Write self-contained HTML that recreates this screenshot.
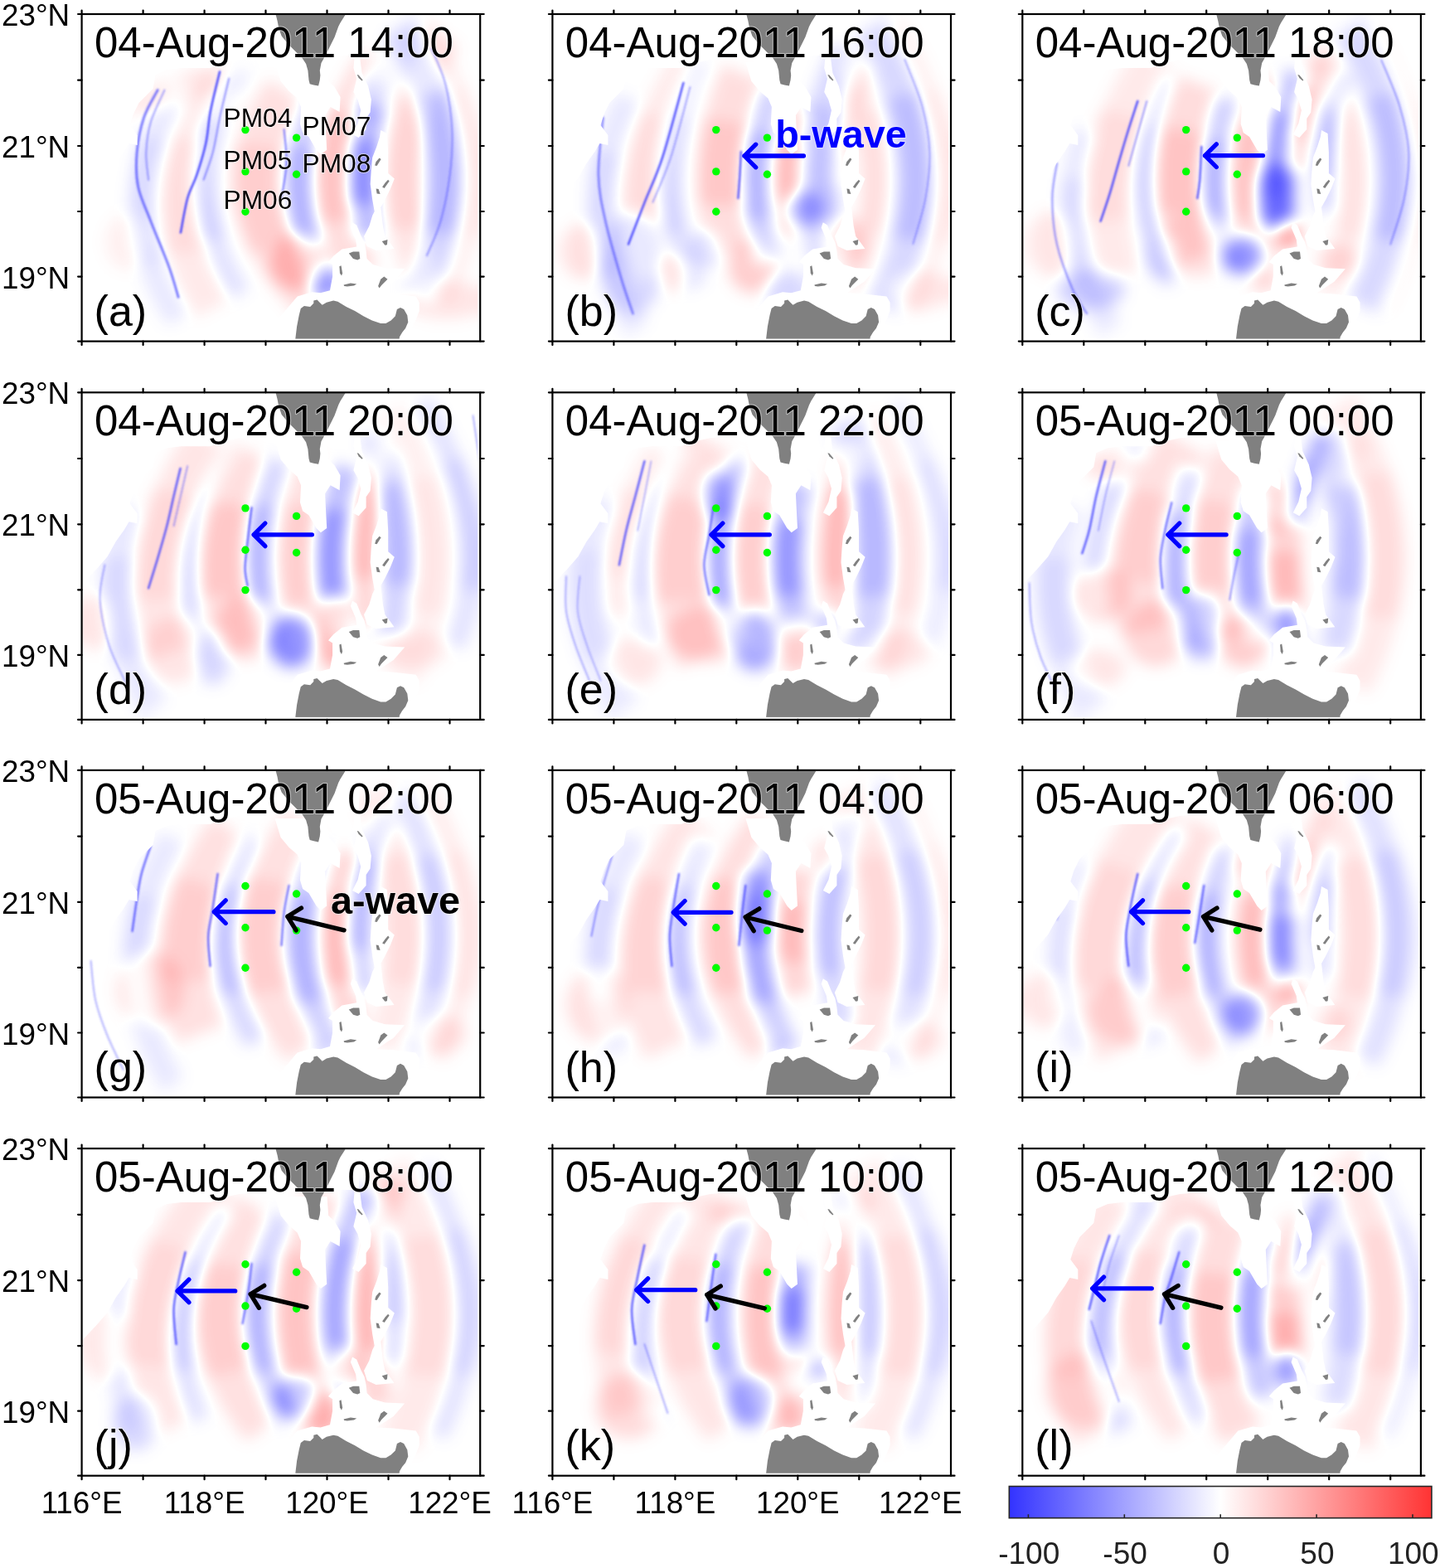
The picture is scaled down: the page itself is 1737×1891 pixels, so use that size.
<!DOCTYPE html><html><head><meta charset="utf-8"><style>html,body{margin:0;padding:0;background:#fff;}svg{display:block;}text{font-family:"Liberation Sans",Arial,sans-serif;}.t{font-size:51px;fill:#000;}.lb{font-size:52px;fill:#000;}.t,.lb,.pm,.wv{paint-order:stroke;stroke:#fff;stroke-opacity:0.5;stroke-width:2px;stroke-linejoin:round;}.ax{font-size:36.8px;fill:#000;}.cbl{font-size:37px;fill:#222;}.pm{font-size:31.7px;fill:#000;}.wv{font-size:46.8px;font-weight:bold;}</style></head><body>
<svg width="1737" height="1891" viewBox="0 0 1737 1891">
<defs>
<clipPath id="clipP"><rect x="0" y="0" width="480.6" height="394.6"/></clipPath>
<filter id="bl" x="-20%" y="-20%" width="140%" height="140%"><feGaussianBlur stdDeviation="9"/></filter>
<filter id="fld" filterUnits="userSpaceOnUse" x="0" y="0" width="480.6" height="394.6" color-interpolation-filters="sRGB"><feFlood flood-color="#000" result="bk"/><feMerge><feMergeNode in="bk"/><feMergeNode in="SourceGraphic"/></feMerge><feGaussianBlur stdDeviation="9"/><feColorMatrix type="matrix" values="1 0 -1 0 0  -1 0 1 0 0  0 0 0 0 0  0 0 0 0 1"/><feColorMatrix type="matrix" values="0 -0.8 0 0 1  -0.8 -0.8 0 0 1  -0.8 0 0 0 1  0 0 0 0 1"/></filter>
<filter id="bl2" x="-20%" y="-20%" width="140%" height="140%"><feGaussianBlur stdDeviation="3"/></filter>
<filter id="bl1" x="-20%" y="-20%" width="140%" height="140%"><feGaussianBlur stdDeviation="1"/></filter>
<linearGradient id="cb" x1="0" x2="1" y1="0" y2="0"><stop offset="0" stop-color="#3333ff"/><stop offset="0.5" stop-color="#ffffff"/><stop offset="1" stop-color="#ff3333"/></linearGradient>
<g id="statics"><polygon points="-5.0,-5.0 236.0,-5.0 233.0,43.0 215.0,53.0 190.0,55.0 172.0,59.0 155.0,65.0 120.0,65.0 103.0,67.0 89.0,73.0 86.0,90.0 74.0,102.0 69.0,107.0 62.0,121.0 58.0,134.0 67.0,146.0 67.0,158.0 57.0,156.0 51.0,166.0 41.0,180.0 31.0,198.0 17.0,214.0 0.0,232.0 -5.0,240.0" fill="#fff"/><polygon points="260.1,340.5 277.7,335.3 288.0,336.3 299.4,333.2 302.5,316.6 302.5,302.1 297.4,299.0 303.6,291.8 313.9,283.5 331.6,280.4 330.5,272.1 324.3,257.6 326.4,251.3 331.6,254.5 336.7,266.9 340.9,275.2 343.0,285.5 344.0,294.9 351.2,302.1 365.8,306.3 389.6,307.3 376.1,322.8 355.4,336.3 376.1,337.4 403.1,340.5 407.2,347.7 407.2,358.1 403.1,368.4 394.8,385.0 390.6,398.0 220.0,398.0 235.0,370.0" fill="#fff"/><polygon points="233.0,58.0 240.0,81.0 250.0,93.0 260.0,101.5 264.5,112.0 263.4,132.6 266.5,143.0 273.8,148.0 283.0,163.7 288.3,169.0 295.6,163.7 294.5,143.0 293.5,122.0 300.0,112.0 311.0,118.0 312.0,100.0 305.0,88.0 297.6,80.8 296.0,58.0" fill="#fff"/><polygon points="312.0,-2.0 336.0,-2.0 334.0,50.0 300.0,50.0 305.0,28.0 310.0,10.0" fill="#fff"/><polygon points="329.0,52.0 335.5,52.0 338.0,71.0 345.5,87.0 349.3,103.0 348.0,118.6 343.0,126.0 343.0,139.0 334.0,149.0 326.5,145.0 333.0,132.0 336.6,116.0 332.8,103.0 327.8,94.0 331.6,78.0 327.8,65.0" fill="#fff"/><polygon points="360.7,140.0 368.3,144.0 369.6,167.0 369.6,192.0 377.2,198.5 372.2,211.0 365.8,224.0 360.7,233.0 363.3,255.6 365.8,268.0 372.0,276.0 377.0,283.0 355.0,285.0 344.3,280.0 340.4,268.0 346.8,255.6 350.6,243.0 353.1,238.0 350.6,224.0 348.1,205.0 349.3,186.0 350.6,173.0 355.7,160.0 359.5,148.0" fill="#fff"/><polygon points="234.2,-2.0 234.2,1.3 236.0,8.2 237.1,14.0 239.4,22.0 241.1,26.6 249.8,37.0 261.3,48.5 265.9,53.1 270.5,60.0 272.8,68.1 273.9,79.6 275.1,84.2 279.7,85.4 285.5,86.5 287.2,79.6 287.8,73.8 287.2,68.1 288.9,58.9 293.5,50.8 300.4,37.0 305.0,27.8 309.6,15.1 311.9,10.5 317.7,1.3 317.7,-2.0" fill="#808080"/><polygon points="257.5,398.0 257.5,393.3 259.5,376.7 262.1,363.3 264.2,355.0 268.3,351.9 275.6,352.9 279.7,348.8 279.7,345.6 283.9,344.6 287.0,347.7 290.1,350.8 295.3,347.7 303.6,345.6 308.8,346.7 319.1,352.9 329.5,358.1 339.8,364.3 350.2,369.5 360.6,373.1 366.8,373.1 373.0,369.5 378.2,364.3 380.3,356.0 384.4,353.9 388.6,356.0 392.7,363.3 393.7,371.5 390.6,378.8 386.5,384.0 383.4,389.2 382.3,398.0" fill="#808080"/><rect x="477.6" y="0" width="3" height="394.6" fill="#fff"/><rect x="0" y="391.6" width="480.6" height="3" fill="#fff"/><polygon points="362.1,274.1 368.9,272.1 368.3,278.3 365.8,278.8" fill="#808080"/><polygon points="322.2,288.6 327.4,286.6 334.7,286.6 335.7,294.9 332.6,296.4 327.4,294.9" fill="#808080"/><polygon points="310.8,304.2 312.9,303.2 314.5,312.5 313.4,315.6 311.4,312.5" fill="#808080"/><polygon points="316.0,326.5 324.3,324.4 331.6,325.4 328.4,327.5 320.2,328.5 316.5,328.0" fill="#808080"/><polygon points="360.6,319.7 364.7,316.6 368.9,319.7 361.6,327.0 359.0,330.6 357.5,328.0 359.5,322.8" fill="#808080"/><polygon points="359.0,173.5 361.0,175.0 356.0,183.0 353.5,182.5 355.0,178.0" fill="#808080"/><polygon points="369.5,199.7 371.0,201.5 365.0,209.9 362.5,208.5 366.0,203.5" fill="#808080"/><polygon points="355.0,210.5 358.0,211.0 360.0,217.0 356.0,216.5" fill="#808080"/><polygon points="332.0,73.0 334.0,73.5 339.0,79.5 338.0,80.5 334.0,77.0" fill="#808080"/></g>
<g id="frame"><rect x="0" y="0" width="480.6" height="394.6" fill="none" stroke="#000" stroke-width="2.2"/><path d="M0.0,0 v-4.5 M0.0,394.6 v4.5 M74.0,0 v-4.5 M74.0,394.6 v4.5 M148.0,0 v-4.5 M148.0,394.6 v4.5 M221.9,0 v-4.5 M221.9,394.6 v4.5 M295.9,0 v-4.5 M295.9,394.6 v4.5 M369.9,0 v-4.5 M369.9,394.6 v4.5 M443.9,0 v-4.5 M443.9,394.6 v4.5 M0,0.0 h-4.5 M480.6,0.0 h4.5 M0,79.7 h-4.5 M480.6,79.7 h4.5 M0,159.0 h-4.5 M480.6,159.0 h4.5 M0,238.0 h-4.5 M480.6,238.0 h4.5 M0,316.6 h-4.5 M480.6,316.6 h4.5 M480.6,394.6 h4.5 M0,394.6 h-4.5 " stroke="#000" stroke-width="2.2" stroke-linecap="round" fill="none"/></g>
</defs>
<rect width="1737" height="1891" fill="#fff"/>
<g transform="translate(98.6,17.0)">
<rect x="0" y="0" width="480.6" height="394.6" fill="#fff"/>
<g clip-path="url(#clipP)">
<g filter="url(#fld)"><path d="M122.1,81.6 C120.8,83.5 117.1,89.1 114.7,92.9 C112.4,96.7 110.1,100.4 108.0,104.2 C105.8,108.0 103.8,111.7 101.8,115.5 C99.8,119.3 98.0,123.0 96.2,126.8 C94.4,130.6 92.8,134.3 91.2,138.1 C89.6,141.9 87.5,147.5 86.8,149.4" stroke="#0000ff" stroke-opacity="0.11" stroke-width="28" fill="none" stroke-linecap="butt"/><path d="M86.8,149.4 C85.5,153.6 81.1,166.2 79.0,174.6 C76.9,183.0 75.2,191.4 74.1,199.8 C72.9,208.2 72.2,216.6 72.1,225.0 C71.9,233.4 72.2,241.8 72.9,250.2 C73.7,258.6 75.0,267.0 76.7,275.4 C78.4,283.8 82.2,296.4 83.3,300.6" stroke="#0000ff" stroke-opacity="0.19" stroke-width="28" fill="none" stroke-linecap="butt"/><path d="M83.3,300.6 C84.0,302.5 85.8,308.1 87.2,311.9 C88.6,315.7 90.1,319.4 91.7,323.2 C93.3,327.0 95.0,330.7 96.8,334.5 C98.6,338.3 100.5,342.0 102.5,345.8 C104.5,349.6 106.5,353.3 108.7,357.1 C110.9,360.9 114.4,366.5 115.5,368.4" stroke="#0000ff" stroke-opacity="0.11" stroke-width="28" fill="none" stroke-linecap="butt"/><path d="M171.6,85.6 C170.4,87.5 166.6,93.1 164.2,96.8 C161.9,100.5 159.6,104.3 157.4,108.0 C155.3,111.7 153.2,115.5 151.2,119.2 C149.3,122.9 147.4,126.7 145.6,130.4 C143.8,134.1 142.2,137.9 140.6,141.6 C139.0,145.3 136.9,150.9 136.2,152.8" stroke="#ff0000" stroke-opacity="0.10" stroke-width="48" fill="none" stroke-linecap="butt"/><path d="M136.2,152.8 C135.0,156.5 131.1,167.7 129.2,175.2 C127.2,182.7 125.7,190.1 124.5,197.6 C123.3,205.1 122.6,212.5 122.2,220.0 C121.9,227.5 121.9,234.9 122.4,242.4 C122.8,249.9 123.6,257.3 124.9,264.8 C126.1,272.3 129.0,283.5 129.8,287.2" stroke="#ff0000" stroke-opacity="0.17" stroke-width="48" fill="none" stroke-linecap="butt"/><path d="M129.8,287.2 C130.3,289.1 131.9,294.7 133.1,298.4 C134.4,302.1 135.7,305.9 137.1,309.6 C138.5,313.3 140.0,317.1 141.6,320.8 C143.2,324.5 145.0,328.3 146.8,332.0 C148.6,335.7 150.5,339.5 152.5,343.2 C154.5,346.9 157.8,352.5 158.8,354.4" stroke="#ff0000" stroke-opacity="0.10" stroke-width="48" fill="none" stroke-linecap="butt"/><path d="M190.2,62.2 C189.1,64.0 185.7,69.4 183.6,73.0 C181.6,76.6 179.6,80.3 177.7,83.9 C175.7,87.5 173.9,91.1 172.2,94.7 C170.5,98.3 168.8,101.9 167.3,105.5 C165.7,109.1 164.3,112.8 162.9,116.4 C161.5,120.0 159.7,125.4 159.0,127.2" stroke="#0000ff" stroke-opacity="0.15" stroke-width="26" fill="none" stroke-linecap="butt"/><path d="M159.0,127.2 C157.9,131.2 154.1,143.4 152.4,151.5 C150.6,159.6 149.2,167.6 148.3,175.7 C147.4,183.8 147.0,191.9 147.0,200.0 C147.0,208.1 147.4,216.2 148.3,224.3 C149.2,232.4 150.6,240.4 152.4,248.5 C154.1,256.6 157.9,268.8 159.0,272.8" stroke="#0000ff" stroke-opacity="0.25" stroke-width="26" fill="none" stroke-linecap="butt"/><path d="M159.0,272.8 C159.7,274.6 161.5,280.0 162.9,283.6 C164.3,287.2 165.7,290.9 167.3,294.5 C168.8,298.1 170.5,301.7 172.2,305.3 C173.9,308.9 175.7,312.5 177.7,316.1 C179.6,319.7 181.6,323.4 183.6,327.0 C185.7,330.6 189.1,336.0 190.2,337.8" stroke="#0000ff" stroke-opacity="0.15" stroke-width="26" fill="none" stroke-linecap="butt"/><path d="M247.8,93.5 C246.6,95.3 242.8,100.7 240.5,104.3 C238.2,107.9 236.0,111.5 234.0,115.1 C232.0,118.7 230.1,122.3 228.3,126.0 C226.5,129.6 224.8,133.2 223.3,136.8 C221.8,140.4 220.4,144.0 219.2,147.6 C217.9,151.2 216.3,156.6 215.8,158.4" stroke="#ff0000" stroke-opacity="0.15" stroke-width="55" fill="none" stroke-linecap="butt"/><path d="M215.8,158.4 C215.1,161.8 212.4,172.1 211.5,178.9 C210.5,185.8 210.0,192.6 210.0,199.5 C210.0,206.3 210.4,213.2 211.3,220.0 C212.2,226.8 213.6,233.7 215.5,240.5 C217.3,247.4 219.6,254.2 222.4,261.1 C225.2,267.9 230.6,278.2 232.2,281.6" stroke="#ff0000" stroke-opacity="0.24" stroke-width="55" fill="none" stroke-linecap="butt"/><path d="M232.2,281.6 C233.2,283.4 236.2,288.8 238.5,292.4 C240.7,296.0 243.0,299.6 245.5,303.2 C248.0,306.8 250.6,310.4 253.4,314.1 C256.1,317.7 259.0,321.3 262.0,324.9 C265.0,328.5 268.1,332.1 271.4,335.7 C274.6,339.3 279.8,344.7 281.5,346.5" stroke="#ff0000" stroke-opacity="0.15" stroke-width="55" fill="none" stroke-linecap="butt"/><path d="M280.8,101.0 C280.3,102.6 278.5,107.4 277.4,110.6 C276.3,113.8 275.2,116.9 274.3,120.1 C273.3,123.3 272.4,126.5 271.5,129.7 C270.6,132.9 269.8,136.1 269.1,139.3 C268.3,142.5 267.7,145.6 267.0,148.8 C266.4,152.0 265.6,156.8 265.3,158.4" stroke="#0000ff" stroke-opacity="0.23" stroke-width="30" fill="none" stroke-linecap="butt"/><path d="M265.3,158.4 C264.9,161.8 263.4,172.1 262.9,178.9 C262.3,185.8 262.0,192.6 262.0,199.5 C262.0,206.3 262.2,213.2 262.8,220.0 C263.3,226.8 264.1,233.7 265.2,240.5 C266.2,247.4 267.6,254.2 269.2,261.1 C270.8,267.9 273.9,278.2 274.8,281.6" stroke="#0000ff" stroke-opacity="0.38" stroke-width="30" fill="none" stroke-linecap="butt"/><path d="M274.8,281.6 C275.3,283.2 276.9,288.0 278.0,291.2 C279.1,294.4 280.3,297.5 281.5,300.7 C282.7,303.9 284.0,307.1 285.4,310.3 C286.7,313.5 288.2,316.7 289.6,319.9 C291.1,323.1 292.6,326.2 294.2,329.4 C295.8,332.6 298.3,337.4 299.2,339.0" stroke="#0000ff" stroke-opacity="0.23" stroke-width="30" fill="none" stroke-linecap="butt"/><ellipse cx="291" cy="322" rx="18.9" ry="19.0" fill="#0000ff" fill-opacity="0.51"/><path d="M356.5,56.5 C355.3,58.3 351.5,63.6 349.1,67.2 C346.7,70.7 344.5,74.3 342.3,77.9 C340.1,81.4 338.0,85.0 336.1,88.5 C334.1,92.1 332.2,95.7 330.4,99.2 C328.6,102.8 326.9,106.4 325.3,109.9 C323.7,113.5 321.5,118.8 320.8,120.6" stroke="#ff0000" stroke-opacity="0.17" stroke-width="45" fill="none" stroke-linecap="butt"/><path d="M320.8,120.6 C319.5,124.2 315.5,134.9 313.4,142.1 C311.3,149.2 309.6,156.4 308.3,163.5 C307.0,170.7 306.1,177.8 305.6,185.0 C305.0,192.2 304.9,199.3 305.1,206.5 C305.3,213.6 306.0,220.8 307.0,227.9 C308.0,235.1 310.4,245.8 311.1,249.4" stroke="#ff0000" stroke-opacity="0.29" stroke-width="45" fill="none" stroke-linecap="butt"/><path d="M311.1,249.4 C311.6,251.2 313.0,256.5 314.0,260.1 C315.1,263.6 316.3,267.2 317.5,270.8 C318.8,274.3 320.1,277.9 321.6,281.4 C323.0,285.0 324.6,288.6 326.2,292.1 C327.9,295.7 329.6,299.3 331.4,302.8 C333.3,306.4 336.2,311.7 337.2,313.5" stroke="#ff0000" stroke-opacity="0.17" stroke-width="45" fill="none" stroke-linecap="butt"/><path d="M351.4,110.4 C351.1,111.5 350.1,114.9 349.4,117.1 C348.8,119.4 348.2,121.6 347.7,123.9 C347.1,126.1 346.5,128.4 346.0,130.6 C345.5,132.8 345.0,135.1 344.5,137.3 C344.1,139.6 343.6,141.8 343.2,144.1 C342.8,146.3 342.2,149.7 342.0,150.8" stroke="#0000ff" stroke-opacity="0.34" stroke-width="32" fill="none" stroke-linecap="butt"/><path d="M342.0,150.8 C341.7,153.0 340.7,159.5 340.2,163.9 C339.7,168.2 339.2,172.6 338.9,176.9 C338.6,181.3 338.3,185.6 338.2,190.0 C338.0,194.4 338.0,198.7 338.0,203.1 C338.1,207.4 338.2,211.8 338.4,216.1 C338.7,220.5 339.3,227.0 339.4,229.2" stroke="#0000ff" stroke-opacity="0.57" stroke-width="32" fill="none" stroke-linecap="butt"/><path d="M339.4,229.2 C339.5,230.3 339.9,233.7 340.2,235.9 C340.4,238.2 340.7,240.4 341.0,242.7 C341.4,244.9 341.7,247.2 342.1,249.4 C342.4,251.6 342.8,253.9 343.3,256.1 C343.7,258.4 344.1,260.6 344.6,262.9 C345.1,265.1 345.8,268.5 346.1,269.6" stroke="#0000ff" stroke-opacity="0.34" stroke-width="32" fill="none" stroke-linecap="butt"/><path d="M362.2,61.0 C361.9,61.6 361.1,63.3 360.6,64.5 C360.1,65.7 359.5,66.9 359.0,68.0 C358.5,69.2 358.0,70.4 357.5,71.5 C357.0,72.7 356.5,73.9 356.0,75.1 C355.5,76.2 355.0,77.4 354.6,78.6 C354.1,79.8 353.4,81.5 353.2,82.1" stroke="#0000ff" stroke-opacity="0.17" stroke-width="30" fill="none" stroke-linecap="butt"/><path d="M353.2,82.1 C352.8,83.0 351.8,85.5 351.2,87.2 C350.6,88.9 349.9,90.7 349.3,92.4 C348.7,94.1 348.1,95.8 347.5,97.5 C346.9,99.2 346.4,100.9 345.8,102.6 C345.2,104.3 344.7,106.1 344.2,107.8 C343.7,109.5 342.9,112.0 342.6,112.9" stroke="#0000ff" stroke-opacity="0.28" stroke-width="30" fill="none" stroke-linecap="butt"/><path d="M342.6,112.9 C342.5,113.5 342.0,115.2 341.6,116.4 C341.3,117.6 341.0,118.8 340.7,119.9 C340.4,121.1 340.1,122.3 339.8,123.5 C339.5,124.6 339.2,125.8 338.9,127.0 C338.6,128.1 338.3,129.3 338.1,130.5 C337.8,131.7 337.4,133.4 337.3,134.0" stroke="#0000ff" stroke-opacity="0.17" stroke-width="30" fill="none" stroke-linecap="butt"/><path d="M437.3,28.0 C436.2,30.0 432.7,36.2 430.5,40.3 C428.3,44.4 426.3,48.4 424.2,52.5 C422.2,56.6 420.3,60.7 418.5,64.8 C416.6,68.9 414.9,73.0 413.2,77.1 C411.5,81.2 409.9,85.2 408.4,89.3 C406.9,93.4 404.8,99.6 404.1,101.6" stroke="#ff0000" stroke-opacity="0.13" stroke-width="40" fill="none" stroke-linecap="butt"/><path d="M404.1,101.6 C402.9,106.0 398.8,119.0 396.7,127.7 C394.6,136.4 392.9,145.2 391.5,153.9 C390.2,162.6 389.2,171.3 388.7,180.0 C388.1,188.7 387.9,197.4 388.1,206.1 C388.2,214.8 388.8,223.6 389.7,232.3 C390.7,241.0 393.0,254.0 393.7,258.4" stroke="#ff0000" stroke-opacity="0.21" stroke-width="40" fill="none" stroke-linecap="butt"/><path d="M393.7,258.4 C394.1,260.4 395.4,266.6 396.3,270.7 C397.3,274.8 398.3,278.8 399.5,282.9 C400.6,287.0 401.8,291.1 403.1,295.2 C404.4,299.3 405.8,303.4 407.2,307.5 C408.7,311.6 410.3,315.6 411.9,319.7 C413.5,323.8 416.2,330.0 417.0,332.0" stroke="#ff0000" stroke-opacity="0.13" stroke-width="40" fill="none" stroke-linecap="butt"/><path d="M382.8,18.0 C384.1,20.2 388.0,26.7 390.4,31.0 C392.8,35.3 395.2,39.7 397.4,44.0 C399.7,48.3 401.9,52.7 403.9,57.0 C406.0,61.3 408.0,65.7 409.8,70.0 C411.7,74.3 413.5,78.7 415.2,83.0 C416.9,87.3 419.2,93.8 420.0,96.0" stroke="#0000ff" stroke-opacity="0.21" stroke-width="40" fill="none" stroke-linecap="butt"/><path d="M420.0,96.0 C421.4,100.7 426.0,114.7 428.4,124.0 C430.7,133.3 432.7,142.7 434.2,152.0 C435.7,161.3 436.7,170.7 437.3,180.0 C438.0,189.3 438.1,198.7 437.9,208.0 C437.6,217.3 437.0,226.7 435.8,236.0 C434.7,245.3 432.0,259.3 431.2,264.0" stroke="#0000ff" stroke-opacity="0.35" stroke-width="40" fill="none" stroke-linecap="butt"/><path d="M431.2,264.0 C430.7,266.2 429.2,272.7 428.1,277.0 C427.0,281.3 425.8,285.7 424.5,290.0 C423.2,294.3 421.8,298.7 420.3,303.0 C418.8,307.3 417.2,311.7 415.6,316.0 C413.9,320.3 412.1,324.7 410.3,329.0 C408.4,333.3 405.4,339.8 404.4,342.0" stroke="#0000ff" stroke-opacity="0.21" stroke-width="40" fill="none" stroke-linecap="butt"/><path d="M414.0,13.4 C415.3,15.5 419.2,22.0 421.7,26.2 C424.2,30.5 426.5,34.8 428.8,39.1 C431.1,43.3 433.3,47.6 435.4,51.9 C437.6,56.2 439.6,60.5 441.5,64.7 C443.4,69.0 445.3,73.3 447.0,77.6 C448.8,81.8 451.2,88.3 452.0,90.4" stroke="#ff0000" stroke-opacity="0.07" stroke-width="22" fill="none" stroke-linecap="butt"/><path d="M452.0,90.4 C453.6,95.4 458.8,110.3 461.4,120.3 C464.1,130.2 466.2,140.2 467.9,150.1 C469.5,160.1 470.7,170.0 471.3,180.0 C472.0,190.0 472.2,199.9 471.8,209.9 C471.5,219.8 470.7,229.8 469.4,239.7 C468.1,249.7 464.8,264.6 463.9,269.6" stroke="#ff0000" stroke-opacity="0.12" stroke-width="22" fill="none" stroke-linecap="butt"/><path d="M463.9,269.6 C463.4,271.7 461.9,278.2 460.7,282.4 C459.5,286.7 458.2,291.0 456.9,295.3 C455.5,299.5 454.1,303.8 452.5,308.1 C451.0,312.4 449.3,316.7 447.6,320.9 C445.9,325.2 444.1,329.5 442.2,333.8 C440.3,338.0 437.2,344.5 436.2,346.6" stroke="#ff0000" stroke-opacity="0.07" stroke-width="22" fill="none" stroke-linecap="butt"/><ellipse cx="125" cy="89" rx="74.2" ry="16.8" fill="#ff0000" fill-opacity="0.12" transform="rotate(-20 125 89)"/><ellipse cx="55" cy="275" rx="27.0" ry="33.6" fill="#ff0000" fill-opacity="0.07"/><ellipse cx="262" cy="300" rx="35.1" ry="33.6" fill="#ff0000" fill-opacity="0.29"/><ellipse cx="440" cy="345" rx="54.0" ry="22.4" fill="#ff0000" fill-opacity="0.12"/></g><g filter="url(#bl1)"><path d="M166.5,69.4 C164.7,77.2 158.2,102.2 155.4,116.5 C152.6,130.8 152.6,142.5 149.8,155.4 C147.0,168.3 142.4,183.1 138.7,194.2 C135.0,205.3 130.8,210.4 127.6,222.0 C124.4,233.6 120.7,256.7 119.3,263.6" stroke="#3a3aff" stroke-opacity="0.91" stroke-width="2.5" fill="none" stroke-linecap="round"/><path d="M177.6,77.7 C175.8,85.6 169.7,110.1 166.5,124.9 C163.3,139.7 161.4,154.0 158.2,166.5 C154.9,179.0 148.9,194.2 147.0,199.8" stroke="#3a3aff" stroke-opacity="0.52" stroke-width="2" fill="none" stroke-linecap="round"/><path d="M91.6,91.6 C88.8,97.1 79.1,112.4 74.9,124.9 C70.7,137.4 67.8,152.7 66.6,166.5 C65.4,180.3 65.2,194.1 68.0,208.0 C70.8,221.9 77.0,233.5 83.2,249.7 C89.4,265.9 99.9,289.9 105.4,305.2 C111.0,320.5 114.7,335.3 116.5,341.3" stroke="#3a3aff" stroke-opacity="0.65" stroke-width="3" fill="none" stroke-linecap="round"/><path d="M99.9,91.6 C97.1,98.1 86.9,117.9 83.2,130.4 C79.5,142.9 78.2,154.9 77.7,166.5 C77.2,178.1 80.0,194.2 80.5,199.8" stroke="#3a3aff" stroke-opacity="0.45" stroke-width="2" fill="none" stroke-linecap="round"/><path d="M421.8,41.6 C424.6,48.5 434.2,67.0 438.4,83.2 C442.5,99.4 445.8,120.2 446.7,138.7 C447.6,157.2 446.3,175.7 444.0,194.2 C441.7,212.7 437.5,233.5 432.9,249.7 C428.3,265.9 419.0,284.4 416.2,291.3" stroke="#3a3aff" stroke-opacity="0.45" stroke-width="2" fill="none" stroke-linecap="round"/><path d="M244.0,139.0 C244.5,145.8 247.5,166.2 247.0,180.0 C246.5,193.8 242.0,215.0 241.0,222.0" stroke="#3a3aff" stroke-opacity="0.65" stroke-width="2" fill="none" stroke-linecap="round"/></g>
<use href="#statics"/>
</g>
<use href="#frame"/>
<text class="t" transform="translate(15.4,51.9) scale(1,1.03)">04-Aug-2011 14:00</text>
<text class="lb" x="15.0" y="376.2">(a)</text>
<circle cx="197.4" cy="139.6" r="4.7" fill="#00ff00"/><circle cx="197.4" cy="189.9" r="4.7" fill="#00ff00"/><circle cx="197.4" cy="238.3" r="4.7" fill="#00ff00"/><circle cx="259" cy="149.1" r="4.7" fill="#00ff00"/><circle cx="259" cy="193.2" r="4.7" fill="#00ff00"/><text class="pm" x="170.9" y="135.8">PM04</text><text class="pm" x="170.9" y="186.8">PM05</text><text class="pm" x="170.9" y="234.8">PM06</text><text class="pm" x="265.9" y="145.6">PM07</text><text class="pm" x="265.9" y="190.7">PM08</text>
</g>
<g transform="translate(666.4,17.0)">
<rect x="0" y="0" width="480.6" height="394.6" fill="#fff"/>
<g clip-path="url(#clipP)">
<g filter="url(#fld)"><path d="M91.3,101.0 C90.4,102.8 87.6,108.4 85.8,112.0 C84.1,115.7 82.4,119.4 80.9,123.1 C79.3,126.7 77.8,130.4 76.4,134.1 C75.0,137.8 73.7,141.5 72.4,145.1 C71.2,148.8 70.0,152.5 68.9,156.2 C67.8,159.8 66.4,165.4 65.9,167.2" stroke="#0000ff" stroke-opacity="0.11" stroke-width="30" fill="none" stroke-linecap="butt"/><path d="M65.9,167.2 C65.1,171.2 62.2,183.4 61.0,191.5 C59.7,199.6 58.9,207.6 58.4,215.7 C57.9,223.8 57.9,231.9 58.2,240.0 C58.5,248.1 59.2,256.2 60.3,264.3 C61.5,272.4 63.0,280.4 64.9,288.5 C66.7,296.6 70.6,308.8 71.7,312.8" stroke="#0000ff" stroke-opacity="0.19" stroke-width="30" fill="none" stroke-linecap="butt"/><path d="M71.7,312.8 C72.4,314.6 74.2,320.2 75.6,323.8 C77.0,327.5 78.5,331.2 80.0,334.9 C81.5,338.5 83.2,342.2 84.9,345.9 C86.6,349.6 88.4,353.3 90.2,356.9 C92.1,360.6 94.0,364.3 96.1,368.0 C98.1,371.6 101.3,377.2 102.4,379.0" stroke="#0000ff" stroke-opacity="0.11" stroke-width="30" fill="none" stroke-linecap="butt"/><path d="M168.8,60.0 C167.6,61.8 164.0,67.2 161.7,70.8 C159.4,74.3 157.2,77.9 155.1,81.5 C153.0,85.1 150.9,88.7 149.0,92.2 C147.0,95.8 145.1,99.4 143.3,103.0 C141.4,106.6 139.7,110.2 138.0,113.8 C136.4,117.3 134.1,122.7 133.3,124.5" stroke="#ff0000" stroke-opacity="0.10" stroke-width="50" fill="none" stroke-linecap="butt"/><path d="M133.3,124.5 C131.9,128.0 127.6,138.5 125.3,145.5 C122.9,152.5 120.8,159.5 119.1,166.5 C117.3,173.5 115.8,180.5 114.6,187.5 C113.4,194.5 112.5,201.5 111.9,208.5 C111.3,215.5 111.0,222.5 111.0,229.5 C111.0,236.5 111.7,247.0 111.8,250.5" stroke="#ff0000" stroke-opacity="0.17" stroke-width="50" fill="none" stroke-linecap="butt"/><path d="M111.8,250.5 C112.0,252.3 112.5,257.7 113.0,261.2 C113.4,264.8 113.9,268.4 114.5,272.0 C115.1,275.6 115.8,279.2 116.6,282.8 C117.3,286.3 118.2,289.9 119.1,293.5 C120.0,297.1 121.0,300.7 122.0,304.2 C123.1,307.8 124.9,313.2 125.5,315.0" stroke="#ff0000" stroke-opacity="0.10" stroke-width="50" fill="none" stroke-linecap="butt"/><path d="M178.3,61.6 C177.4,63.4 174.5,68.6 172.7,72.2 C170.9,75.7 169.2,79.2 167.5,82.7 C165.9,86.3 164.3,89.8 162.8,93.3 C161.3,96.8 159.8,100.3 158.5,103.9 C157.1,107.4 155.8,110.9 154.6,114.4 C153.4,118.0 151.8,123.2 151.2,125.0" stroke="#0000ff" stroke-opacity="0.14" stroke-width="28" fill="none" stroke-linecap="butt"/><path d="M151.2,125.0 C150.3,128.9 146.9,140.6 145.3,148.3 C143.7,156.1 142.5,163.9 141.6,171.7 C140.7,179.4 140.2,187.2 140.1,195.0 C139.9,202.8 140.1,210.6 140.7,218.3 C141.2,226.1 142.2,233.9 143.5,241.7 C144.8,249.4 147.6,261.1 148.4,265.0" stroke="#0000ff" stroke-opacity="0.23" stroke-width="28" fill="none" stroke-linecap="butt"/><path d="M148.4,265.0 C148.9,266.8 150.4,272.0 151.4,275.6 C152.5,279.1 153.6,282.6 154.8,286.1 C156.1,289.7 157.3,293.2 158.7,296.7 C160.1,300.2 161.5,303.7 163.0,307.3 C164.5,310.8 166.1,314.3 167.8,317.8 C169.4,321.4 172.1,326.6 173.0,328.4" stroke="#0000ff" stroke-opacity="0.14" stroke-width="28" fill="none" stroke-linecap="butt"/><path d="M232.1,72.6 C231.4,74.2 229.4,78.9 228.2,82.1 C226.9,85.3 225.7,88.4 224.6,91.6 C223.4,94.8 222.3,97.9 221.3,101.1 C220.3,104.3 219.3,107.4 218.3,110.6 C217.4,113.8 216.5,116.9 215.6,120.1 C214.8,123.3 213.7,128.0 213.3,129.6" stroke="#ff0000" stroke-opacity="0.16" stroke-width="58" fill="none" stroke-linecap="butt"/><path d="M213.3,129.6 C212.7,132.4 210.8,140.8 209.8,146.4 C208.8,152.0 207.9,157.6 207.3,163.2 C206.6,168.8 206.0,174.4 205.7,180.0 C205.3,185.6 205.1,191.2 205.0,196.8 C205.0,202.4 205.1,208.0 205.3,213.6 C205.6,219.2 206.3,227.6 206.5,230.4" stroke="#ff0000" stroke-opacity="0.27" stroke-width="58" fill="none" stroke-linecap="butt"/><path d="M206.5,230.4 C206.7,232.0 207.2,236.7 207.7,239.9 C208.1,243.1 208.5,246.2 209.1,249.4 C209.6,252.6 210.2,255.7 210.8,258.9 C211.4,262.1 212.1,265.2 212.8,268.4 C213.5,271.6 214.3,274.7 215.1,277.9 C215.9,281.1 217.3,285.8 217.7,287.4" stroke="#ff0000" stroke-opacity="0.16" stroke-width="58" fill="none" stroke-linecap="butt"/><ellipse cx="241" cy="305" rx="28.4" ry="31.4" fill="#ff0000" fill-opacity="0.24"/><path d="M263.8,91.0 C263.3,92.4 261.8,96.6 260.8,99.5 C259.9,102.3 259.0,105.1 258.1,107.9 C257.3,110.8 256.4,113.6 255.6,116.4 C254.9,119.2 254.1,122.0 253.4,124.9 C252.7,127.7 252.0,130.5 251.4,133.3 C250.8,136.2 249.9,140.4 249.6,141.8" stroke="#0000ff" stroke-opacity="0.23" stroke-width="30" fill="none" stroke-linecap="butt"/><path d="M249.6,141.8 C249.2,144.8 247.5,153.6 246.7,159.5 C245.9,165.4 245.3,171.4 244.9,177.3 C244.4,183.2 244.1,189.1 244.0,195.0 C243.9,200.9 244.0,206.8 244.3,212.7 C244.5,218.6 244.9,224.6 245.5,230.5 C246.1,236.4 247.5,245.2 247.9,248.2" stroke="#0000ff" stroke-opacity="0.38" stroke-width="30" fill="none" stroke-linecap="butt"/><path d="M247.9,248.2 C248.1,249.6 248.8,253.8 249.4,256.7 C249.9,259.5 250.5,262.3 251.1,265.1 C251.7,268.0 252.3,270.8 253.0,273.6 C253.7,276.4 254.5,279.2 255.2,282.1 C256.0,284.9 256.8,287.7 257.7,290.5 C258.5,293.4 259.9,297.6 260.3,299.0" stroke="#0000ff" stroke-opacity="0.23" stroke-width="30" fill="none" stroke-linecap="butt"/><path d="M302.4,118.0 C302.1,119.1 301.1,122.3 300.4,124.4 C299.8,126.5 299.2,128.7 298.6,130.8 C298.0,132.9 297.4,135.1 296.9,137.2 C296.4,139.3 295.8,141.5 295.4,143.6 C294.9,145.7 294.4,147.9 294.0,150.0 C293.6,152.1 293.0,155.3 292.8,156.4" stroke="#ff0000" stroke-opacity="0.20" stroke-width="40" fill="none" stroke-linecap="butt"/><path d="M292.8,156.4 C292.5,158.3 291.6,163.9 291.1,167.6 C290.6,171.3 290.2,175.1 289.9,178.8 C289.6,182.5 289.3,186.3 289.2,190.0 C289.1,193.7 289.0,197.5 289.0,201.2 C289.0,204.9 289.1,208.7 289.3,212.4 C289.5,216.1 290.0,221.7 290.1,223.6" stroke="#ff0000" stroke-opacity="0.34" stroke-width="40" fill="none" stroke-linecap="butt"/><path d="M290.1,223.6 C290.2,224.7 290.5,227.9 290.8,230.0 C291.1,232.1 291.3,234.3 291.6,236.4 C292.0,238.5 292.3,240.7 292.7,242.8 C293.0,244.9 293.4,247.1 293.8,249.2 C294.3,251.3 294.7,253.5 295.2,255.6 C295.7,257.7 296.4,260.9 296.7,262.0" stroke="#ff0000" stroke-opacity="0.20" stroke-width="40" fill="none" stroke-linecap="butt"/><path d="M358.3,46.5 C357.4,48.3 354.6,53.9 352.8,57.5 C351.1,61.2 349.4,64.9 347.8,68.6 C346.2,72.3 344.6,76.0 343.1,79.7 C341.7,83.3 340.3,87.0 338.9,90.7 C337.6,94.4 336.3,98.1 335.1,101.8 C333.9,105.4 332.2,111.0 331.7,112.8" stroke="#0000ff" stroke-opacity="0.19" stroke-width="45" fill="none" stroke-linecap="butt"/><path d="M331.7,112.8 C330.7,116.5 327.6,127.7 326.0,135.2 C324.4,142.7 323.1,150.1 322.0,157.6 C320.9,165.1 320.2,172.5 319.7,180.0 C319.2,187.5 318.9,194.9 319.0,202.4 C319.1,209.9 319.4,217.3 320.0,224.8 C320.6,232.3 322.3,243.5 322.7,247.2" stroke="#0000ff" stroke-opacity="0.32" stroke-width="45" fill="none" stroke-linecap="butt"/><path d="M322.7,247.2 C323.0,249.0 323.9,254.6 324.7,258.2 C325.4,261.9 326.2,265.6 327.0,269.3 C327.9,273.0 328.8,276.7 329.8,280.4 C330.7,284.0 331.8,287.7 332.9,291.4 C334.0,295.1 335.2,298.8 336.5,302.4 C337.8,306.1 339.8,311.7 340.5,313.5" stroke="#0000ff" stroke-opacity="0.19" stroke-width="45" fill="none" stroke-linecap="butt"/><ellipse cx="305" cy="236" rx="20.2" ry="22.4" fill="#0000ff" fill-opacity="0.44"/><path d="M381.3,52.5 C380.7,53.6 379.2,56.8 378.2,58.9 C377.2,61.0 376.2,63.1 375.3,65.3 C374.3,67.4 373.4,69.5 372.5,71.7 C371.5,73.8 370.7,75.9 369.8,78.0 C368.9,80.2 368.1,82.3 367.3,84.4 C366.4,86.5 365.3,89.7 364.9,90.8" stroke="#ff0000" stroke-opacity="0.09" stroke-width="25" fill="none" stroke-linecap="butt"/><path d="M364.9,90.8 C364.1,93.0 361.8,99.5 360.4,103.9 C359.0,108.2 357.7,112.6 356.5,116.9 C355.3,121.3 354.2,125.6 353.2,130.0 C352.2,134.4 351.2,138.7 350.4,143.1 C349.6,147.4 348.8,151.8 348.2,156.1 C347.6,160.5 346.9,167.0 346.6,169.2" stroke="#ff0000" stroke-opacity="0.15" stroke-width="25" fill="none" stroke-linecap="butt"/><path d="M346.6,169.2 C346.5,170.3 346.2,173.5 346.0,175.6 C345.8,177.7 345.7,179.8 345.5,182.0 C345.4,184.1 345.3,186.2 345.2,188.3 C345.1,190.5 345.1,192.6 345.0,194.7 C345.0,196.9 345.0,199.0 345.0,201.1 C345.0,203.2 345.1,206.4 345.1,207.5" stroke="#ff0000" stroke-opacity="0.09" stroke-width="25" fill="none" stroke-linecap="butt"/><ellipse cx="352" cy="277" rx="27.0" ry="31.4" fill="#ff0000" fill-opacity="0.21"/><path d="M351.3,51.6 C352.2,53.4 354.8,58.9 356.5,62.5 C358.2,66.2 359.8,69.8 361.3,73.5 C362.9,77.1 364.3,80.8 365.7,84.4 C367.1,88.0 368.5,91.7 369.7,95.3 C371.0,99.0 372.2,102.6 373.4,106.3 C374.5,109.9 376.0,115.4 376.6,117.2" stroke="#ff0000" stroke-opacity="0.10" stroke-width="28" fill="none" stroke-linecap="butt"/><path d="M376.6,117.2 C377.5,121.2 380.7,133.4 382.3,141.5 C383.9,149.6 385.1,157.6 386.0,165.7 C387.0,173.8 387.6,181.9 387.8,190.0 C388.1,198.1 388.0,206.2 387.7,214.3 C387.3,222.4 386.6,230.4 385.5,238.5 C384.5,246.6 382.1,258.8 381.4,262.8" stroke="#ff0000" stroke-opacity="0.17" stroke-width="28" fill="none" stroke-linecap="butt"/><path d="M381.4,262.8 C381.0,264.6 379.8,270.1 378.9,273.7 C378.0,277.4 377.1,281.0 376.1,284.7 C375.0,288.3 373.9,292.0 372.8,295.6 C371.6,299.2 370.4,302.9 369.1,306.5 C367.8,310.2 366.4,313.8 365.0,317.5 C363.6,321.1 361.3,326.6 360.5,328.4" stroke="#ff0000" stroke-opacity="0.10" stroke-width="28" fill="none" stroke-linecap="butt"/><path d="M382.8,18.0 C384.1,20.2 388.1,26.9 390.6,31.4 C393.1,35.8 395.5,40.3 397.8,44.7 C400.1,49.2 402.3,53.6 404.4,58.1 C406.5,62.6 408.6,67.0 410.5,71.5 C412.4,75.9 414.2,80.4 415.9,84.8 C417.6,89.3 419.9,96.0 420.7,98.2" stroke="#0000ff" stroke-opacity="0.19" stroke-width="40" fill="none" stroke-linecap="butt"/><path d="M420.7,98.2 C422.1,103.0 426.8,117.5 429.2,127.1 C431.5,136.8 433.4,146.4 434.8,156.1 C436.2,165.7 437.1,175.4 437.6,185.0 C438.1,194.6 438.1,204.3 437.7,213.9 C437.2,223.6 436.3,233.2 434.9,242.9 C433.6,252.5 430.3,267.0 429.4,271.8" stroke="#0000ff" stroke-opacity="0.32" stroke-width="40" fill="none" stroke-linecap="butt"/><path d="M429.4,271.8 C428.8,274.0 427.2,280.7 425.9,285.2 C424.6,289.6 423.3,294.1 421.8,298.5 C420.4,303.0 418.8,307.4 417.1,311.9 C415.5,316.4 413.7,320.8 411.8,325.3 C410.0,329.7 408.0,334.2 406.0,338.6 C403.9,343.1 400.6,349.8 399.5,352.0" stroke="#0000ff" stroke-opacity="0.19" stroke-width="40" fill="none" stroke-linecap="butt"/><path d="M414.0,13.4 C415.3,15.6 419.3,22.2 421.9,26.6 C424.4,31.0 426.9,35.4 429.2,39.8 C431.6,44.2 433.8,48.6 436.0,53.0 C438.1,57.4 440.2,61.8 442.2,66.2 C444.1,70.6 446.0,75.0 447.8,79.4 C449.5,83.8 451.9,90.4 452.8,92.6" stroke="#ff0000" stroke-opacity="0.07" stroke-width="22" fill="none" stroke-linecap="butt"/><path d="M452.8,92.6 C454.3,97.7 459.6,113.1 462.2,123.4 C464.8,133.7 466.9,143.9 468.5,154.2 C470.1,164.5 471.1,174.7 471.6,185.0 C472.1,195.3 472.1,205.5 471.6,215.8 C471.0,226.1 470.0,236.3 468.4,246.6 C466.8,256.9 463.1,272.3 462.0,277.4" stroke="#ff0000" stroke-opacity="0.12" stroke-width="22" fill="none" stroke-linecap="butt"/><path d="M462.0,277.4 C461.4,279.6 459.6,286.2 458.3,290.6 C457.0,295.0 455.6,299.4 454.0,303.8 C452.5,308.2 450.9,312.6 449.2,317.0 C447.5,321.4 445.7,325.8 443.7,330.2 C441.8,334.6 439.8,339.0 437.7,343.4 C435.6,347.8 432.2,354.4 431.1,356.6" stroke="#ff0000" stroke-opacity="0.07" stroke-width="22" fill="none" stroke-linecap="butt"/><ellipse cx="36" cy="286" rx="24.3" ry="33.6" fill="#ff0000" fill-opacity="0.15"/><ellipse cx="444" cy="333" rx="40.5" ry="22.4" fill="#ff0000" fill-opacity="0.12"/><ellipse cx="144" cy="311" rx="20.2" ry="22.4" fill="#ff0000" fill-opacity="0.15"/><ellipse cx="183" cy="283" rx="20.2" ry="22.4" fill="#0000ff" fill-opacity="0.19"/><ellipse cx="283" cy="333" rx="27.0" ry="22.4" fill="#0000ff" fill-opacity="0.19"/><ellipse cx="97" cy="300" rx="37.8" ry="61.6" fill="#0000ff" fill-opacity="0.19"/></g><g filter="url(#bl1)"><path d="M158.0,83.0 C153.8,97.8 140.8,147.9 133.0,172.0 C125.2,196.1 117.9,209.9 111.0,227.5 C104.1,245.1 94.8,269.2 91.6,277.5" stroke="#3a3aff" stroke-opacity="0.85" stroke-width="2.5" fill="none" stroke-linecap="round"/><path d="M166.0,88.0 C162.2,102.0 150.5,148.8 143.0,172.0 C135.5,195.2 124.7,217.8 121.0,227.0" stroke="#3a3aff" stroke-opacity="0.45" stroke-width="1.8" fill="none" stroke-linecap="round"/><path d="M61.0,125.0 C60.1,136.5 55.0,173.2 55.5,194.0 C56.0,214.8 59.4,229.2 64.0,250.0 C68.6,270.8 77.5,300.5 83.0,319.0 C88.5,337.5 94.7,354.0 97.0,361.0" stroke="#3a3aff" stroke-opacity="0.52" stroke-width="3" fill="none" stroke-linecap="round"/><path d="M227.5,166.0 C227.2,170.8 226.6,185.7 226.0,195.0 C225.4,204.3 224.3,217.5 224.0,222.0" stroke="#3a3aff" stroke-opacity="0.78" stroke-width="2.5" fill="none" stroke-linecap="round"/><path d="M425.0,55.0 C428.5,64.3 441.0,92.5 446.0,111.0 C451.0,129.5 454.3,147.5 455.0,166.0 C455.7,184.5 453.3,203.5 450.0,222.0 C446.7,240.5 437.5,267.8 435.0,277.0" stroke="#3a3aff" stroke-opacity="0.39" stroke-width="2" fill="none" stroke-linecap="round"/></g>
<use href="#statics"/>
</g>
<use href="#frame"/>
<text class="t" transform="translate(15.4,51.9) scale(1,1.03)">04-Aug-2011 16:00</text>
<text class="lb" x="15.0" y="376.2">(b)</text>
<circle cx="197.4" cy="139.6" r="4.7" fill="#00ff00"/><circle cx="197.4" cy="189.9" r="4.7" fill="#00ff00"/><circle cx="197.4" cy="238.3" r="4.7" fill="#00ff00"/><circle cx="259" cy="149.1" r="4.7" fill="#00ff00"/><circle cx="259" cy="193.2" r="4.7" fill="#00ff00"/><path d="M303.0,171.0 L231.5,171.0 M245.3,184.8 L231.5,171.0 L245.3,157.2" stroke="#0000ff" stroke-width="5.3" fill="none" stroke-linecap="round" stroke-linejoin="round"/><text class="wv" x="268.8" y="160.7" fill="#0000ff">b-wave</text>
</g>
<g transform="translate(1233.3,17.0)">
<rect x="0" y="0" width="480.6" height="394.6" fill="#fff"/>
<g clip-path="url(#clipP)">
<g filter="url(#fld)"><path d="M77.8,141.0 C77.3,142.6 75.6,147.4 74.6,150.6 C73.6,153.8 72.7,156.9 71.8,160.1 C70.9,163.3 70.0,166.5 69.3,169.7 C68.5,172.9 67.8,176.1 67.1,179.3 C66.5,182.5 65.9,185.6 65.4,188.8 C64.9,192.0 64.2,196.8 64.0,198.4" stroke="#0000ff" stroke-opacity="0.11" stroke-width="30" fill="none" stroke-linecap="butt"/><path d="M64.0,198.4 C63.7,201.8 62.5,212.1 62.2,218.9 C61.9,225.8 61.9,232.6 62.2,239.5 C62.4,246.3 63.0,253.2 63.8,260.0 C64.6,266.8 65.7,273.7 67.1,280.5 C68.5,287.4 70.2,294.2 72.1,301.1 C74.0,307.9 77.7,318.2 78.8,321.6" stroke="#0000ff" stroke-opacity="0.19" stroke-width="30" fill="none" stroke-linecap="butt"/><path d="M78.8,321.6 C79.4,323.2 81.2,328.0 82.5,331.2 C83.8,334.4 85.1,337.5 86.5,340.7 C87.9,343.9 89.4,347.1 90.9,350.3 C92.5,353.5 94.1,356.7 95.7,359.9 C97.4,363.1 99.1,366.2 100.9,369.4 C102.7,372.6 105.5,377.4 106.4,379.0" stroke="#0000ff" stroke-opacity="0.11" stroke-width="30" fill="none" stroke-linecap="butt"/><path d="M162.3,53.5 C161.0,55.4 157.1,61.0 154.7,64.7 C152.2,68.4 149.8,72.1 147.5,75.9 C145.2,79.6 143.0,83.3 140.9,87.0 C138.7,90.8 136.7,94.5 134.7,98.2 C132.8,102.0 130.9,105.7 129.1,109.4 C127.3,113.1 124.8,118.7 123.9,120.6" stroke="#ff0000" stroke-opacity="0.10" stroke-width="55" fill="none" stroke-linecap="butt"/><path d="M123.9,120.6 C122.5,124.2 118.0,134.9 115.5,142.1 C112.9,149.2 110.7,156.4 108.8,163.5 C106.9,170.7 105.3,177.8 104.0,185.0 C102.8,192.2 101.8,199.3 101.1,206.5 C100.4,213.6 100.1,220.8 100.0,227.9 C99.9,235.1 100.6,245.8 100.8,249.4" stroke="#ff0000" stroke-opacity="0.17" stroke-width="55" fill="none" stroke-linecap="butt"/><path d="M100.8,249.4 C100.9,251.3 101.4,256.9 101.9,260.6 C102.3,264.3 102.9,268.0 103.5,271.8 C104.1,275.5 104.8,279.2 105.6,282.9 C106.4,286.7 107.3,290.4 108.2,294.1 C109.2,297.9 110.2,301.6 111.3,305.3 C112.5,309.0 114.4,314.6 115.0,316.5" stroke="#ff0000" stroke-opacity="0.10" stroke-width="55" fill="none" stroke-linecap="butt"/><path d="M178.8,74.0 C178.0,75.6 175.5,80.5 174.0,83.8 C172.5,87.1 171.0,90.3 169.6,93.6 C168.3,96.9 166.9,100.1 165.7,103.4 C164.4,106.7 163.2,109.9 162.1,113.2 C160.9,116.5 159.9,119.7 158.9,123.0 C157.9,126.3 156.5,131.2 156.0,132.8" stroke="#0000ff" stroke-opacity="0.15" stroke-width="20" fill="none" stroke-linecap="butt"/><path d="M156.0,132.8 C155.2,136.5 152.4,147.7 151.0,155.2 C149.7,162.7 148.7,170.1 148.0,177.6 C147.3,185.1 147.0,192.5 147.0,200.0 C147.0,207.5 147.3,214.9 148.0,222.4 C148.7,229.9 149.7,237.3 151.0,244.8 C152.4,252.3 155.2,263.5 156.0,267.2" stroke="#0000ff" stroke-opacity="0.25" stroke-width="20" fill="none" stroke-linecap="butt"/><path d="M156.0,267.2 C156.5,268.8 157.9,273.7 158.9,277.0 C159.9,280.3 160.9,283.5 162.1,286.8 C163.2,290.1 164.4,293.3 165.7,296.6 C166.9,299.9 168.3,303.1 169.6,306.4 C171.0,309.7 172.5,312.9 174.0,316.2 C175.5,319.5 178.0,324.4 178.8,326.0" stroke="#0000ff" stroke-opacity="0.15" stroke-width="20" fill="none" stroke-linecap="butt"/><path d="M211.6,83.5 C211.0,85.1 209.2,89.7 208.1,92.8 C207.0,96.0 206.0,99.1 204.9,102.2 C203.9,105.3 203.0,108.4 202.0,111.5 C201.1,114.7 200.2,117.8 199.4,120.9 C198.6,124.0 197.8,127.1 197.1,130.2 C196.4,133.4 195.4,138.0 195.1,139.6" stroke="#ff0000" stroke-opacity="0.17" stroke-width="55" fill="none" stroke-linecap="butt"/><path d="M195.1,139.6 C194.6,142.4 193.0,150.8 192.2,156.4 C191.4,162.0 190.7,167.6 190.2,173.2 C189.7,178.8 189.4,184.4 189.2,190.0 C189.0,195.6 189.0,201.2 189.1,206.8 C189.2,212.4 189.5,218.0 189.9,223.6 C190.4,229.2 191.4,237.6 191.7,240.4" stroke="#ff0000" stroke-opacity="0.29" stroke-width="55" fill="none" stroke-linecap="butt"/><path d="M191.7,240.4 C192.0,242.0 192.6,246.6 193.1,249.8 C193.6,252.9 194.2,256.0 194.8,259.1 C195.4,262.2 196.1,265.3 196.8,268.4 C197.5,271.6 198.3,274.7 199.1,277.8 C199.9,280.9 200.8,284.0 201.7,287.1 C202.6,290.3 204.0,294.9 204.5,296.5" stroke="#ff0000" stroke-opacity="0.17" stroke-width="55" fill="none" stroke-linecap="butt"/><path d="M246.1,101.6 C245.7,103.0 244.3,107.2 243.5,110.0 C242.7,112.8 241.9,115.5 241.1,118.3 C240.4,121.1 239.6,123.9 239.0,126.7 C238.3,129.5 237.6,132.3 237.0,135.1 C236.4,137.9 235.9,140.6 235.3,143.4 C234.8,146.2 234.1,150.4 233.9,151.8" stroke="#0000ff" stroke-opacity="0.23" stroke-width="28" fill="none" stroke-linecap="butt"/><path d="M233.9,151.8 C233.5,154.8 232.1,163.6 231.5,169.5 C230.9,175.4 230.5,181.4 230.3,187.3 C230.0,193.2 229.9,199.1 230.0,205.0 C230.1,210.9 230.4,216.8 230.9,222.7 C231.3,228.6 231.9,234.6 232.7,240.5 C233.5,246.4 235.2,255.2 235.6,258.2" stroke="#0000ff" stroke-opacity="0.38" stroke-width="28" fill="none" stroke-linecap="butt"/><path d="M235.6,258.2 C235.9,259.6 236.8,263.8 237.4,266.6 C238.0,269.4 238.7,272.1 239.4,274.9 C240.1,277.7 240.8,280.5 241.6,283.3 C242.3,286.1 243.2,288.9 244.0,291.7 C244.9,294.5 245.7,297.2 246.7,300.0 C247.6,302.8 249.1,307.0 249.6,308.4" stroke="#0000ff" stroke-opacity="0.23" stroke-width="28" fill="none" stroke-linecap="butt"/><path d="M296.8,78.0 C296.2,79.6 294.3,84.2 293.2,87.3 C292.0,90.4 290.9,93.6 289.8,96.7 C288.7,99.8 287.7,102.9 286.7,106.0 C285.8,109.1 284.8,112.2 283.9,115.3 C283.1,118.4 282.2,121.6 281.5,124.7 C280.7,127.8 279.6,132.4 279.3,134.0" stroke="#ff0000" stroke-opacity="0.17" stroke-width="40" fill="none" stroke-linecap="butt"/><path d="M279.3,134.0 C278.7,137.1 276.7,146.4 275.7,152.7 C274.8,158.9 274.0,165.1 273.4,171.3 C272.8,177.6 272.4,183.8 272.2,190.0 C272.0,196.2 271.9,202.4 272.1,208.7 C272.3,214.9 272.7,221.1 273.2,227.3 C273.8,233.6 275.1,242.9 275.5,246.0" stroke="#ff0000" stroke-opacity="0.29" stroke-width="40" fill="none" stroke-linecap="butt"/><path d="M275.5,246.0 C275.8,247.6 276.5,252.2 277.1,255.3 C277.7,258.4 278.3,261.6 279.0,264.7 C279.6,267.8 280.4,270.9 281.1,274.0 C281.9,277.1 282.7,280.2 283.6,283.3 C284.4,286.4 285.4,289.6 286.3,292.7 C287.3,295.8 288.8,300.4 289.3,302.0" stroke="#ff0000" stroke-opacity="0.17" stroke-width="40" fill="none" stroke-linecap="butt"/><ellipse cx="211" cy="277" rx="47.2" ry="39.2" fill="#ff0000" fill-opacity="0.15"/><path d="M332.7,71.0 C332.2,72.3 330.4,76.4 329.4,79.1 C328.3,81.8 327.2,84.5 326.2,87.2 C325.2,89.9 324.2,92.6 323.3,95.3 C322.3,98.0 321.4,100.7 320.6,103.4 C319.7,106.1 318.9,108.8 318.1,111.5 C317.3,114.2 316.2,118.2 315.8,119.6" stroke="#0000ff" stroke-opacity="0.30" stroke-width="30" fill="none" stroke-linecap="butt"/><path d="M315.8,119.6 C315.1,122.4 312.9,130.8 311.7,136.4 C310.6,142.0 309.5,147.6 308.7,153.2 C307.8,158.8 307.1,164.4 306.5,170.0 C305.9,175.6 305.5,181.2 305.3,186.8 C305.0,192.4 305.0,198.0 305.0,203.6 C305.1,209.2 305.6,217.6 305.7,220.4" stroke="#0000ff" stroke-opacity="0.51" stroke-width="30" fill="none" stroke-linecap="butt"/><path d="M305.7,220.4 C305.8,221.8 306.1,225.8 306.4,228.5 C306.6,231.2 306.9,233.9 307.2,236.6 C307.6,239.3 307.9,242.0 308.3,244.7 C308.7,247.4 309.2,250.1 309.6,252.8 C310.1,255.5 310.6,258.2 311.2,260.9 C311.7,263.6 312.6,267.6 312.9,269.0" stroke="#0000ff" stroke-opacity="0.30" stroke-width="30" fill="none" stroke-linecap="butt"/><path d="M306.3,202.4 Q305.1,220.0 306.3,237.6" stroke="#0000ff" stroke-opacity="0.63" stroke-width="43.2" fill="none" stroke-linecap="round"/><ellipse cx="266" cy="291" rx="24.3" ry="22.4" fill="#0000ff" fill-opacity="0.57"/><path d="M363.3,52.5 C362.8,53.4 361.4,56.3 360.5,58.1 C359.6,60.0 358.8,61.9 357.9,63.8 C357.1,65.7 356.2,67.6 355.4,69.5 C354.6,71.3 353.8,73.2 353.0,75.1 C352.2,77.0 351.4,78.9 350.7,80.8 C350.0,82.6 348.9,85.5 348.5,86.4" stroke="#ff0000" stroke-opacity="0.17" stroke-width="25" fill="none" stroke-linecap="butt"/><path d="M348.5,86.4 C347.8,88.3 345.8,93.9 344.5,97.6 C343.2,101.3 342.0,105.1 340.9,108.8 C339.7,112.5 338.7,116.3 337.7,120.0 C336.7,123.7 335.7,127.5 334.9,131.2 C334.0,134.9 333.2,138.7 332.5,142.4 C331.8,146.1 330.9,151.7 330.6,153.6" stroke="#ff0000" stroke-opacity="0.29" stroke-width="25" fill="none" stroke-linecap="butt"/><path d="M330.6,153.6 C330.5,154.5 330.0,157.4 329.8,159.2 C329.5,161.1 329.3,163.0 329.1,164.9 C328.8,166.8 328.6,168.7 328.4,170.6 C328.3,172.4 328.1,174.3 327.9,176.2 C327.8,178.1 327.7,180.0 327.5,181.8 C327.4,183.7 327.3,186.6 327.3,187.5" stroke="#ff0000" stroke-opacity="0.17" stroke-width="25" fill="none" stroke-linecap="butt"/><ellipse cx="319" cy="266" rx="16.2" ry="16.8" fill="#ff0000" fill-opacity="0.48"/><path d="M389.7,73.4 C389.3,74.5 387.9,77.8 387.0,80.0 C386.1,82.2 385.3,84.4 384.4,86.6 C383.6,88.8 382.8,91.0 382.0,93.2 C381.2,95.4 380.5,97.6 379.7,99.8 C379.0,102.0 378.3,104.2 377.6,106.4 C376.9,108.6 375.9,111.9 375.6,113.0" stroke="#0000ff" stroke-opacity="0.21" stroke-width="22" fill="none" stroke-linecap="butt"/><path d="M375.6,113.0 C375.0,115.3 373.0,122.3 371.9,127.0 C370.7,131.7 369.7,136.3 368.8,141.0 C367.9,145.7 367.1,150.3 366.4,155.0 C365.7,159.7 365.1,164.3 364.6,169.0 C364.1,173.7 363.7,178.3 363.5,183.0 C363.2,187.7 363.1,194.7 363.0,197.0" stroke="#0000ff" stroke-opacity="0.35" stroke-width="22" fill="none" stroke-linecap="butt"/><path d="M363.0,197.0 C363.0,198.1 363.0,201.4 363.0,203.6 C363.0,205.8 363.1,208.0 363.2,210.2 C363.2,212.4 363.3,214.6 363.5,216.8 C363.6,219.0 363.7,221.2 363.9,223.4 C364.1,225.6 364.3,227.8 364.5,230.0 C364.7,232.2 365.1,235.5 365.2,236.6" stroke="#0000ff" stroke-opacity="0.21" stroke-width="22" fill="none" stroke-linecap="butt"/><path d="M358.2,41.6 C359.2,43.5 362.2,49.4 364.1,53.3 C366.0,57.2 367.8,61.0 369.6,64.9 C371.3,68.8 373.0,72.7 374.6,76.6 C376.2,80.5 377.7,84.4 379.2,88.3 C380.6,92.2 382.0,96.0 383.3,99.9 C384.6,103.8 386.4,109.7 387.0,111.6" stroke="#ff0000" stroke-opacity="0.09" stroke-width="28" fill="none" stroke-linecap="butt"/><path d="M387.0,111.6 C388.1,116.0 391.7,129.0 393.5,137.7 C395.3,146.4 396.8,155.2 397.8,163.9 C398.9,172.6 399.5,181.3 399.8,190.0 C400.1,198.7 400.0,207.4 399.6,216.1 C399.1,224.8 398.2,233.6 397.0,242.3 C395.8,251.0 393.0,264.0 392.2,268.4" stroke="#ff0000" stroke-opacity="0.15" stroke-width="28" fill="none" stroke-linecap="butt"/><path d="M392.2,268.4 C391.7,270.3 390.4,276.2 389.3,280.1 C388.3,284.0 387.2,287.8 386.0,291.7 C384.8,295.6 383.5,299.5 382.2,303.4 C380.8,307.3 379.4,311.2 377.9,315.1 C376.4,319.0 374.9,322.8 373.2,326.7 C371.6,330.6 368.9,336.5 368.1,338.4" stroke="#ff0000" stroke-opacity="0.09" stroke-width="28" fill="none" stroke-linecap="butt"/><path d="M394.8,18.0 C396.1,20.2 400.1,26.9 402.6,31.4 C405.1,35.8 407.5,40.3 409.8,44.7 C412.1,49.2 414.3,53.6 416.4,58.1 C418.5,62.6 420.6,67.0 422.5,71.5 C424.4,75.9 426.2,80.4 427.9,84.8 C429.6,89.3 431.9,96.0 432.7,98.2" stroke="#0000ff" stroke-opacity="0.19" stroke-width="40" fill="none" stroke-linecap="butt"/><path d="M432.7,98.2 C434.1,103.0 438.8,117.5 441.2,127.1 C443.5,136.8 445.4,146.4 446.8,156.1 C448.2,165.7 449.1,175.4 449.6,185.0 C450.1,194.6 450.1,204.3 449.7,213.9 C449.2,223.6 448.3,233.2 446.9,242.9 C445.6,252.5 442.3,267.0 441.4,271.8" stroke="#0000ff" stroke-opacity="0.32" stroke-width="40" fill="none" stroke-linecap="butt"/><path d="M441.4,271.8 C440.8,274.0 439.2,280.7 437.9,285.2 C436.6,289.6 435.3,294.1 433.8,298.5 C432.4,303.0 430.8,307.4 429.1,311.9 C427.5,316.4 425.7,320.8 423.8,325.3 C422.0,329.7 420.0,334.2 418.0,338.6 C415.9,343.1 412.6,349.8 411.5,352.0" stroke="#0000ff" stroke-opacity="0.19" stroke-width="40" fill="none" stroke-linecap="butt"/><path d="M416.7,14.6 C418.0,16.8 422.0,23.3 424.5,27.6 C427.0,31.9 429.4,36.3 431.7,40.6 C434.0,44.9 436.2,49.3 438.3,53.6 C440.4,57.9 442.4,62.3 444.3,66.6 C446.3,70.9 448.1,75.3 449.8,79.6 C451.6,83.9 454.0,90.4 454.8,92.6" stroke="#ff0000" stroke-opacity="0.06" stroke-width="18" fill="none" stroke-linecap="butt"/><path d="M454.8,92.6 C456.3,97.7 461.6,113.1 464.2,123.4 C466.8,133.7 468.9,143.9 470.5,154.2 C472.1,164.5 473.1,174.7 473.6,185.0 C474.1,195.3 474.1,205.5 473.6,215.8 C473.0,226.1 472.0,236.3 470.4,246.6 C468.8,256.9 465.1,272.3 464.0,277.4" stroke="#ff0000" stroke-opacity="0.10" stroke-width="18" fill="none" stroke-linecap="butt"/><path d="M464.0,277.4 C463.4,279.6 461.7,286.1 460.4,290.4 C459.1,294.7 457.7,299.1 456.2,303.4 C454.7,307.7 453.1,312.1 451.4,316.4 C449.7,320.7 448.0,325.1 446.1,329.4 C444.2,333.7 442.3,338.1 440.2,342.4 C438.1,346.7 434.8,353.2 433.8,355.4" stroke="#ff0000" stroke-opacity="0.06" stroke-width="18" fill="none" stroke-linecap="butt"/><ellipse cx="380" cy="297" rx="24.3" ry="20.2" fill="#ff0000" fill-opacity="0.15"/><ellipse cx="35" cy="277" rx="27.0" ry="39.2" fill="#ff0000" fill-opacity="0.12"/><ellipse cx="291" cy="319" rx="16.2" ry="16.8" fill="#ff0000" fill-opacity="0.19"/><ellipse cx="83" cy="333" rx="40.5" ry="22.4" fill="#0000ff" fill-opacity="0.23"/><ellipse cx="167" cy="291" rx="20.2" ry="28.0" fill="#0000ff" fill-opacity="0.19"/></g><g filter="url(#bl1)"><path d="M139.0,105.0 C137.2,110.7 131.8,126.9 128.0,139.0 C124.2,151.1 120.3,164.7 116.5,177.6 C112.7,190.5 109.1,204.4 105.4,216.4 C101.7,228.4 96.2,244.1 94.3,249.7" stroke="#3a3aff" stroke-opacity="0.85" stroke-width="2.5" fill="none" stroke-linecap="round"/><path d="M150.0,105.0 C148.2,111.5 142.7,131.0 139.0,144.0 C135.3,157.0 129.8,176.5 128.0,183.0" stroke="#3a3aff" stroke-opacity="0.52" stroke-width="1.8" fill="none" stroke-linecap="round"/><path d="M216.0,160.0 C215.7,166.7 214.8,189.7 214.0,200.0 C213.2,210.3 211.5,218.3 211.0,222.0" stroke="#3a3aff" stroke-opacity="0.78" stroke-width="2.5" fill="none" stroke-linecap="round"/><path d="M41.6,180.0 C40.7,187.0 36.0,205.8 36.0,222.0 C36.0,238.2 37.4,259.0 41.6,277.5 C45.8,296.0 55.0,319.1 61.0,333.0 C67.0,346.9 74.9,356.3 77.7,361.0" stroke="#3a3aff" stroke-opacity="0.45" stroke-width="2.5" fill="none" stroke-linecap="round"/><path d="M433.0,55.5 C436.7,64.8 449.5,92.5 455.0,111.0 C460.5,129.5 465.1,148.0 466.0,166.5 C466.9,185.0 464.3,203.5 460.6,222.0 C456.9,240.5 446.8,268.2 444.0,277.5" stroke="#3a3aff" stroke-opacity="0.45" stroke-width="2" fill="none" stroke-linecap="round"/></g>
<use href="#statics"/>
</g>
<use href="#frame"/>
<text class="t" transform="translate(15.4,51.9) scale(1,1.03)">04-Aug-2011 18:00</text>
<text class="lb" x="15.0" y="376.2">(c)</text>
<circle cx="197.4" cy="139.6" r="4.7" fill="#00ff00"/><circle cx="197.4" cy="189.9" r="4.7" fill="#00ff00"/><circle cx="197.4" cy="238.3" r="4.7" fill="#00ff00"/><circle cx="259" cy="149.1" r="4.7" fill="#00ff00"/><circle cx="259" cy="193.2" r="4.7" fill="#00ff00"/><path d="M290.2,170.7 L220.2,170.7 M234.0,184.5 L220.2,170.7 L234.0,156.9" stroke="#0000ff" stroke-width="5.3" fill="none" stroke-linecap="round" stroke-linejoin="round"/>
</g>
<g transform="translate(98.6,473.3)">
<rect x="0" y="0" width="480.6" height="394.6" fill="#fff"/>
<g clip-path="url(#clipP)">
<g filter="url(#fld)"><path d="M58.4,139.5 C57.8,141.1 56.1,146.0 55.0,149.3 C54.0,152.6 53.0,155.9 52.0,159.1 C51.1,162.4 50.3,165.7 49.5,168.9 C48.7,172.2 47.9,175.5 47.2,178.8 C46.6,182.0 46.0,185.3 45.4,188.6 C44.9,191.9 44.2,196.8 44.0,198.4" stroke="#0000ff" stroke-opacity="0.11" stroke-width="35" fill="none" stroke-linecap="butt"/><path d="M44.0,198.4 C43.7,201.8 42.5,212.1 42.2,218.9 C41.9,225.8 41.9,232.6 42.2,239.5 C42.4,246.3 43.0,253.2 43.8,260.0 C44.6,266.8 45.7,273.7 47.1,280.5 C48.5,287.4 50.2,294.2 52.1,301.1 C54.0,307.9 57.7,318.2 58.8,321.6" stroke="#0000ff" stroke-opacity="0.19" stroke-width="35" fill="none" stroke-linecap="butt"/><path d="M58.8,321.6 C59.4,323.2 61.2,328.1 62.6,331.4 C63.9,334.7 65.3,338.0 66.7,341.2 C68.2,344.5 69.7,347.8 71.3,351.1 C72.9,354.3 74.5,357.6 76.3,360.9 C78.0,364.1 79.7,367.4 81.6,370.7 C83.4,374.0 86.3,378.9 87.3,380.5" stroke="#0000ff" stroke-opacity="0.11" stroke-width="35" fill="none" stroke-linecap="butt"/><path d="M151.2,55.0 C150.0,56.8 146.2,62.3 143.8,65.9 C141.4,69.6 139.1,73.2 136.9,76.9 C134.7,80.5 132.5,84.2 130.4,87.8 C128.4,91.4 126.4,95.1 124.5,98.7 C122.5,102.4 120.7,106.0 119.0,109.7 C117.2,113.3 114.8,118.8 113.9,120.6" stroke="#ff0000" stroke-opacity="0.12" stroke-width="50" fill="none" stroke-linecap="butt"/><path d="M113.9,120.6 C112.5,124.2 108.0,134.9 105.5,142.1 C102.9,149.2 100.7,156.4 98.8,163.5 C96.9,170.7 95.3,177.8 94.0,185.0 C92.8,192.2 91.8,199.3 91.1,206.5 C90.4,213.6 90.1,220.8 90.0,227.9 C89.9,235.1 90.6,245.8 90.8,249.4" stroke="#ff0000" stroke-opacity="0.19" stroke-width="50" fill="none" stroke-linecap="butt"/><path d="M90.8,249.4 C90.9,251.2 91.4,256.7 91.8,260.3 C92.3,264.0 92.8,267.6 93.4,271.3 C94.0,274.9 94.7,278.6 95.4,282.2 C96.2,285.8 97.1,289.5 98.0,293.1 C98.9,296.8 99.9,300.4 101.0,304.1 C102.1,307.7 103.9,313.2 104.5,315.0" stroke="#ff0000" stroke-opacity="0.12" stroke-width="50" fill="none" stroke-linecap="butt"/><path d="M185.5,63.4 C184.4,65.1 181.0,70.2 178.9,73.7 C176.7,77.1 174.7,80.5 172.7,83.9 C170.7,87.4 168.7,90.8 166.9,94.2 C165.0,97.6 163.2,101.0 161.5,104.5 C159.8,107.9 158.2,111.3 156.6,114.7 C155.0,118.2 152.8,123.3 152.1,125.0" stroke="#0000ff" stroke-opacity="0.11" stroke-width="22" fill="none" stroke-linecap="butt"/><path d="M152.1,125.0 C150.6,128.9 145.9,140.6 143.3,148.3 C140.8,156.1 138.6,163.9 136.8,171.7 C135.0,179.4 133.5,187.2 132.4,195.0 C131.4,202.8 130.6,210.6 130.3,218.3 C129.9,226.1 129.9,233.9 130.3,241.7 C130.6,249.4 132.1,261.1 132.4,265.0" stroke="#0000ff" stroke-opacity="0.19" stroke-width="22" fill="none" stroke-linecap="butt"/><path d="M132.4,265.0 C132.7,266.7 133.5,271.8 134.1,275.3 C134.7,278.7 135.4,282.1 136.2,285.5 C136.9,289.0 137.8,292.4 138.7,295.8 C139.6,299.2 140.5,302.6 141.6,306.1 C142.6,309.5 143.7,312.9 144.9,316.3 C146.1,319.8 148.0,324.9 148.7,326.6" stroke="#0000ff" stroke-opacity="0.11" stroke-width="22" fill="none" stroke-linecap="butt"/><path d="M204.8,72.0 C203.9,73.7 201.3,78.9 199.7,82.3 C198.1,85.8 196.5,89.2 195.0,92.7 C193.6,96.1 192.2,99.6 190.8,103.0 C189.5,106.4 188.2,109.9 187.0,113.3 C185.8,116.8 184.7,120.2 183.7,123.7 C182.6,127.1 181.2,132.3 180.7,134.0" stroke="#ff0000" stroke-opacity="0.16" stroke-width="60" fill="none" stroke-linecap="butt"/><path d="M180.7,134.0 C180.0,137.1 177.7,146.4 176.5,152.7 C175.3,158.9 174.4,165.1 173.6,171.3 C172.9,177.6 172.4,183.8 172.2,190.0 C172.0,196.2 171.9,202.4 172.2,208.7 C172.4,214.9 172.8,221.1 173.5,227.3 C174.2,233.6 175.8,242.9 176.2,246.0" stroke="#ff0000" stroke-opacity="0.27" stroke-width="60" fill="none" stroke-linecap="butt"/><path d="M176.2,246.0 C176.6,247.7 177.6,252.9 178.3,256.3 C179.1,259.8 180.0,263.2 180.9,266.7 C181.8,270.1 182.8,273.6 183.9,277.0 C184.9,280.4 186.1,283.9 187.3,287.3 C188.5,290.8 189.7,294.2 191.1,297.7 C192.4,301.1 194.6,306.3 195.3,308.0" stroke="#ff0000" stroke-opacity="0.16" stroke-width="60" fill="none" stroke-linecap="butt"/><path d="M234.4,81.6 C233.8,83.1 232.0,87.7 230.9,90.7 C229.8,93.7 228.7,96.8 227.7,99.8 C226.7,102.8 225.8,105.9 224.8,108.9 C223.9,111.9 223.0,115.0 222.2,118.0 C221.4,121.0 220.6,124.1 219.9,127.1 C219.1,130.1 218.1,134.7 217.8,136.2" stroke="#0000ff" stroke-opacity="0.23" stroke-width="28" fill="none" stroke-linecap="butt"/><path d="M217.8,136.2 C217.2,139.5 215.2,149.3 214.3,155.8 C213.3,162.3 212.5,168.9 212.0,175.4 C211.5,181.9 211.2,188.5 211.0,195.0 C210.9,201.5 211.0,208.1 211.4,214.6 C211.7,221.1 212.2,227.7 212.9,234.2 C213.7,240.7 215.3,250.5 215.8,253.8" stroke="#0000ff" stroke-opacity="0.38" stroke-width="28" fill="none" stroke-linecap="butt"/><path d="M215.8,253.8 C216.1,255.3 217.0,259.9 217.6,262.9 C218.2,265.9 218.9,269.0 219.6,272.0 C220.4,275.0 221.1,278.1 222.0,281.1 C222.8,284.1 223.6,287.2 224.6,290.2 C225.5,293.2 226.4,296.3 227.4,299.3 C228.4,302.3 230.1,306.9 230.6,308.4" stroke="#0000ff" stroke-opacity="0.23" stroke-width="28" fill="none" stroke-linecap="butt"/><path d="M282.6,78.6 C281.9,80.2 280.0,85.0 278.8,88.2 C277.6,91.4 276.5,94.6 275.4,97.8 C274.3,101.0 273.3,104.2 272.3,107.4 C271.3,110.6 270.4,113.8 269.5,117.0 C268.6,120.2 267.8,123.4 267.0,126.6 C266.2,129.8 265.1,134.6 264.8,136.2" stroke="#ff0000" stroke-opacity="0.15" stroke-width="38" fill="none" stroke-linecap="butt"/><path d="M264.8,136.2 C264.2,139.5 262.2,149.3 261.3,155.8 C260.3,162.3 259.5,168.9 259.0,175.4 C258.5,181.9 258.2,188.5 258.0,195.0 C257.9,201.5 258.0,208.1 258.4,214.6 C258.7,221.1 259.2,227.7 259.9,234.2 C260.7,240.7 262.3,250.5 262.8,253.8" stroke="#ff0000" stroke-opacity="0.24" stroke-width="38" fill="none" stroke-linecap="butt"/><path d="M262.8,253.8 C263.1,255.4 264.0,260.2 264.7,263.4 C265.4,266.6 266.1,269.8 266.9,273.0 C267.7,276.2 268.5,279.4 269.4,282.6 C270.3,285.8 271.2,289.0 272.2,292.2 C273.2,295.4 274.2,298.6 275.3,301.8 C276.4,305.0 278.1,309.8 278.7,311.4" stroke="#ff0000" stroke-opacity="0.15" stroke-width="38" fill="none" stroke-linecap="butt"/><path d="M320.0,90.4 C319.5,91.8 318.0,96.1 317.0,99.0 C316.1,101.8 315.1,104.7 314.3,107.5 C313.4,110.4 312.5,113.2 311.7,116.1 C310.9,119.0 310.2,121.8 309.5,124.7 C308.7,127.5 308.1,130.4 307.4,133.2 C306.8,136.1 305.9,140.4 305.6,141.8" stroke="#0000ff" stroke-opacity="0.30" stroke-width="32" fill="none" stroke-linecap="butt"/><path d="M305.6,141.8 C305.2,144.8 303.5,153.6 302.7,159.5 C301.9,165.4 301.3,171.4 300.9,177.3 C300.4,183.2 300.1,189.1 300.0,195.0 C299.9,200.9 300.0,206.8 300.3,212.7 C300.5,218.6 300.9,224.6 301.5,230.5 C302.1,236.4 303.5,245.2 303.9,248.2" stroke="#0000ff" stroke-opacity="0.51" stroke-width="32" fill="none" stroke-linecap="butt"/><path d="M303.9,248.2 C304.1,249.6 304.8,253.9 305.4,256.8 C305.9,259.6 306.5,262.5 307.1,265.3 C307.7,268.2 308.4,271.0 309.1,273.9 C309.8,276.8 310.5,279.6 311.3,282.5 C312.1,285.3 312.9,288.2 313.8,291.0 C314.7,293.9 316.1,298.2 316.5,299.6" stroke="#0000ff" stroke-opacity="0.30" stroke-width="32" fill="none" stroke-linecap="butt"/><ellipse cx="253" cy="300" rx="27.0" ry="31.4" fill="#0000ff" fill-opacity="0.57"/><path d="M368.5,51.6 C368.0,53.1 366.3,57.7 365.3,60.7 C364.2,63.7 363.2,66.8 362.2,69.8 C361.2,72.8 360.2,75.9 359.3,78.9 C358.4,81.9 357.5,85.0 356.7,88.0 C355.8,91.0 355.0,94.1 354.2,97.1 C353.5,100.1 352.4,104.7 352.0,106.2" stroke="#ff0000" stroke-opacity="0.20" stroke-width="28" fill="none" stroke-linecap="butt"/><path d="M352.0,106.2 C351.3,109.5 349.1,119.3 347.9,125.8 C346.7,132.3 345.6,138.9 344.7,145.4 C343.8,151.9 343.1,158.5 342.5,165.0 C342.0,171.5 341.5,178.1 341.3,184.6 C341.0,191.1 341.0,197.7 341.0,204.2 C341.1,210.7 341.6,220.5 341.7,223.8" stroke="#ff0000" stroke-opacity="0.34" stroke-width="28" fill="none" stroke-linecap="butt"/><path d="M341.7,223.8 C341.8,225.3 342.1,229.9 342.4,232.9 C342.6,235.9 342.9,239.0 343.2,242.0 C343.5,245.0 343.9,248.1 344.3,251.1 C344.7,254.1 345.1,257.2 345.5,260.2 C346.0,263.2 346.5,266.3 347.0,269.3 C347.5,272.3 348.4,276.9 348.7,278.4" stroke="#ff0000" stroke-opacity="0.20" stroke-width="28" fill="none" stroke-linecap="butt"/><path d="M305.6,264.1 Q303.1,290.0 305.6,315.9" stroke="#ff0000" stroke-opacity="0.34" stroke-width="37.8" fill="none" stroke-linecap="round"/><path d="M354.3,48.6 C355.0,50.3 356.8,55.2 358.0,58.6 C359.2,61.9 360.3,65.2 361.4,68.5 C362.5,71.9 363.5,75.2 364.5,78.5 C365.6,81.8 366.5,85.1 367.5,88.5 C368.4,91.8 369.3,95.1 370.1,98.4 C370.9,101.8 372.1,106.7 372.5,108.4" stroke="#0000ff" stroke-opacity="0.21" stroke-width="38" fill="none" stroke-linecap="butt"/><path d="M372.5,108.4 C373.2,111.8 375.5,122.1 376.7,128.9 C377.9,135.8 378.9,142.6 379.8,149.5 C380.7,156.3 381.4,163.2 381.9,170.0 C382.4,176.8 382.7,183.7 382.9,190.5 C383.0,197.4 383.0,204.2 382.8,211.1 C382.7,217.9 381.9,228.2 381.8,231.6" stroke="#0000ff" stroke-opacity="0.35" stroke-width="38" fill="none" stroke-linecap="butt"/><path d="M381.8,231.6 C381.6,233.3 381.2,238.2 380.8,241.6 C380.5,244.9 380.1,248.2 379.7,251.5 C379.3,254.9 378.8,258.2 378.3,261.5 C377.8,264.8 377.2,268.1 376.6,271.5 C376.0,274.8 375.4,278.1 374.7,281.4 C374.0,284.8 372.9,289.7 372.6,291.4" stroke="#0000ff" stroke-opacity="0.21" stroke-width="38" fill="none" stroke-linecap="butt"/><path d="M369.8,26.5 C371.0,28.6 374.7,35.1 377.0,39.4 C379.3,43.7 381.5,48.0 383.6,52.3 C385.7,56.6 387.8,60.9 389.7,65.2 C391.6,69.4 393.5,73.7 395.2,78.0 C397.0,82.3 398.6,86.6 400.2,90.9 C401.7,95.2 403.8,101.7 404.6,103.8" stroke="#ff0000" stroke-opacity="0.07" stroke-width="45" fill="none" stroke-linecap="butt"/><path d="M404.6,103.8 C405.8,108.3 410.0,121.8 412.0,130.9 C414.1,139.9 415.8,148.9 417.1,157.9 C418.3,167.0 419.2,176.0 419.6,185.0 C420.1,194.0 420.1,203.0 419.8,212.1 C419.4,221.1 418.6,230.1 417.4,239.1 C416.3,248.2 413.5,261.7 412.7,266.2" stroke="#ff0000" stroke-opacity="0.12" stroke-width="45" fill="none" stroke-linecap="butt"/><path d="M412.7,266.2 C412.2,268.3 410.7,274.8 409.6,279.1 C408.4,283.4 407.2,287.7 405.9,292.0 C404.6,296.3 403.2,300.6 401.7,304.9 C400.2,309.1 398.6,313.4 396.9,317.7 C395.2,322.0 393.4,326.3 391.6,330.6 C389.7,334.9 386.7,341.4 385.7,343.5" stroke="#ff0000" stroke-opacity="0.07" stroke-width="45" fill="none" stroke-linecap="butt"/><path d="M412.0,13.4 C413.1,15.3 416.6,21.0 418.8,24.8 C421.0,28.6 423.2,32.3 425.2,36.1 C427.3,39.9 429.3,43.7 431.2,47.5 C433.2,51.3 435.0,55.1 436.8,58.9 C438.6,62.7 440.3,66.4 441.9,70.2 C443.6,74.0 445.9,79.7 446.6,81.6" stroke="#0000ff" stroke-opacity="0.15" stroke-width="22" fill="none" stroke-linecap="butt"/><path d="M446.6,81.6 C448.2,86.0 453.1,99.0 455.8,107.7 C458.5,116.4 460.8,125.2 462.7,133.9 C464.6,142.6 466.2,151.3 467.3,160.0 C468.5,168.7 469.3,177.4 469.7,186.1 C470.1,194.8 470.1,203.6 469.7,212.3 C469.4,221.0 467.9,234.0 467.5,238.4" stroke="#0000ff" stroke-opacity="0.25" stroke-width="22" fill="none" stroke-linecap="butt"/><path d="M467.5,238.4 C467.3,240.3 466.5,246.0 465.9,249.8 C465.2,253.6 464.5,257.3 463.8,261.1 C463.0,264.9 462.2,268.7 461.2,272.5 C460.3,276.3 459.3,280.1 458.3,283.9 C457.2,287.7 456.1,291.4 454.9,295.2 C453.7,299.0 451.7,304.7 451.1,306.6" stroke="#0000ff" stroke-opacity="0.15" stroke-width="22" fill="none" stroke-linecap="butt"/><ellipse cx="197" cy="283" rx="33.8" ry="39.2" fill="#ff0000" fill-opacity="0.19"/><ellipse cx="111" cy="311" rx="37.8" ry="39.2" fill="#ff0000" fill-opacity="0.12"/><ellipse cx="17" cy="277" rx="20.2" ry="33.6" fill="#ff0000" fill-opacity="0.12"/><ellipse cx="400" cy="310" rx="40.5" ry="22.4" fill="#ff0000" fill-opacity="0.10"/><ellipse cx="158" cy="319" rx="20.2" ry="33.6" fill="#0000ff" fill-opacity="0.19"/></g><g filter="url(#bl1)"><path d="M119.0,91.6 C117.7,97.2 113.7,113.4 111.0,125.0 C108.3,136.6 105.9,148.5 102.7,161.0 C99.5,173.5 95.3,187.5 91.6,200.0 C87.9,212.5 82.3,230.0 80.5,236.0" stroke="#3a3aff" stroke-opacity="0.78" stroke-width="2.5" fill="none" stroke-linecap="round"/><path d="M127.6,88.8 C126.2,94.8 122.1,112.9 119.3,124.9 C116.5,136.9 112.4,155.0 111.0,161.0" stroke="#3a3aff" stroke-opacity="0.45" stroke-width="1.8" fill="none" stroke-linecap="round"/><path d="M205.0,139.0 C204.3,144.5 202.3,160.0 201.0,172.0 C199.7,184.0 197.2,200.8 197.0,211.0 C196.8,221.2 199.5,229.3 200.0,233.0" stroke="#3a3aff" stroke-opacity="0.72" stroke-width="2.5" fill="none" stroke-linecap="round"/><path d="M27.7,208.0 C26.8,215.0 21.1,233.8 22.0,250.0 C22.9,266.2 27.4,287.5 33.0,305.0 C38.6,322.5 51.8,346.7 55.5,355.0" stroke="#3a3aff" stroke-opacity="0.39" stroke-width="2" fill="none" stroke-linecap="round"/><path d="M472.0,28.0 L480.0,83.0" stroke="#3a3aff" stroke-opacity="0.39" stroke-width="2" fill="none" stroke-linecap="round"/></g>
<use href="#statics"/>
</g>
<use href="#frame"/>
<text class="t" transform="translate(15.4,51.9) scale(1,1.03)">04-Aug-2011 20:00</text>
<text class="lb" x="15.0" y="376.2">(d)</text>
<circle cx="197.4" cy="139.6" r="4.7" fill="#00ff00"/><circle cx="197.4" cy="189.9" r="4.7" fill="#00ff00"/><circle cx="197.4" cy="238.3" r="4.7" fill="#00ff00"/><circle cx="259" cy="149.1" r="4.7" fill="#00ff00"/><circle cx="259" cy="193.2" r="4.7" fill="#00ff00"/><path d="M277.8,171.5 L207.5,171.5 M221.3,185.3 L207.5,171.5 L221.3,157.7" stroke="#0000ff" stroke-width="5.3" fill="none" stroke-linecap="round" stroke-linejoin="round"/>
</g>
<g transform="translate(666.4,473.3)">
<rect x="0" y="0" width="480.6" height="394.6" fill="#fff"/>
<g clip-path="url(#clipP)">
<g filter="url(#fld)"><path d="M60.8,128.0 C60.1,129.7 58.0,135.0 56.8,138.4 C55.5,141.9 54.3,145.4 53.2,148.9 C52.0,152.3 51.0,155.8 50.0,159.3 C49.0,162.8 48.1,166.3 47.3,169.7 C46.4,173.2 45.7,176.7 45.0,180.2 C44.3,183.6 43.4,188.9 43.1,190.6" stroke="#0000ff" stroke-opacity="0.10" stroke-width="40" fill="none" stroke-linecap="butt"/><path d="M43.1,190.6 C42.7,194.2 41.2,204.9 40.6,212.1 C40.1,219.2 39.9,226.4 40.0,233.5 C40.1,240.7 40.5,247.8 41.2,255.0 C42.0,262.2 43.0,269.3 44.3,276.5 C45.6,283.6 47.3,290.8 49.2,297.9 C51.2,305.1 54.9,315.8 56.0,319.4" stroke="#0000ff" stroke-opacity="0.16" stroke-width="40" fill="none" stroke-linecap="butt"/><path d="M56.0,319.4 C56.6,321.1 58.5,326.4 59.9,329.8 C61.3,333.3 62.8,336.8 64.3,340.3 C65.9,343.7 67.5,347.2 69.1,350.7 C70.8,354.2 72.6,357.7 74.4,361.1 C76.2,364.6 78.1,368.1 80.1,371.6 C82.1,375.0 85.2,380.3 86.2,382.0" stroke="#0000ff" stroke-opacity="0.10" stroke-width="40" fill="none" stroke-linecap="butt"/><path d="M127.2,71.6 C126.4,72.9 123.8,76.9 122.2,79.6 C120.6,82.3 119.1,84.9 117.6,87.6 C116.0,90.3 114.6,92.9 113.1,95.6 C111.7,98.3 110.3,100.9 109.0,103.6 C107.6,106.3 106.3,108.9 105.0,111.6 C103.8,114.3 102.0,118.3 101.4,119.6" stroke="#ff0000" stroke-opacity="0.09" stroke-width="28" fill="none" stroke-linecap="butt"/><path d="M101.4,119.6 C100.2,122.4 96.6,130.8 94.5,136.4 C92.4,142.0 90.5,147.6 88.8,153.2 C87.1,158.8 85.5,164.4 84.2,170.0 C82.9,175.6 81.7,181.2 80.7,186.8 C79.8,192.4 79.0,198.0 78.4,203.6 C77.8,209.2 77.4,217.6 77.2,220.4" stroke="#ff0000" stroke-opacity="0.15" stroke-width="28" fill="none" stroke-linecap="butt"/><path d="M77.2,220.4 C77.2,221.7 77.0,225.7 77.0,228.4 C77.0,231.1 77.0,233.7 77.1,236.4 C77.2,239.1 77.3,241.7 77.4,244.4 C77.6,247.1 77.8,249.7 78.0,252.4 C78.2,255.1 78.5,257.7 78.8,260.4 C79.2,263.1 79.8,267.1 79.9,268.4" stroke="#ff0000" stroke-opacity="0.09" stroke-width="28" fill="none" stroke-linecap="butt"/><path d="M163.5,63.4 C162.5,65.0 159.3,69.8 157.3,72.9 C155.3,76.1 153.4,79.3 151.5,82.5 C149.7,85.6 147.8,88.8 146.1,92.0 C144.3,95.2 142.6,98.4 141.0,101.5 C139.4,104.7 137.8,107.9 136.3,111.1 C134.8,114.2 132.7,119.0 131.9,120.6" stroke="#0000ff" stroke-opacity="0.11" stroke-width="22" fill="none" stroke-linecap="butt"/><path d="M131.9,120.6 C130.5,124.2 126.0,134.9 123.5,142.1 C120.9,149.2 118.7,156.4 116.8,163.5 C114.9,170.7 113.3,177.8 112.0,185.0 C110.8,192.2 109.8,199.3 109.1,206.5 C108.4,213.6 108.1,220.8 108.0,227.9 C107.9,235.1 108.6,245.8 108.8,249.4" stroke="#0000ff" stroke-opacity="0.19" stroke-width="22" fill="none" stroke-linecap="butt"/><path d="M108.8,249.4 C108.9,251.0 109.3,255.8 109.7,258.9 C110.0,262.1 110.5,265.3 111.0,268.5 C111.4,271.6 112.0,274.8 112.6,278.0 C113.2,281.2 113.9,284.4 114.6,287.5 C115.4,290.7 116.1,293.9 117.0,297.1 C117.8,300.2 119.3,305.0 119.7,306.6" stroke="#0000ff" stroke-opacity="0.11" stroke-width="22" fill="none" stroke-linecap="butt"/><path d="M191.9,60.5 C190.9,62.4 187.8,68.0 185.9,71.8 C183.9,75.6 182.1,79.4 180.3,83.1 C178.6,86.9 176.9,90.7 175.3,94.5 C173.7,98.2 172.2,102.0 170.8,105.8 C169.3,109.5 168.0,113.3 166.8,117.1 C165.5,120.9 163.8,126.5 163.3,128.4" stroke="#ff0000" stroke-opacity="0.15" stroke-width="65" fill="none" stroke-linecap="butt"/><path d="M163.3,128.4 C162.4,131.8 159.6,142.1 158.2,148.9 C156.8,155.8 155.7,162.6 154.9,169.5 C154.0,176.3 153.5,183.2 153.2,190.0 C152.9,196.8 152.9,203.7 153.2,210.5 C153.5,217.4 154.1,224.2 154.9,231.1 C155.8,237.9 157.8,248.2 158.3,251.6" stroke="#ff0000" stroke-opacity="0.24" stroke-width="65" fill="none" stroke-linecap="butt"/><path d="M158.3,251.6 C158.8,253.5 160.0,259.1 160.9,262.9 C161.9,266.7 162.9,270.5 164.0,274.2 C165.1,278.0 166.3,281.8 167.6,285.6 C168.9,289.3 170.3,293.1 171.8,296.9 C173.2,300.6 174.8,304.4 176.4,308.2 C178.0,312.0 180.7,317.6 181.6,319.5" stroke="#ff0000" stroke-opacity="0.15" stroke-width="65" fill="none" stroke-linecap="butt"/><path d="M223.0,82.5 C222.4,84.0 220.7,88.5 219.6,91.5 C218.6,94.4 217.5,97.4 216.5,100.4 C215.5,103.4 214.6,106.4 213.7,109.3 C212.8,112.3 211.9,115.3 211.1,118.3 C210.3,121.3 209.5,124.3 208.8,127.2 C208.1,130.2 207.1,134.7 206.8,136.2" stroke="#0000ff" stroke-opacity="0.27" stroke-width="25" fill="none" stroke-linecap="butt"/><path d="M206.8,136.2 C206.2,139.5 204.2,149.3 203.3,155.8 C202.3,162.3 201.5,168.9 201.0,175.4 C200.5,181.9 200.2,188.5 200.0,195.0 C199.9,201.5 200.0,208.1 200.4,214.6 C200.7,221.1 201.2,227.7 201.9,234.2 C202.7,240.7 204.3,250.5 204.8,253.8" stroke="#0000ff" stroke-opacity="0.44" stroke-width="25" fill="none" stroke-linecap="butt"/><path d="M204.8,253.8 C205.1,255.3 205.9,259.8 206.6,262.8 C207.2,265.7 207.9,268.7 208.6,271.7 C209.3,274.7 210.0,277.7 210.8,280.6 C211.6,283.6 212.5,286.6 213.4,289.6 C214.3,292.6 215.2,295.6 216.2,298.6 C217.2,301.5 218.7,306.0 219.3,307.5" stroke="#0000ff" stroke-opacity="0.27" stroke-width="25" fill="none" stroke-linecap="butt"/><path d="M200.1,113.2 Q199.6,125.0 200.1,136.8" stroke="#0000ff" stroke-opacity="0.44" stroke-width="32.4" fill="none" stroke-linecap="round"/><path d="M263.8,78.0 C263.2,79.6 261.2,84.5 260.0,87.7 C258.8,90.9 257.7,94.2 256.5,97.4 C255.4,100.6 254.4,103.9 253.4,107.1 C252.4,110.3 251.4,113.6 250.5,116.8 C249.6,120.0 248.8,123.3 248.0,126.5 C247.2,129.7 246.2,134.6 245.8,136.2" stroke="#ff0000" stroke-opacity="0.15" stroke-width="40" fill="none" stroke-linecap="butt"/><path d="M245.8,136.2 C245.2,139.5 243.2,149.3 242.3,155.8 C241.3,162.3 240.5,168.9 240.0,175.4 C239.5,181.9 239.2,188.5 239.0,195.0 C238.9,201.5 239.0,208.1 239.4,214.6 C239.7,221.1 240.2,227.7 240.9,234.2 C241.7,240.7 243.3,250.5 243.8,253.8" stroke="#ff0000" stroke-opacity="0.24" stroke-width="40" fill="none" stroke-linecap="butt"/><path d="M243.8,253.8 C244.1,255.4 245.0,260.3 245.7,263.5 C246.4,266.7 247.1,270.0 247.9,273.2 C248.7,276.4 249.6,279.7 250.5,282.9 C251.3,286.1 252.3,289.4 253.3,292.6 C254.3,295.8 255.3,299.1 256.4,302.3 C257.5,305.5 259.3,310.4 259.9,312.0" stroke="#ff0000" stroke-opacity="0.15" stroke-width="40" fill="none" stroke-linecap="butt"/><path d="M296.6,109.8 C296.2,111.1 295.1,114.8 294.4,117.4 C293.7,119.9 293.0,122.4 292.4,124.9 C291.8,127.5 291.2,130.0 290.6,132.5 C290.0,135.0 289.5,137.5 289.0,140.1 C288.5,142.6 288.0,145.1 287.6,147.6 C287.1,150.2 286.5,153.9 286.3,155.2" stroke="#0000ff" stroke-opacity="0.30" stroke-width="34" fill="none" stroke-linecap="butt"/><path d="M286.3,155.2 C286.0,157.7 285.0,165.2 284.5,170.1 C284.0,175.1 283.6,180.1 283.4,185.1 C283.1,190.0 283.0,195.0 283.0,200.0 C283.0,205.0 283.1,210.0 283.4,214.9 C283.6,219.9 284.0,224.9 284.5,229.9 C285.0,234.8 286.0,242.3 286.3,244.8" stroke="#0000ff" stroke-opacity="0.51" stroke-width="34" fill="none" stroke-linecap="butt"/><path d="M286.3,244.8 C286.5,246.1 287.1,249.8 287.6,252.4 C288.0,254.9 288.5,257.4 289.0,259.9 C289.5,262.5 290.0,265.0 290.6,267.5 C291.2,270.0 291.8,272.5 292.4,275.1 C293.0,277.6 293.7,280.1 294.4,282.6 C295.1,285.2 296.2,288.9 296.6,290.2" stroke="#0000ff" stroke-opacity="0.30" stroke-width="34" fill="none" stroke-linecap="butt"/><ellipse cx="244" cy="300" rx="27.0" ry="35.8" fill="#0000ff" fill-opacity="0.44"/><path d="M365.6,59.8 C365.0,61.4 363.4,66.1 362.4,69.2 C361.4,72.3 360.4,75.5 359.4,78.6 C358.5,81.7 357.6,84.9 356.7,88.0 C355.8,91.1 355.0,94.3 354.2,97.4 C353.4,100.5 352.6,103.7 351.9,106.8 C351.1,109.9 350.1,114.6 349.8,116.2" stroke="#ff0000" stroke-opacity="0.20" stroke-width="34" fill="none" stroke-linecap="butt"/><path d="M349.8,116.2 C349.2,119.5 347.2,129.3 346.2,135.8 C345.1,142.3 344.2,148.9 343.5,155.4 C342.8,161.9 342.2,168.5 341.8,175.0 C341.4,181.5 341.1,188.1 341.0,194.6 C340.9,201.1 341.0,207.7 341.3,214.2 C341.5,220.7 342.2,230.5 342.4,233.8" stroke="#ff0000" stroke-opacity="0.34" stroke-width="34" fill="none" stroke-linecap="butt"/><path d="M342.4,233.8 C342.6,235.4 343.0,240.1 343.3,243.2 C343.7,246.3 344.0,249.5 344.5,252.6 C344.9,255.7 345.3,258.9 345.8,262.0 C346.3,265.1 346.8,268.3 347.4,271.4 C347.9,274.5 348.5,277.7 349.2,280.8 C349.8,283.9 350.8,288.6 351.2,290.2" stroke="#ff0000" stroke-opacity="0.20" stroke-width="34" fill="none" stroke-linecap="butt"/><path d="M294.2,290.3 Q293.4,305.0 294.2,319.7" stroke="#ff0000" stroke-opacity="0.24" stroke-width="37.8" fill="none" stroke-linecap="round"/><path d="M355.0,37.4 C355.7,39.3 358.0,44.9 359.4,48.7 C360.8,52.4 362.2,56.2 363.5,59.9 C364.8,63.7 366.1,67.4 367.3,71.2 C368.5,75.0 369.6,78.7 370.7,82.5 C371.8,86.2 372.9,90.0 373.9,93.7 C374.9,97.5 376.2,103.1 376.7,105.0" stroke="#0000ff" stroke-opacity="0.21" stroke-width="42" fill="none" stroke-linecap="butt"/><path d="M376.7,105.0 C377.5,108.9 380.2,120.6 381.6,128.3 C383.0,136.1 384.1,143.9 385.1,151.7 C386.0,159.4 386.7,167.2 387.2,175.0 C387.7,182.8 388.0,190.6 388.0,198.3 C388.0,206.1 387.8,213.9 387.4,221.7 C387.0,229.4 385.8,241.1 385.5,245.0" stroke="#0000ff" stroke-opacity="0.35" stroke-width="42" fill="none" stroke-linecap="butt"/><path d="M385.5,245.0 C385.2,246.9 384.6,252.5 384.0,256.3 C383.5,260.0 382.9,263.8 382.3,267.5 C381.7,271.3 381.0,275.0 380.2,278.8 C379.5,282.6 378.7,286.3 377.9,290.1 C377.0,293.8 376.1,297.6 375.2,301.3 C374.2,305.1 372.7,310.7 372.2,312.6" stroke="#0000ff" stroke-opacity="0.21" stroke-width="42" fill="none" stroke-linecap="butt"/><path d="M382.4,31.0 C383.5,33.0 386.9,39.1 389.0,43.1 C391.1,47.2 393.1,51.2 395.1,55.3 C397.0,59.3 398.9,63.4 400.7,67.4 C402.5,71.4 404.2,75.5 405.8,79.5 C407.4,83.6 409.0,87.6 410.4,91.7 C411.9,95.7 413.9,101.8 414.6,103.8" stroke="#ff0000" stroke-opacity="0.09" stroke-width="30" fill="none" stroke-linecap="butt"/><path d="M414.6,103.8 C415.8,108.3 420.0,121.8 422.0,130.9 C424.1,139.9 425.8,148.9 427.1,157.9 C428.3,167.0 429.2,176.0 429.6,185.0 C430.1,194.0 430.1,203.0 429.8,212.1 C429.4,221.1 428.6,230.1 427.4,239.1 C426.3,248.2 423.5,261.7 422.7,266.2" stroke="#ff0000" stroke-opacity="0.15" stroke-width="30" fill="none" stroke-linecap="butt"/><path d="M422.7,266.2 C422.2,268.2 420.8,274.3 419.8,278.3 C418.7,282.4 417.6,286.4 416.4,290.5 C415.1,294.5 413.8,298.6 412.5,302.6 C411.1,306.6 409.6,310.7 408.1,314.7 C406.5,318.8 404.9,322.8 403.2,326.9 C401.5,330.9 398.7,337.0 397.8,339.0" stroke="#ff0000" stroke-opacity="0.09" stroke-width="30" fill="none" stroke-linecap="butt"/><path d="M414.7,14.6 C415.8,16.5 419.2,22.0 421.4,25.8 C423.6,29.5 425.7,33.2 427.7,36.9 C429.7,40.7 431.7,44.4 433.5,48.1 C435.4,51.8 437.2,55.5 439.0,59.3 C440.7,63.0 442.4,66.7 444.0,70.4 C445.6,74.2 447.9,79.7 448.6,81.6" stroke="#0000ff" stroke-opacity="0.11" stroke-width="18" fill="none" stroke-linecap="butt"/><path d="M448.6,81.6 C450.2,86.0 455.1,99.0 457.8,107.7 C460.5,116.4 462.8,125.2 464.7,133.9 C466.6,142.6 468.2,151.3 469.3,160.0 C470.5,168.7 471.3,177.4 471.7,186.1 C472.1,194.8 472.1,203.6 471.7,212.3 C471.4,221.0 469.9,234.0 469.5,238.4" stroke="#0000ff" stroke-opacity="0.19" stroke-width="18" fill="none" stroke-linecap="butt"/><path d="M469.5,238.4 C469.3,240.3 468.5,245.8 467.9,249.6 C467.3,253.3 466.6,257.0 465.9,260.7 C465.1,264.5 464.3,268.2 463.4,271.9 C462.5,275.6 461.5,279.3 460.5,283.1 C459.5,286.8 458.4,290.5 457.2,294.2 C456.0,298.0 454.1,303.5 453.5,305.4" stroke="#0000ff" stroke-opacity="0.11" stroke-width="18" fill="none" stroke-linecap="butt"/><ellipse cx="186" cy="291" rx="47.2" ry="33.6" fill="#ff0000" fill-opacity="0.19"/><ellipse cx="97" cy="325" rx="33.8" ry="28.0" fill="#ff0000" fill-opacity="0.12"/><ellipse cx="415" cy="310" rx="40.5" ry="22.4" fill="#ff0000" fill-opacity="0.12"/><ellipse cx="333" cy="277" rx="16.2" ry="13.4" fill="#0000ff" fill-opacity="0.32"/></g><g filter="url(#bl1)"><path d="M111.0,83.0 C109.2,90.0 103.7,111.1 100.0,125.0 C96.3,138.9 92.2,152.7 89.0,166.5 C85.8,180.3 81.9,201.1 80.5,208.0" stroke="#3a3aff" stroke-opacity="0.78" stroke-width="2.5" fill="none" stroke-linecap="round"/><path d="M119.0,83.0 C117.7,90.0 113.7,111.1 111.0,125.0 C108.3,138.9 104.1,159.6 102.7,166.5" stroke="#3a3aff" stroke-opacity="0.45" stroke-width="1.5" fill="none" stroke-linecap="round"/><path d="M194.0,139.0 C193.2,144.5 190.8,160.5 189.0,172.0 C187.2,183.5 183.0,196.0 183.0,208.0 C183.0,220.0 188.0,238.0 189.0,244.0" stroke="#3a3aff" stroke-opacity="0.65" stroke-width="2.5" fill="none" stroke-linecap="round"/><path d="M16.6,222.0 C16.6,229.0 14.8,250.2 16.6,264.0 C18.5,277.8 23.1,291.2 27.7,305.0 C32.3,318.8 41.6,340.0 44.4,347.0" stroke="#3a3aff" stroke-opacity="0.39" stroke-width="2" fill="none" stroke-linecap="round"/><path d="M33.0,222.0 C32.6,229.0 29.1,250.2 30.5,264.0 C31.9,277.8 37.0,291.2 41.6,305.0 C46.2,318.8 55.3,340.0 58.0,347.0" stroke="#3a3aff" stroke-opacity="0.33" stroke-width="2" fill="none" stroke-linecap="round"/></g>
<use href="#statics"/>
</g>
<use href="#frame"/>
<text class="t" transform="translate(15.4,51.9) scale(1,1.03)">04-Aug-2011 22:00</text>
<text class="lb" x="15.0" y="376.2">(e)</text>
<circle cx="197.4" cy="139.6" r="4.7" fill="#00ff00"/><circle cx="197.4" cy="189.9" r="4.7" fill="#00ff00"/><circle cx="197.4" cy="238.3" r="4.7" fill="#00ff00"/><circle cx="259" cy="149.1" r="4.7" fill="#00ff00"/><circle cx="259" cy="193.2" r="4.7" fill="#00ff00"/><path d="M261.9,171.5 L191.6,171.5 M205.4,185.3 L191.6,171.5 L205.4,157.7" stroke="#0000ff" stroke-width="5.3" fill="none" stroke-linecap="round" stroke-linejoin="round"/>
</g>
<g transform="translate(1233.3,473.3)">
<rect x="0" y="0" width="480.6" height="394.6" fill="#fff"/>
<g clip-path="url(#clipP)">
<g filter="url(#fld)"><path d="M53.9,138.0 C53.3,139.7 51.5,144.7 50.4,148.1 C49.3,151.4 48.3,154.8 47.3,158.1 C46.4,161.5 45.5,164.8 44.6,168.2 C43.8,171.6 43.0,174.9 42.4,178.3 C41.7,181.6 41.0,185.0 40.5,188.3 C39.9,191.7 39.2,196.7 39.0,198.4" stroke="#0000ff" stroke-opacity="0.11" stroke-width="40" fill="none" stroke-linecap="butt"/><path d="M39.0,198.4 C38.7,201.8 37.5,212.1 37.2,218.9 C36.9,225.8 36.9,232.6 37.2,239.5 C37.4,246.3 38.0,253.2 38.8,260.0 C39.6,266.8 40.7,273.7 42.1,280.5 C43.5,287.4 45.2,294.2 47.1,301.1 C49.0,307.9 52.7,318.2 53.8,321.6" stroke="#0000ff" stroke-opacity="0.19" stroke-width="40" fill="none" stroke-linecap="butt"/><path d="M53.8,321.6 C54.4,323.3 56.3,328.3 57.7,331.7 C59.0,335.0 60.5,338.4 62.0,341.7 C63.5,345.1 65.0,348.4 66.7,351.8 C68.3,355.2 70.0,358.5 71.8,361.9 C73.5,365.2 75.4,368.6 77.3,371.9 C79.2,375.3 82.2,380.3 83.2,382.0" stroke="#0000ff" stroke-opacity="0.11" stroke-width="40" fill="none" stroke-linecap="butt"/><path d="M140.5,63.4 C139.6,64.7 137.0,68.8 135.3,71.5 C133.6,74.2 131.9,76.8 130.3,79.5 C128.7,82.2 127.1,84.9 125.6,87.6 C124.0,90.3 122.5,93.0 121.1,95.7 C119.6,98.4 118.2,101.0 116.9,103.7 C115.5,106.4 113.6,110.5 112.9,111.8" stroke="#0000ff" stroke-opacity="0.11" stroke-width="22" fill="none" stroke-linecap="butt"/><path d="M112.9,111.8 C111.6,114.8 107.6,123.6 105.2,129.5 C102.8,135.4 100.6,141.4 98.7,147.3 C96.7,153.2 95.0,159.1 93.5,165.0 C91.9,170.9 90.6,176.8 89.5,182.7 C88.4,188.6 87.4,194.6 86.7,200.5 C86.0,206.4 85.5,215.2 85.3,218.2" stroke="#0000ff" stroke-opacity="0.19" stroke-width="22" fill="none" stroke-linecap="butt"/><path d="M85.3,218.2 C85.2,219.5 85.1,223.6 85.0,226.3 C85.0,229.0 85.0,231.6 85.0,234.3 C85.1,237.0 85.2,239.7 85.3,242.4 C85.4,245.1 85.6,247.8 85.8,250.5 C86.1,253.2 86.3,255.8 86.6,258.5 C86.9,261.2 87.5,265.3 87.7,266.6" stroke="#0000ff" stroke-opacity="0.11" stroke-width="22" fill="none" stroke-linecap="butt"/><path d="M195.4,62.0 C194.4,63.7 191.0,68.6 188.9,72.0 C186.8,75.3 184.8,78.6 182.8,81.9 C180.9,85.3 179.0,88.6 177.1,91.9 C175.3,95.2 173.5,98.5 171.8,101.9 C170.1,105.2 168.5,108.5 166.9,111.8 C165.4,115.2 163.2,120.1 162.4,121.8" stroke="#ff0000" stroke-opacity="0.15" stroke-width="60" fill="none" stroke-linecap="butt"/><path d="M162.4,121.8 C161.2,124.8 157.5,133.6 155.4,139.5 C153.2,145.4 151.3,151.4 149.6,157.3 C147.9,163.2 146.4,169.1 145.1,175.0 C143.7,180.9 142.7,186.8 141.8,192.7 C140.9,198.6 140.2,204.6 139.8,210.5 C139.3,216.4 139.1,225.2 139.0,228.2" stroke="#ff0000" stroke-opacity="0.24" stroke-width="60" fill="none" stroke-linecap="butt"/><path d="M139.0,228.2 C139.0,229.9 139.0,234.8 139.1,238.2 C139.2,241.5 139.4,244.8 139.7,248.1 C139.9,251.5 140.2,254.8 140.6,258.1 C141.0,261.4 141.4,264.7 141.9,268.1 C142.4,271.4 143.0,274.7 143.6,278.0 C144.3,281.4 145.4,286.3 145.7,288.0" stroke="#ff0000" stroke-opacity="0.15" stroke-width="60" fill="none" stroke-linecap="butt"/><ellipse cx="97" cy="244" rx="33.8" ry="31.4" fill="#ff0000" fill-opacity="0.19"/><path d="M202.6,91.6 C202.1,93.1 200.5,97.4 199.6,100.3 C198.6,103.2 197.7,106.2 196.8,109.1 C195.9,112.0 195.1,114.9 194.3,117.8 C193.5,120.7 192.7,123.6 192.0,126.5 C191.3,129.4 190.6,132.4 190.0,135.3 C189.4,138.2 188.5,142.5 188.2,144.0" stroke="#0000ff" stroke-opacity="0.23" stroke-width="28" fill="none" stroke-linecap="butt"/><path d="M188.2,144.0 C187.7,147.1 186.1,156.4 185.3,162.7 C184.5,168.9 184.0,175.1 183.6,181.3 C183.2,187.6 183.0,193.8 183.0,200.0 C183.0,206.2 183.2,212.4 183.6,218.7 C184.0,224.9 184.5,231.1 185.3,237.3 C186.1,243.6 187.7,252.9 188.2,256.0" stroke="#0000ff" stroke-opacity="0.38" stroke-width="28" fill="none" stroke-linecap="butt"/><path d="M188.2,256.0 C188.5,257.5 189.4,261.8 190.0,264.7 C190.6,267.6 191.3,270.6 192.0,273.5 C192.7,276.4 193.5,279.3 194.3,282.2 C195.1,285.1 195.9,288.0 196.8,290.9 C197.7,293.8 198.6,296.8 199.6,299.7 C200.5,302.6 202.1,306.9 202.6,308.4" stroke="#0000ff" stroke-opacity="0.23" stroke-width="28" fill="none" stroke-linecap="butt"/><path d="M254.0,75.0 C253.4,76.6 251.5,81.3 250.2,84.5 C249.0,87.6 247.9,90.8 246.8,93.9 C245.6,97.1 244.6,100.2 243.6,103.4 C242.5,106.6 241.6,109.7 240.7,112.9 C239.7,116.0 238.9,119.2 238.1,122.3 C237.2,125.5 236.1,130.2 235.8,131.8" stroke="#ff0000" stroke-opacity="0.15" stroke-width="50" fill="none" stroke-linecap="butt"/><path d="M235.8,131.8 C235.2,134.8 233.2,143.6 232.2,149.5 C231.3,155.4 230.4,161.4 229.8,167.3 C229.1,173.2 228.7,179.1 228.4,185.0 C228.1,190.9 228.0,196.8 228.0,202.7 C228.1,208.6 228.3,214.6 228.7,220.5 C229.1,226.4 230.1,235.2 230.4,238.2" stroke="#ff0000" stroke-opacity="0.24" stroke-width="50" fill="none" stroke-linecap="butt"/><path d="M230.4,238.2 C230.7,239.8 231.3,244.5 231.8,247.7 C232.3,250.8 232.8,254.0 233.4,257.1 C234.0,260.3 234.7,263.4 235.4,266.6 C236.1,269.8 236.8,272.9 237.6,276.1 C238.4,279.2 239.3,282.4 240.2,285.5 C241.1,288.7 242.6,293.4 243.0,295.0" stroke="#ff0000" stroke-opacity="0.15" stroke-width="50" fill="none" stroke-linecap="butt"/><ellipse cx="161" cy="291" rx="37.8" ry="39.2" fill="#ff0000" fill-opacity="0.19"/><path d="M216.3,264.1 Q215.0,283.0 216.3,301.9" stroke="#0000ff" stroke-opacity="0.32" stroke-width="40.5" fill="none" stroke-linecap="round"/><path d="M282.6,120.4 C282.2,121.6 281.3,125.4 280.7,127.9 C280.1,130.4 279.5,132.8 279.0,135.3 C278.4,137.8 277.9,140.3 277.5,142.8 C277.0,145.3 276.5,147.8 276.1,150.3 C275.7,152.8 275.3,155.2 275.0,157.7 C274.6,160.2 274.2,164.0 274.0,165.2" stroke="#0000ff" stroke-opacity="0.27" stroke-width="32" fill="none" stroke-linecap="butt"/><path d="M274.0,165.2 C273.8,167.7 273.0,175.2 272.7,180.1 C272.3,185.1 272.1,190.1 272.0,195.1 C272.0,200.0 272.0,205.0 272.2,210.0 C272.3,215.0 272.6,220.0 273.0,224.9 C273.4,229.9 274.0,234.9 274.6,239.9 C275.3,244.8 276.6,252.3 277.0,254.8" stroke="#0000ff" stroke-opacity="0.44" stroke-width="32" fill="none" stroke-linecap="butt"/><path d="M277.0,254.8 C277.2,256.0 277.9,259.8 278.5,262.3 C279.0,264.8 279.5,267.2 280.1,269.7 C280.7,272.2 281.3,274.7 281.9,277.2 C282.6,279.7 283.2,282.2 283.9,284.7 C284.6,287.2 285.4,289.6 286.1,292.1 C286.9,294.6 288.1,298.4 288.5,299.6" stroke="#0000ff" stroke-opacity="0.27" stroke-width="32" fill="none" stroke-linecap="butt"/><path d="M318.9,158.6 C318.7,159.5 318.4,162.3 318.1,164.2 C317.9,166.0 317.7,167.9 317.5,169.7 C317.3,171.6 317.2,173.4 317.0,175.3 C316.9,177.2 316.7,179.0 316.6,180.9 C316.5,182.7 316.4,184.6 316.3,186.4 C316.2,188.3 316.1,191.1 316.1,192.0" stroke="#ff0000" stroke-opacity="0.20" stroke-width="38" fill="none" stroke-linecap="butt"/><path d="M316.1,192.0 C316.1,193.6 316.0,198.2 316.0,201.3 C316.0,204.4 316.1,207.6 316.2,210.7 C316.3,213.8 316.5,216.9 316.7,220.0 C316.9,223.1 317.1,226.2 317.4,229.3 C317.7,232.4 318.1,235.6 318.5,238.7 C318.9,241.8 319.6,246.4 319.8,248.0" stroke="#ff0000" stroke-opacity="0.34" stroke-width="38" fill="none" stroke-linecap="butt"/><path d="M319.8,248.0 C320.0,248.9 320.5,251.7 320.8,253.6 C321.1,255.4 321.5,257.3 321.8,259.1 C322.2,261.0 322.6,262.8 323.0,264.7 C323.4,266.6 323.8,268.4 324.2,270.3 C324.7,272.1 325.1,274.0 325.6,275.8 C326.1,277.7 326.8,280.5 327.0,281.4" stroke="#ff0000" stroke-opacity="0.20" stroke-width="38" fill="none" stroke-linecap="butt"/><path d="M305.2,123.8 Q304.3,139.0 305.2,154.2" stroke="#ff0000" stroke-opacity="0.19" stroke-width="32.4" fill="none" stroke-linecap="round"/><ellipse cx="266" cy="300" rx="29.7" ry="31.4" fill="#ff0000" fill-opacity="0.24"/><ellipse cx="319" cy="277" rx="16.2" ry="17.9" fill="#0000ff" fill-opacity="0.57"/><path d="M362.8,53.4 C362.5,54.1 361.4,56.3 360.7,57.8 C360.0,59.3 359.3,60.7 358.6,62.2 C358.0,63.7 357.3,65.1 356.7,66.6 C356.0,68.1 355.4,69.5 354.7,71.0 C354.1,72.5 353.5,73.9 352.9,75.4 C352.3,76.9 351.4,79.1 351.1,79.8" stroke="#0000ff" stroke-opacity="0.27" stroke-width="22" fill="none" stroke-linecap="butt"/><path d="M351.1,79.8 C350.5,81.2 348.9,85.4 347.8,88.2 C346.8,91.0 345.8,93.8 344.8,96.6 C343.9,99.4 342.9,102.2 342.0,105.0 C341.2,107.8 340.3,110.6 339.5,113.4 C338.7,116.2 337.9,119.0 337.2,121.8 C336.5,124.6 335.5,128.8 335.1,130.2" stroke="#0000ff" stroke-opacity="0.44" stroke-width="22" fill="none" stroke-linecap="butt"/><path d="M335.1,130.2 C335.0,130.9 334.4,133.1 334.1,134.6 C333.8,136.1 333.5,137.5 333.2,139.0 C332.9,140.5 332.6,141.9 332.3,143.4 C332.1,144.9 331.8,146.3 331.5,147.8 C331.3,149.3 331.0,150.7 330.8,152.2 C330.6,153.7 330.3,155.9 330.1,156.6" stroke="#0000ff" stroke-opacity="0.27" stroke-width="22" fill="none" stroke-linecap="butt"/><path d="M410.8,53.4 C410.3,54.4 408.8,57.6 407.8,59.6 C406.9,61.7 405.9,63.8 405.0,65.9 C404.1,67.9 403.1,70.0 402.3,72.1 C401.4,74.2 400.5,76.3 399.7,78.3 C398.8,80.4 398.0,82.5 397.2,84.6 C396.4,86.6 395.3,89.8 394.9,90.8" stroke="#ff0000" stroke-opacity="0.07" stroke-width="22" fill="none" stroke-linecap="butt"/><path d="M394.9,90.8 C394.1,93.0 391.8,99.5 390.4,103.9 C389.0,108.2 387.7,112.6 386.5,116.9 C385.3,121.3 384.2,125.6 383.2,130.0 C382.2,134.4 381.2,138.7 380.4,143.1 C379.6,147.4 378.8,151.8 378.2,156.1 C377.6,160.5 376.9,167.0 376.6,169.2" stroke="#ff0000" stroke-opacity="0.12" stroke-width="22" fill="none" stroke-linecap="butt"/><path d="M376.6,169.2 C376.5,170.2 376.2,173.4 376.0,175.4 C375.8,177.5 375.7,179.6 375.6,181.7 C375.4,183.7 375.3,185.8 375.2,187.9 C375.2,190.0 375.1,192.1 375.1,194.1 C375.0,196.2 375.0,198.3 375.0,200.4 C375.0,202.4 375.1,205.6 375.1,206.6" stroke="#ff0000" stroke-opacity="0.07" stroke-width="22" fill="none" stroke-linecap="butt"/><path d="M365.1,48.0 C365.8,49.8 367.8,55.2 369.1,58.8 C370.3,62.4 371.6,66.0 372.7,69.6 C373.9,73.2 375.0,76.8 376.1,80.4 C377.2,84.0 378.2,87.6 379.2,91.2 C380.2,94.8 381.1,98.4 382.0,102.0 C382.9,105.6 384.1,111.0 384.5,112.8" stroke="#0000ff" stroke-opacity="0.19" stroke-width="40" fill="none" stroke-linecap="butt"/><path d="M384.5,112.8 C385.2,116.5 387.5,127.7 388.8,135.2 C390.0,142.7 391.0,150.1 391.8,157.6 C392.5,165.1 393.1,172.5 393.5,180.0 C393.9,187.5 394.0,194.9 394.0,202.4 C393.9,209.9 393.7,217.3 393.2,224.8 C392.8,232.3 391.6,243.5 391.2,247.2" stroke="#0000ff" stroke-opacity="0.32" stroke-width="40" fill="none" stroke-linecap="butt"/><path d="M391.2,247.2 C391.0,249.0 390.3,254.4 389.8,258.0 C389.3,261.6 388.7,265.2 388.1,268.8 C387.5,272.4 386.8,276.0 386.1,279.6 C385.4,283.2 384.6,286.8 383.8,290.4 C383.0,294.0 382.1,297.6 381.2,301.2 C380.3,304.8 378.8,310.2 378.3,312.0" stroke="#0000ff" stroke-opacity="0.19" stroke-width="40" fill="none" stroke-linecap="butt"/><path d="M381.9,16.5 C383.2,18.8 387.3,25.6 389.9,30.1 C392.5,34.7 394.9,39.2 397.3,43.7 C399.7,48.3 401.9,52.8 404.1,57.4 C406.2,61.9 408.3,66.4 410.3,71.0 C412.2,75.5 414.1,80.0 415.8,84.6 C417.5,89.1 419.9,95.9 420.7,98.2" stroke="#ff0000" stroke-opacity="0.10" stroke-width="45" fill="none" stroke-linecap="butt"/><path d="M420.7,98.2 C422.1,103.0 426.8,117.5 429.2,127.1 C431.5,136.8 433.4,146.4 434.8,156.1 C436.2,165.7 437.1,175.4 437.6,185.0 C438.1,194.6 438.1,204.3 437.7,213.9 C437.2,223.6 436.3,233.2 434.9,242.9 C433.6,252.5 430.3,267.0 429.4,271.8" stroke="#ff0000" stroke-opacity="0.17" stroke-width="45" fill="none" stroke-linecap="butt"/><path d="M429.4,271.8 C428.8,274.1 427.1,280.9 425.8,285.4 C424.5,290.0 423.2,294.5 421.7,299.0 C420.2,303.6 418.6,308.1 416.8,312.6 C415.1,317.2 413.3,321.7 411.4,326.3 C409.5,330.8 407.5,335.3 405.4,339.9 C403.3,344.4 399.8,351.2 398.7,353.5" stroke="#ff0000" stroke-opacity="0.10" stroke-width="45" fill="none" stroke-linecap="butt"/><ellipse cx="90" cy="333" rx="33.8" ry="22.4" fill="#ff0000" fill-opacity="0.12"/><ellipse cx="111" cy="90" rx="33.8" ry="16.8" fill="#ff0000" fill-opacity="0.15"/><ellipse cx="325" cy="312" rx="20.2" ry="16.8" fill="#0000ff" fill-opacity="0.25"/></g><g filter="url(#bl1)"><path d="M100.0,83.0 C98.2,90.0 92.2,111.1 89.0,125.0 C85.8,138.9 83.3,155.0 80.5,166.5 C77.7,178.0 73.4,189.4 72.0,194.0" stroke="#3a3aff" stroke-opacity="0.78" stroke-width="2.5" fill="none" stroke-linecap="round"/><path d="M111.0,83.0 C109.2,90.0 103.2,111.1 100.0,125.0 C96.8,138.9 93.0,159.6 91.6,166.5" stroke="#3a3aff" stroke-opacity="0.45" stroke-width="1.5" fill="none" stroke-linecap="round"/><path d="M180.0,133.0 C178.7,138.6 174.2,155.3 172.0,166.5 C169.8,177.7 167.0,188.4 166.5,200.0 C166.0,211.6 168.6,230.0 169.0,236.0" stroke="#3a3aff" stroke-opacity="0.65" stroke-width="2.5" fill="none" stroke-linecap="round"/><path d="M8.3,230.0 C8.8,237.9 8.7,262.7 11.0,277.5 C13.3,292.3 16.9,305.1 22.0,319.0 C27.1,332.9 38.3,354.0 41.6,361.0" stroke="#3a3aff" stroke-opacity="0.39" stroke-width="2" fill="none" stroke-linecap="round"/><path d="M261.0,194.0 C260.0,198.7 256.8,212.7 255.0,222.0 C253.2,231.3 250.8,245.3 250.0,250.0" stroke="#3a3aff" stroke-opacity="0.52" stroke-width="2" fill="none" stroke-linecap="round"/></g>
<use href="#statics"/>
</g>
<use href="#frame"/>
<text class="t" transform="translate(15.4,51.9) scale(1,1.03)">05-Aug-2011 00:00</text>
<text class="lb" x="15.0" y="376.2">(f)</text>
<circle cx="197.4" cy="139.6" r="4.7" fill="#00ff00"/><circle cx="197.4" cy="189.9" r="4.7" fill="#00ff00"/><circle cx="197.4" cy="238.3" r="4.7" fill="#00ff00"/><circle cx="259" cy="149.1" r="4.7" fill="#00ff00"/><circle cx="259" cy="193.2" r="4.7" fill="#00ff00"/><path d="M245.8,171.5 L175.6,171.5 M189.4,185.3 L175.6,171.5 L189.4,157.7" stroke="#0000ff" stroke-width="5.3" fill="none" stroke-linecap="round" stroke-linejoin="round"/>
</g>
<g transform="translate(98.6,928.9)">
<rect x="0" y="0" width="480.6" height="394.6" fill="#fff"/>
<g clip-path="url(#clipP)">
<g filter="url(#fld)"><path d="M109.4,81.0 C108.3,83.0 104.8,88.8 102.7,92.8 C100.5,96.7 98.5,100.6 96.5,104.5 C94.5,108.5 92.6,112.4 90.9,116.3 C89.1,120.2 87.4,124.1 85.8,128.1 C84.2,132.0 82.7,135.9 81.3,139.8 C79.8,143.8 78.0,149.6 77.3,151.6" stroke="#0000ff" stroke-opacity="0.11" stroke-width="30" fill="none" stroke-linecap="butt"/><path d="M77.3,151.6 C76.2,156.0 72.3,169.0 70.5,177.7 C68.6,186.4 67.3,195.2 66.4,203.9 C65.5,212.6 65.0,221.3 65.0,230.0 C65.0,238.7 65.5,247.4 66.4,256.1 C67.3,264.8 68.6,273.6 70.5,282.3 C72.3,291.0 76.2,304.0 77.3,308.4" stroke="#0000ff" stroke-opacity="0.19" stroke-width="30" fill="none" stroke-linecap="butt"/><path d="M77.3,308.4 C78.0,310.4 79.8,316.2 81.3,320.2 C82.7,324.1 84.2,328.0 85.8,331.9 C87.4,335.9 89.1,339.8 90.9,343.7 C92.6,347.6 94.5,351.5 96.5,355.5 C98.5,359.4 100.5,363.3 102.7,367.2 C104.8,371.2 108.3,377.0 109.4,379.0" stroke="#0000ff" stroke-opacity="0.11" stroke-width="30" fill="none" stroke-linecap="butt"/><path d="M181.7,72.0 C180.5,73.8 176.7,79.1 174.3,82.7 C171.9,86.3 169.6,89.8 167.4,93.4 C165.2,97.0 163.1,100.5 161.0,104.1 C159.0,107.7 157.0,111.2 155.2,114.8 C153.3,118.4 151.5,121.9 149.8,125.5 C148.1,129.1 145.8,134.4 145.0,136.2" stroke="#ff0000" stroke-opacity="0.15" stroke-width="60" fill="none" stroke-linecap="butt"/><path d="M145.0,136.2 C143.7,139.5 139.7,149.3 137.5,155.8 C135.3,162.3 133.4,168.9 131.8,175.4 C130.2,181.9 128.8,188.5 127.8,195.0 C126.7,201.5 126.0,208.1 125.5,214.6 C125.1,221.1 124.9,227.7 125.0,234.2 C125.2,240.7 126.1,250.5 126.3,253.8" stroke="#ff0000" stroke-opacity="0.24" stroke-width="60" fill="none" stroke-linecap="butt"/><path d="M126.3,253.8 C126.5,255.6 127.1,260.9 127.7,264.5 C128.3,268.1 128.9,271.6 129.6,275.2 C130.4,278.8 131.2,282.3 132.1,285.9 C133.0,289.5 134.0,293.0 135.1,296.6 C136.2,300.2 137.3,303.7 138.6,307.3 C139.8,310.9 141.9,316.2 142.6,318.0" stroke="#ff0000" stroke-opacity="0.15" stroke-width="60" fill="none" stroke-linecap="butt"/><path d="M203.5,82.2 C202.7,83.8 200.1,88.7 198.5,91.9 C196.9,95.2 195.4,98.4 194.0,101.7 C192.5,104.9 191.1,108.2 189.8,111.4 C188.5,114.6 187.3,117.9 186.1,121.1 C185.0,124.4 183.9,127.6 182.9,130.9 C181.8,134.1 180.5,139.0 180.0,140.6" stroke="#0000ff" stroke-opacity="0.19" stroke-width="26" fill="none" stroke-linecap="butt"/><path d="M180.0,140.6 C179.2,144.2 176.5,154.9 175.3,162.1 C174.0,169.2 173.2,176.4 172.6,183.5 C172.1,190.7 171.9,197.8 172.1,205.0 C172.2,212.2 172.7,219.3 173.6,226.5 C174.5,233.6 175.7,240.8 177.2,247.9 C178.8,255.1 182.0,265.8 182.9,269.4" stroke="#0000ff" stroke-opacity="0.32" stroke-width="26" fill="none" stroke-linecap="butt"/><path d="M182.9,269.4 C183.5,271.0 185.1,275.9 186.2,279.1 C187.4,282.4 188.6,285.6 189.9,288.9 C191.3,292.1 192.6,295.4 194.1,298.6 C195.5,301.8 197.1,305.1 198.7,308.3 C200.3,311.6 201.9,314.8 203.7,318.1 C205.4,321.3 208.2,326.2 209.1,327.8" stroke="#0000ff" stroke-opacity="0.19" stroke-width="26" fill="none" stroke-linecap="butt"/><path d="M268.1,64.4 C266.6,66.3 262.1,72.0 259.4,75.8 C256.6,79.6 253.9,83.4 251.4,87.2 C248.9,91.0 246.5,94.8 244.2,98.6 C242.0,102.4 239.8,106.2 237.8,110.0 C235.8,113.8 233.9,117.6 232.2,121.4 C230.4,125.2 228.1,130.9 227.3,132.8" stroke="#ff0000" stroke-opacity="0.15" stroke-width="52" fill="none" stroke-linecap="butt"/><path d="M227.3,132.8 C226.1,136.5 221.9,147.7 219.9,155.2 C217.9,162.7 216.5,170.1 215.5,177.6 C214.5,185.1 214.0,192.5 214.0,200.0 C214.0,207.5 214.5,214.9 215.5,222.4 C216.5,229.9 217.9,237.3 219.9,244.8 C221.9,252.3 226.1,263.5 227.3,267.2" stroke="#ff0000" stroke-opacity="0.24" stroke-width="52" fill="none" stroke-linecap="butt"/><path d="M227.3,267.2 C228.1,269.1 230.4,274.8 232.2,278.6 C233.9,282.4 235.8,286.2 237.8,290.0 C239.8,293.8 242.0,297.6 244.2,301.4 C246.5,305.2 248.9,309.0 251.4,312.8 C253.9,316.6 256.6,320.4 259.4,324.2 C262.1,328.0 266.6,333.7 268.1,335.6" stroke="#ff0000" stroke-opacity="0.15" stroke-width="52" fill="none" stroke-linecap="butt"/><path d="M288.0,90.4 C287.3,92.1 285.2,97.1 283.8,100.4 C282.5,103.8 281.2,107.1 280.0,110.5 C278.8,113.8 277.7,117.2 276.6,120.5 C275.6,123.8 274.6,127.2 273.7,130.5 C272.7,133.9 271.9,137.2 271.1,140.6 C270.3,143.9 269.2,148.9 268.9,150.6" stroke="#0000ff" stroke-opacity="0.23" stroke-width="32" fill="none" stroke-linecap="butt"/><path d="M268.9,150.6 C268.3,154.2 266.4,164.9 265.6,172.1 C264.8,179.2 264.3,186.4 264.1,193.5 C263.9,200.7 264.0,207.8 264.4,215.0 C264.9,222.2 265.6,229.3 266.7,236.5 C267.7,243.6 269.1,250.8 270.7,257.9 C272.4,265.1 275.6,275.8 276.6,279.4" stroke="#0000ff" stroke-opacity="0.38" stroke-width="32" fill="none" stroke-linecap="butt"/><path d="M276.6,279.4 C277.2,281.1 278.8,286.1 280.0,289.4 C281.2,292.8 282.5,296.1 283.8,299.5 C285.1,302.8 286.5,306.2 288.0,309.5 C289.4,312.8 291.0,316.2 292.6,319.5 C294.2,322.9 295.8,326.2 297.6,329.6 C299.3,332.9 302.1,337.9 303.0,339.6" stroke="#0000ff" stroke-opacity="0.23" stroke-width="32" fill="none" stroke-linecap="butt"/><path d="M324.7,99.8 C324.3,101.2 322.8,105.6 322.0,108.5 C321.1,111.4 320.2,114.2 319.4,117.1 C318.6,120.0 317.9,122.9 317.2,125.8 C316.5,128.7 315.8,131.6 315.2,134.5 C314.5,137.4 313.9,140.2 313.4,143.1 C312.8,146.0 312.1,150.4 311.9,151.8" stroke="#ff0000" stroke-opacity="0.20" stroke-width="34" fill="none" stroke-linecap="butt"/><path d="M311.9,151.8 C311.5,154.8 310.1,163.6 309.5,169.5 C308.9,175.4 308.5,181.4 308.3,187.3 C308.0,193.2 307.9,199.1 308.0,205.0 C308.1,210.9 308.4,216.8 308.9,222.7 C309.3,228.6 309.9,234.6 310.7,240.5 C311.5,246.4 313.2,255.2 313.6,258.2" stroke="#ff0000" stroke-opacity="0.34" stroke-width="34" fill="none" stroke-linecap="butt"/><path d="M313.6,258.2 C313.9,259.6 314.8,264.0 315.5,266.9 C316.1,269.8 316.8,272.6 317.5,275.5 C318.2,278.4 319.0,281.3 319.8,284.2 C320.6,287.1 321.5,290.0 322.4,292.9 C323.3,295.8 324.2,298.6 325.2,301.5 C326.2,304.4 327.7,308.8 328.2,310.2" stroke="#ff0000" stroke-opacity="0.20" stroke-width="34" fill="none" stroke-linecap="butt"/><path d="M369.4,52.2 C368.7,53.6 366.6,58.0 365.3,60.8 C363.9,63.7 362.7,66.6 361.4,69.5 C360.1,72.3 358.9,75.2 357.8,78.1 C356.6,81.0 355.5,83.9 354.4,86.7 C353.3,89.6 352.3,92.5 351.2,95.4 C350.2,98.2 348.8,102.6 348.4,104.0" stroke="#0000ff" stroke-opacity="0.23" stroke-width="26" fill="none" stroke-linecap="butt"/><path d="M348.4,104.0 C347.5,107.1 344.6,116.4 343.0,122.7 C341.4,128.9 340.0,135.1 338.7,141.3 C337.5,147.6 336.5,153.8 335.7,160.0 C334.8,166.2 334.2,172.4 333.8,178.7 C333.3,184.9 333.1,191.1 333.0,197.3 C333.0,203.6 333.4,212.9 333.4,216.0" stroke="#0000ff" stroke-opacity="0.38" stroke-width="26" fill="none" stroke-linecap="butt"/><path d="M333.4,216.0 C333.5,217.4 333.8,221.8 334.0,224.6 C334.2,227.5 334.5,230.4 334.8,233.3 C335.2,236.1 335.5,239.0 335.9,241.9 C336.3,244.8 336.8,247.7 337.3,250.5 C337.7,253.4 338.3,256.3 338.8,259.2 C339.4,262.0 340.4,266.4 340.7,267.8" stroke="#0000ff" stroke-opacity="0.23" stroke-width="26" fill="none" stroke-linecap="butt"/><path d="M351.4,26.5 C352.2,28.6 354.9,34.8 356.6,39.0 C358.3,43.2 359.9,47.4 361.4,51.5 C363.0,55.7 364.5,59.9 365.9,64.0 C367.3,68.2 368.7,72.4 370.0,76.6 C371.2,80.7 372.5,84.9 373.6,89.1 C374.8,93.3 376.4,99.5 376.9,101.6" stroke="#ff0000" stroke-opacity="0.10" stroke-width="45" fill="none" stroke-linecap="butt"/><path d="M376.9,101.6 C377.8,106.0 380.9,119.0 382.5,127.7 C384.0,136.4 385.3,145.2 386.3,153.9 C387.3,162.6 388.1,171.3 388.5,180.0 C388.9,188.7 389.1,197.4 389.0,206.1 C388.8,214.8 388.4,223.6 387.7,232.3 C387.0,241.0 385.2,254.0 384.7,258.4" stroke="#ff0000" stroke-opacity="0.17" stroke-width="45" fill="none" stroke-linecap="butt"/><path d="M384.7,258.4 C384.4,260.5 383.5,266.7 382.7,270.9 C382.0,275.1 381.2,279.3 380.3,283.4 C379.4,287.6 378.5,291.8 377.5,295.9 C376.5,300.1 375.4,304.3 374.3,308.5 C373.2,312.6 372.0,316.8 370.7,321.0 C369.4,325.2 367.4,331.4 366.7,333.5" stroke="#ff0000" stroke-opacity="0.10" stroke-width="45" fill="none" stroke-linecap="butt"/><path d="M382.4,31.0 C383.5,33.0 386.9,39.1 389.0,43.1 C391.1,47.2 393.1,51.2 395.1,55.3 C397.0,59.3 398.9,63.4 400.7,67.4 C402.5,71.4 404.2,75.5 405.8,79.5 C407.4,83.6 409.0,87.6 410.4,91.7 C411.9,95.7 413.9,101.8 414.6,103.8" stroke="#0000ff" stroke-opacity="0.15" stroke-width="30" fill="none" stroke-linecap="butt"/><path d="M414.6,103.8 C415.8,108.3 420.0,121.8 422.0,130.9 C424.1,139.9 425.8,148.9 427.1,157.9 C428.3,167.0 429.2,176.0 429.6,185.0 C430.1,194.0 430.1,203.0 429.8,212.1 C429.4,221.1 428.6,230.1 427.4,239.1 C426.3,248.2 423.5,261.7 422.7,266.2" stroke="#0000ff" stroke-opacity="0.25" stroke-width="30" fill="none" stroke-linecap="butt"/><path d="M422.7,266.2 C422.2,268.2 420.8,274.3 419.8,278.3 C418.7,282.4 417.6,286.4 416.4,290.5 C415.1,294.5 413.8,298.6 412.5,302.6 C411.1,306.6 409.6,310.7 408.1,314.7 C406.5,318.8 404.9,322.8 403.2,326.9 C401.5,330.9 398.7,337.0 397.8,339.0" stroke="#0000ff" stroke-opacity="0.15" stroke-width="30" fill="none" stroke-linecap="butt"/><path d="M414.0,23.4 C415.2,25.5 418.8,31.7 421.1,35.9 C423.4,40.0 425.6,44.2 427.7,48.3 C429.8,52.5 431.8,56.6 433.7,60.8 C435.6,65.0 437.5,69.1 439.2,73.3 C441.0,77.4 442.7,81.6 444.2,85.7 C445.8,89.9 448.0,96.1 448.7,98.2" stroke="#ff0000" stroke-opacity="0.09" stroke-width="22" fill="none" stroke-linecap="butt"/><path d="M448.7,98.2 C450.1,103.0 454.8,117.5 457.2,127.1 C459.5,136.8 461.4,146.4 462.8,156.1 C464.2,165.7 465.1,175.4 465.6,185.0 C466.1,194.6 466.1,204.3 465.7,213.9 C465.2,223.6 464.3,233.2 462.9,242.9 C461.6,252.5 458.3,267.0 457.4,271.8" stroke="#ff0000" stroke-opacity="0.15" stroke-width="22" fill="none" stroke-linecap="butt"/><path d="M457.4,271.8 C456.9,273.9 455.3,280.1 454.2,284.3 C453.0,288.4 451.7,292.6 450.4,296.7 C449.1,300.9 447.6,305.0 446.1,309.2 C444.6,313.4 443.0,317.5 441.3,321.7 C439.6,325.8 437.9,330.0 436.0,334.1 C434.2,338.3 431.2,344.5 430.2,346.6" stroke="#ff0000" stroke-opacity="0.09" stroke-width="22" fill="none" stroke-linecap="butt"/><ellipse cx="83" cy="264" rx="40.5" ry="44.8" fill="#ff0000" fill-opacity="0.17"/><ellipse cx="430" cy="319" rx="33.8" ry="22.4" fill="#ff0000" fill-opacity="0.12"/></g><g filter="url(#bl1)"><path d="M83.0,91.6 C81.2,97.2 74.7,114.4 72.0,125.0 C69.3,135.6 68.4,143.5 66.6,155.0 C64.8,166.5 61.9,187.5 61.0,194.0" stroke="#3a3aff" stroke-opacity="0.72" stroke-width="2.5" fill="none" stroke-linecap="round"/><path d="M164.0,125.0 C163.0,131.9 159.9,154.0 158.0,166.5 C156.1,179.0 153.1,188.4 152.6,200.0 C152.1,211.6 154.6,230.0 155.0,236.0" stroke="#3a3aff" stroke-opacity="0.72" stroke-width="2.5" fill="none" stroke-linecap="round"/><path d="M250.0,139.0 C249.0,144.5 245.5,160.0 244.0,172.0 C242.5,184.0 241.5,204.5 241.0,211.0" stroke="#3a3aff" stroke-opacity="0.65" stroke-width="2.5" fill="none" stroke-linecap="round"/><path d="M11.0,230.0 C11.9,237.9 13.4,262.7 16.6,277.5 C19.9,292.3 24.9,305.1 30.5,319.0 C36.1,332.9 46.8,354.0 50.0,361.0" stroke="#3a3aff" stroke-opacity="0.39" stroke-width="2" fill="none" stroke-linecap="round"/></g>
<use href="#statics"/>
</g>
<use href="#frame"/>
<text class="t" transform="translate(15.4,51.9) scale(1,1.03)">05-Aug-2011 02:00</text>
<text class="lb" x="15.0" y="376.2">(g)</text>
<circle cx="197.4" cy="139.6" r="4.7" fill="#00ff00"/><circle cx="197.4" cy="189.9" r="4.7" fill="#00ff00"/><circle cx="197.4" cy="238.3" r="4.7" fill="#00ff00"/><circle cx="259" cy="149.1" r="4.7" fill="#00ff00"/><circle cx="259" cy="193.2" r="4.7" fill="#00ff00"/><path d="M231.3,170.8 L159.8,170.8 M173.6,184.6 L159.8,170.8 L173.6,157.0" stroke="#0000ff" stroke-width="5.3" fill="none" stroke-linecap="round" stroke-linejoin="round"/><path d="M316.4,192.9 L248.3,176.4 M258.5,193.0 L248.3,176.4 L264.9,166.2" stroke="#000" stroke-width="5.3" fill="none" stroke-linecap="round" stroke-linejoin="round"/><text class="wv" x="300.3" y="172.7" fill="#000">a-wave</text>
</g>
<g transform="translate(666.4,928.9)">
<rect x="0" y="0" width="480.6" height="394.6" fill="#fff"/>
<g clip-path="url(#clipP)">
<g filter="url(#fld)"><path d="M99.4,81.0 C98.4,82.7 95.4,87.9 93.5,91.3 C91.6,94.7 89.7,98.2 88.0,101.6 C86.2,105.0 84.5,108.5 82.9,111.9 C81.3,115.3 79.7,118.8 78.2,122.2 C76.8,125.6 75.4,129.1 74.0,132.5 C72.7,135.9 70.8,141.1 70.2,142.8" stroke="#0000ff" stroke-opacity="0.11" stroke-width="30" fill="none" stroke-linecap="butt"/><path d="M70.2,142.8 C69.1,146.5 65.3,157.7 63.4,165.2 C61.5,172.7 59.9,180.1 58.6,187.6 C57.3,195.1 56.4,202.5 55.8,210.0 C55.2,217.5 54.9,224.9 55.0,232.4 C55.1,239.9 55.5,247.3 56.2,254.8 C57.0,262.3 58.9,273.5 59.5,277.2" stroke="#0000ff" stroke-opacity="0.19" stroke-width="30" fill="none" stroke-linecap="butt"/><path d="M59.5,277.2 C59.8,278.9 60.8,284.1 61.6,287.5 C62.4,290.9 63.3,294.4 64.2,297.8 C65.1,301.2 66.1,304.7 67.2,308.1 C68.3,311.5 69.4,315.0 70.6,318.4 C71.8,321.8 73.1,325.3 74.5,328.7 C75.8,332.1 78.0,337.3 78.8,339.0" stroke="#0000ff" stroke-opacity="0.11" stroke-width="30" fill="none" stroke-linecap="butt"/><path d="M174.0,63.5 C172.6,65.4 168.3,71.2 165.6,75.0 C162.9,78.9 160.2,82.8 157.7,86.6 C155.2,90.5 152.8,94.3 150.5,98.2 C148.2,102.0 146.0,105.9 143.9,109.7 C141.8,113.6 139.8,117.4 137.9,121.2 C136.0,125.1 133.4,130.9 132.5,132.8" stroke="#ff0000" stroke-opacity="0.13" stroke-width="55" fill="none" stroke-linecap="butt"/><path d="M132.5,132.8 C131.0,136.5 126.3,147.7 123.7,155.2 C121.2,162.7 119.0,170.1 117.2,177.6 C115.5,185.1 114.1,192.5 113.0,200.0 C112.0,207.5 111.4,214.9 111.1,222.4 C110.9,229.9 111.0,237.3 111.5,244.8 C112.0,252.3 113.7,263.5 114.1,267.2" stroke="#ff0000" stroke-opacity="0.21" stroke-width="55" fill="none" stroke-linecap="butt"/><path d="M114.1,267.2 C114.5,269.1 115.5,274.9 116.4,278.8 C117.3,282.6 118.2,286.4 119.3,290.3 C120.3,294.2 121.5,298.0 122.7,301.9 C124.0,305.7 125.3,309.5 126.8,313.4 C128.3,317.2 129.8,321.1 131.5,324.9 C133.2,328.8 135.9,334.6 136.8,336.5" stroke="#ff0000" stroke-opacity="0.13" stroke-width="55" fill="none" stroke-linecap="butt"/><path d="M181.5,82.2 C180.7,83.8 178.1,88.7 176.5,91.9 C174.9,95.2 173.4,98.4 172.0,101.7 C170.5,104.9 169.1,108.2 167.8,111.4 C166.5,114.6 165.3,117.9 164.1,121.1 C163.0,124.4 161.9,127.6 160.9,130.9 C159.8,134.1 158.5,139.0 158.0,140.6" stroke="#0000ff" stroke-opacity="0.19" stroke-width="26" fill="none" stroke-linecap="butt"/><path d="M158.0,140.6 C157.2,144.2 154.5,154.9 153.3,162.1 C152.0,169.2 151.2,176.4 150.6,183.5 C150.1,190.7 149.9,197.8 150.1,205.0 C150.2,212.2 150.7,219.3 151.6,226.5 C152.5,233.6 153.7,240.8 155.2,247.9 C156.8,255.1 160.0,265.8 160.9,269.4" stroke="#0000ff" stroke-opacity="0.32" stroke-width="26" fill="none" stroke-linecap="butt"/><path d="M160.9,269.4 C161.5,271.0 163.1,275.9 164.2,279.1 C165.4,282.4 166.6,285.6 167.9,288.9 C169.3,292.1 170.6,295.4 172.1,298.6 C173.5,301.8 175.1,305.1 176.7,308.3 C178.3,311.6 179.9,314.8 181.7,318.1 C183.4,321.3 186.2,326.2 187.1,327.8" stroke="#0000ff" stroke-opacity="0.19" stroke-width="26" fill="none" stroke-linecap="butt"/><path d="M258.1,65.6 C256.7,67.5 252.3,73.1 249.6,76.8 C246.9,80.5 244.4,84.3 241.9,88.0 C239.4,91.7 237.1,95.5 234.9,99.2 C232.7,102.9 230.6,106.7 228.6,110.4 C226.6,114.1 224.8,117.9 223.1,121.6 C221.4,125.3 219.1,130.9 218.3,132.8" stroke="#ff0000" stroke-opacity="0.16" stroke-width="48" fill="none" stroke-linecap="butt"/><path d="M218.3,132.8 C217.1,136.5 212.9,147.7 210.9,155.2 C208.9,162.7 207.5,170.1 206.5,177.6 C205.5,185.1 205.0,192.5 205.0,200.0 C205.0,207.5 205.5,214.9 206.5,222.4 C207.5,229.9 208.9,237.3 210.9,244.8 C212.9,252.3 217.1,263.5 218.3,267.2" stroke="#ff0000" stroke-opacity="0.27" stroke-width="48" fill="none" stroke-linecap="butt"/><path d="M218.3,267.2 C219.1,269.1 221.4,274.7 223.1,278.4 C224.8,282.1 226.6,285.9 228.6,289.6 C230.6,293.3 232.7,297.1 234.9,300.8 C237.1,304.5 239.4,308.3 241.9,312.0 C244.4,315.7 246.9,319.5 249.6,323.2 C252.3,326.9 256.7,332.5 258.1,334.4" stroke="#ff0000" stroke-opacity="0.16" stroke-width="48" fill="none" stroke-linecap="butt"/><path d="M268.0,90.4 C267.3,92.1 265.2,97.1 263.8,100.4 C262.5,103.8 261.2,107.1 260.0,110.5 C258.8,113.8 257.7,117.2 256.6,120.5 C255.6,123.8 254.6,127.2 253.7,130.5 C252.7,133.9 251.9,137.2 251.1,140.6 C250.3,143.9 249.2,148.9 248.9,150.6" stroke="#0000ff" stroke-opacity="0.27" stroke-width="32" fill="none" stroke-linecap="butt"/><path d="M248.9,150.6 C248.3,154.2 246.4,164.9 245.6,172.1 C244.8,179.2 244.3,186.4 244.1,193.5 C243.9,200.7 244.0,207.8 244.4,215.0 C244.9,222.2 245.6,229.3 246.7,236.5 C247.7,243.6 249.1,250.8 250.7,257.9 C252.4,265.1 255.6,275.8 256.6,279.4" stroke="#0000ff" stroke-opacity="0.44" stroke-width="32" fill="none" stroke-linecap="butt"/><path d="M256.6,279.4 C257.2,281.1 258.8,286.1 260.0,289.4 C261.2,292.8 262.5,296.1 263.8,299.5 C265.1,302.8 266.5,306.2 268.0,309.5 C269.4,312.8 271.0,316.2 272.6,319.5 C274.2,322.9 275.8,326.2 277.6,329.6 C279.3,332.9 282.1,337.9 283.0,339.6" stroke="#0000ff" stroke-opacity="0.27" stroke-width="32" fill="none" stroke-linecap="butt"/><path d="M244.6,139.1 Q242.1,165.0 244.6,190.9" stroke="#0000ff" stroke-opacity="0.38" stroke-width="37.8" fill="none" stroke-linecap="round"/><path d="M299.6,120.4 C299.3,121.5 298.5,124.6 297.9,126.8 C297.4,128.9 296.9,131.0 296.5,133.1 C296.0,135.3 295.5,137.4 295.1,139.5 C294.7,141.6 294.3,143.7 293.9,145.9 C293.5,148.0 293.1,150.1 292.8,152.2 C292.5,154.4 292.0,157.5 291.9,158.6" stroke="#ff0000" stroke-opacity="0.20" stroke-width="32" fill="none" stroke-linecap="butt"/><path d="M291.9,158.6 C291.6,160.6 290.8,166.7 290.4,170.7 C290.0,174.8 289.7,178.8 289.5,182.9 C289.3,186.9 289.1,191.0 289.0,195.0 C289.0,199.0 289.0,203.1 289.1,207.1 C289.2,211.2 289.4,215.2 289.6,219.3 C289.9,223.3 290.5,229.4 290.6,231.4" stroke="#ff0000" stroke-opacity="0.34" stroke-width="32" fill="none" stroke-linecap="butt"/><path d="M290.6,231.4 C290.8,232.5 291.1,235.6 291.4,237.8 C291.6,239.9 291.9,242.0 292.2,244.1 C292.6,246.3 292.9,248.4 293.3,250.5 C293.6,252.6 294.0,254.7 294.4,256.9 C294.8,259.0 295.2,261.1 295.7,263.2 C296.1,265.4 296.8,268.5 297.1,269.6" stroke="#ff0000" stroke-opacity="0.20" stroke-width="32" fill="none" stroke-linecap="butt"/><path d="M369.7,51.6 C368.9,53.3 366.4,58.4 364.8,61.8 C363.3,65.2 361.8,68.6 360.3,72.0 C358.9,75.4 357.5,78.8 356.1,82.2 C354.8,85.6 353.5,89.0 352.3,92.4 C351.1,95.8 349.9,99.2 348.8,102.6 C347.7,106.0 346.2,111.1 345.7,112.8" stroke="#0000ff" stroke-opacity="0.19" stroke-width="28" fill="none" stroke-linecap="butt"/><path d="M345.7,112.8 C344.7,116.5 341.6,127.7 340.0,135.2 C338.4,142.7 337.1,150.1 336.0,157.6 C334.9,165.1 334.2,172.5 333.7,180.0 C333.2,187.5 332.9,194.9 333.0,202.4 C333.1,209.9 333.4,217.3 334.0,224.8 C334.6,232.3 336.3,243.5 336.7,247.2" stroke="#0000ff" stroke-opacity="0.32" stroke-width="28" fill="none" stroke-linecap="butt"/><path d="M336.7,247.2 C337.0,248.9 337.8,254.0 338.5,257.4 C339.1,260.8 339.9,264.2 340.6,267.6 C341.4,271.0 342.2,274.4 343.1,277.8 C344.0,281.2 344.9,284.6 345.9,288.0 C346.9,291.4 348.0,294.8 349.1,298.2 C350.2,301.6 352.0,306.7 352.6,308.4" stroke="#0000ff" stroke-opacity="0.19" stroke-width="28" fill="none" stroke-linecap="butt"/><ellipse cx="333" cy="105" rx="18.9" ry="22.4" fill="#ff0000" fill-opacity="0.15"/><path d="M359.5,26.8 C360.4,28.9 363.1,35.4 364.9,39.6 C366.6,43.9 368.2,48.2 369.8,52.5 C371.4,56.7 372.9,61.0 374.3,65.3 C375.8,69.6 377.1,73.9 378.4,78.1 C379.7,82.4 381.0,86.7 382.1,91.0 C383.3,95.2 384.9,101.7 385.4,103.8" stroke="#ff0000" stroke-opacity="0.12" stroke-width="44" fill="none" stroke-linecap="butt"/><path d="M385.4,103.8 C386.4,108.3 389.5,121.8 391.0,130.9 C392.6,139.9 393.8,148.9 394.8,157.9 C395.7,167.0 396.4,176.0 396.7,185.0 C397.1,194.0 397.1,203.0 396.8,212.1 C396.5,221.1 396.0,230.1 395.1,239.1 C394.2,248.2 392.1,261.7 391.5,266.2" stroke="#ff0000" stroke-opacity="0.19" stroke-width="44" fill="none" stroke-linecap="butt"/><path d="M391.5,266.2 C391.1,268.3 390.0,274.8 389.2,279.0 C388.3,283.3 387.4,287.6 386.5,291.9 C385.5,296.1 384.4,300.4 383.3,304.7 C382.2,309.0 381.0,313.3 379.7,317.5 C378.5,321.8 377.1,326.1 375.8,330.4 C374.4,334.6 372.1,341.1 371.4,343.2" stroke="#ff0000" stroke-opacity="0.12" stroke-width="44" fill="none" stroke-linecap="butt"/><path d="M389.9,19.8 C391.1,22.0 395.0,28.5 397.4,32.9 C399.9,37.2 402.2,41.6 404.4,45.9 C406.7,50.3 408.8,54.6 410.9,59.0 C412.9,63.4 414.9,67.7 416.7,72.1 C418.6,76.4 420.3,80.8 422.0,85.1 C423.7,89.5 425.9,96.0 426.7,98.2" stroke="#0000ff" stroke-opacity="0.14" stroke-width="34" fill="none" stroke-linecap="butt"/><path d="M426.7,98.2 C428.1,103.0 432.8,117.5 435.2,127.1 C437.5,136.8 439.4,146.4 440.8,156.1 C442.2,165.7 443.1,175.4 443.6,185.0 C444.1,194.6 444.1,204.3 443.7,213.9 C443.2,223.6 442.3,233.2 440.9,242.9 C439.6,252.5 436.3,267.0 435.4,271.8" stroke="#0000ff" stroke-opacity="0.23" stroke-width="34" fill="none" stroke-linecap="butt"/><path d="M435.4,271.8 C434.8,274.0 433.2,280.5 432.0,284.9 C430.8,289.2 429.4,293.6 428.0,297.9 C426.6,302.3 425.1,306.6 423.5,311.0 C421.9,315.4 420.1,319.7 418.3,324.1 C416.5,328.4 414.6,332.8 412.7,337.1 C410.7,341.5 407.4,348.0 406.4,350.2" stroke="#0000ff" stroke-opacity="0.14" stroke-width="34" fill="none" stroke-linecap="butt"/><path d="M417.1,15.2 C418.3,17.3 422.1,23.6 424.5,27.7 C426.9,31.9 429.3,36.1 431.5,40.3 C433.7,44.4 435.8,48.6 437.9,52.8 C439.9,57.0 441.9,61.2 443.8,65.3 C445.7,69.5 447.4,73.7 449.1,77.9 C450.8,82.0 453.2,88.3 454.0,90.4" stroke="#ff0000" stroke-opacity="0.07" stroke-width="16" fill="none" stroke-linecap="butt"/><path d="M454.0,90.4 C455.6,95.4 460.8,110.3 463.4,120.3 C466.1,130.2 468.2,140.2 469.9,150.1 C471.5,160.1 472.7,170.0 473.3,180.0 C474.0,190.0 474.2,199.9 473.8,209.9 C473.5,219.8 472.7,229.8 471.4,239.7 C470.1,249.7 466.8,264.6 465.9,269.6" stroke="#ff0000" stroke-opacity="0.12" stroke-width="16" fill="none" stroke-linecap="butt"/><path d="M465.9,269.6 C465.4,271.7 463.9,278.0 462.8,282.1 C461.6,286.3 460.4,290.5 459.1,294.7 C457.7,298.8 456.3,303.0 454.8,307.2 C453.4,311.4 451.8,315.6 450.1,319.7 C448.4,323.9 446.7,328.1 444.8,332.3 C443.0,336.4 440.0,342.7 439.1,344.8" stroke="#ff0000" stroke-opacity="0.07" stroke-width="16" fill="none" stroke-linecap="butt"/><ellipse cx="55" cy="283" rx="37.8" ry="44.8" fill="#ff0000" fill-opacity="0.15"/><ellipse cx="436" cy="325" rx="33.8" ry="22.4" fill="#ff0000" fill-opacity="0.12"/></g><g filter="url(#bl1)"><path d="M72.0,102.7 C70.2,108.8 64.2,127.5 61.0,139.0 C57.8,150.6 55.0,161.8 52.7,172.0 C50.4,182.2 48.0,195.3 47.0,200.0" stroke="#3a3aff" stroke-opacity="0.52" stroke-width="2" fill="none" stroke-linecap="round"/><path d="M152.6,125.0 C151.4,131.9 147.5,154.0 145.7,166.5 C143.8,179.0 141.8,188.4 141.5,200.0 C141.2,211.6 143.6,230.0 144.0,236.0" stroke="#3a3aff" stroke-opacity="0.72" stroke-width="2.5" fill="none" stroke-linecap="round"/><path d="M233.0,139.0 C232.3,144.5 230.3,160.0 229.0,172.0 C227.7,184.0 225.7,204.5 225.0,211.0" stroke="#3a3aff" stroke-opacity="0.72" stroke-width="2.5" fill="none" stroke-linecap="round"/></g>
<use href="#statics"/>
</g>
<use href="#frame"/>
<text class="t" transform="translate(15.4,51.9) scale(1,1.03)">05-Aug-2011 04:00</text>
<text class="lb" x="15.0" y="376.2">(h)</text>
<circle cx="197.4" cy="139.6" r="4.7" fill="#00ff00"/><circle cx="197.4" cy="189.9" r="4.7" fill="#00ff00"/><circle cx="197.4" cy="238.3" r="4.7" fill="#00ff00"/><circle cx="259" cy="149.1" r="4.7" fill="#00ff00"/><circle cx="259" cy="193.2" r="4.7" fill="#00ff00"/><path d="M215.6,171.4 L145.9,171.4 M159.7,185.2 L145.9,171.4 L159.7,157.6" stroke="#0000ff" stroke-width="5.3" fill="none" stroke-linecap="round" stroke-linejoin="round"/><path d="M300.4,193.6 L232.7,177.1 M242.8,193.8 L232.7,177.1 L249.4,167.0" stroke="#000" stroke-width="5.3" fill="none" stroke-linecap="round" stroke-linejoin="round"/>
</g>
<g transform="translate(1233.3,928.9)">
<rect x="0" y="0" width="480.6" height="394.6" fill="#fff"/>
<g clip-path="url(#clipP)">
<g filter="url(#fld)"><path d="M73.0,111.6 C72.3,113.1 70.2,117.7 68.9,120.7 C67.6,123.7 66.3,126.8 65.1,129.8 C63.9,132.8 62.7,135.9 61.6,138.9 C60.5,141.9 59.4,145.0 58.4,148.0 C57.5,151.0 56.5,154.1 55.6,157.1 C54.7,160.1 53.6,164.7 53.1,166.2" stroke="#0000ff" stroke-opacity="0.09" stroke-width="28" fill="none" stroke-linecap="butt"/><path d="M53.1,166.2 C52.4,169.5 50.1,179.3 48.9,185.8 C47.8,192.3 46.9,198.9 46.2,205.4 C45.6,211.9 45.2,218.5 45.0,225.0 C44.9,231.5 45.0,238.1 45.4,244.6 C45.8,251.1 46.4,257.7 47.3,264.2 C48.2,270.7 50.2,280.5 50.8,283.8" stroke="#0000ff" stroke-opacity="0.15" stroke-width="28" fill="none" stroke-linecap="butt"/><path d="M50.8,283.8 C51.1,285.3 52.1,289.9 52.9,292.9 C53.7,295.9 54.5,299.0 55.4,302.0 C56.2,305.0 57.2,308.1 58.2,311.1 C59.1,314.1 60.2,317.2 61.3,320.2 C62.4,323.2 63.5,326.3 64.7,329.3 C65.9,332.3 67.9,336.9 68.5,338.4" stroke="#0000ff" stroke-opacity="0.09" stroke-width="28" fill="none" stroke-linecap="butt"/><path d="M172.3,42.0 C170.6,44.1 165.3,50.4 162.0,54.5 C158.6,58.7 155.4,62.9 152.3,67.1 C149.2,71.2 146.3,75.4 143.4,79.6 C140.6,83.8 137.8,88.0 135.2,92.1 C132.6,96.3 130.1,100.5 127.7,104.7 C125.3,108.8 122.0,115.1 120.9,117.2" stroke="#ff0000" stroke-opacity="0.12" stroke-width="60" fill="none" stroke-linecap="butt"/><path d="M120.9,117.2 C119.1,121.2 113.1,133.4 109.8,141.5 C106.6,149.6 103.7,157.6 101.4,165.7 C99.0,173.8 97.1,181.9 95.6,190.0 C94.2,198.1 93.1,206.2 92.6,214.3 C92.0,222.4 91.9,230.4 92.2,238.5 C92.5,246.6 94.1,258.8 94.4,262.8" stroke="#ff0000" stroke-opacity="0.19" stroke-width="60" fill="none" stroke-linecap="butt"/><path d="M94.4,262.8 C94.8,264.9 95.8,271.2 96.7,275.3 C97.5,279.5 98.5,283.7 99.6,287.9 C100.7,292.0 101.9,296.2 103.3,300.4 C104.6,304.6 106.1,308.8 107.6,312.9 C109.2,317.1 110.9,321.3 112.7,325.5 C114.5,329.6 117.5,335.9 118.5,338.0" stroke="#ff0000" stroke-opacity="0.12" stroke-width="60" fill="none" stroke-linecap="butt"/><path d="M192.6,72.2 C191.4,73.9 187.8,78.9 185.6,82.3 C183.3,85.7 181.1,89.0 179.0,92.4 C176.9,95.8 174.9,99.1 172.9,102.5 C171.0,105.9 169.1,109.2 167.3,112.6 C165.5,116.0 163.8,119.3 162.2,122.7 C160.5,126.1 158.3,131.1 157.5,132.8" stroke="#0000ff" stroke-opacity="0.19" stroke-width="26" fill="none" stroke-linecap="butt"/><path d="M157.5,132.8 C156.0,136.5 151.3,147.7 148.7,155.2 C146.2,162.7 144.0,170.1 142.2,177.6 C140.5,185.1 139.1,192.5 138.0,200.0 C137.0,207.5 136.4,214.9 136.1,222.4 C135.9,229.9 136.0,237.3 136.5,244.8 C137.0,252.3 138.7,263.5 139.1,267.2" stroke="#0000ff" stroke-opacity="0.32" stroke-width="26" fill="none" stroke-linecap="butt"/><path d="M139.1,267.2 C139.5,268.9 140.4,273.9 141.1,277.3 C141.8,280.7 142.6,284.0 143.5,287.4 C144.4,290.8 145.3,294.1 146.4,297.5 C147.4,300.9 148.5,304.2 149.7,307.6 C150.9,311.0 152.1,314.3 153.5,317.7 C154.8,321.1 157.0,326.1 157.7,327.8" stroke="#0000ff" stroke-opacity="0.19" stroke-width="26" fill="none" stroke-linecap="butt"/><path d="M227.3,73.2 C226.0,75.1 221.8,80.7 219.3,84.4 C216.7,88.2 214.3,91.9 212.0,95.7 C209.7,99.4 207.5,103.2 205.5,106.9 C203.4,110.6 201.5,114.4 199.7,118.1 C197.9,121.9 196.2,125.6 194.7,129.4 C193.1,133.1 191.1,138.7 190.4,140.6" stroke="#ff0000" stroke-opacity="0.15" stroke-width="56" fill="none" stroke-linecap="butt"/><path d="M190.4,140.6 C189.4,144.2 185.8,154.9 184.2,162.1 C182.6,169.2 181.5,176.4 180.8,183.5 C180.1,190.7 179.9,197.8 180.1,205.0 C180.3,212.2 180.9,219.3 182.1,226.5 C183.2,233.6 184.7,240.8 186.8,247.9 C188.8,255.1 192.9,265.8 194.2,269.4" stroke="#ff0000" stroke-opacity="0.24" stroke-width="56" fill="none" stroke-linecap="butt"/><path d="M194.2,269.4 C195.0,271.3 197.3,276.9 199.1,280.6 C200.9,284.4 202.8,288.1 204.8,291.9 C206.8,295.6 209.0,299.4 211.3,303.1 C213.5,306.8 215.9,310.6 218.4,314.3 C221.0,318.1 223.6,321.8 226.4,325.6 C229.1,329.3 233.6,334.9 235.0,336.8" stroke="#ff0000" stroke-opacity="0.15" stroke-width="56" fill="none" stroke-linecap="butt"/><path d="M245.5,91.6 C244.8,93.2 242.8,97.9 241.6,101.1 C240.3,104.2 239.1,107.4 238.0,110.5 C236.9,113.7 235.8,116.8 234.8,120.0 C233.8,123.2 232.8,126.3 231.9,129.5 C231.1,132.6 230.2,135.8 229.5,138.9 C228.7,142.1 227.7,146.8 227.3,148.4" stroke="#0000ff" stroke-opacity="0.23" stroke-width="28" fill="none" stroke-linecap="butt"/><path d="M227.3,148.4 C226.8,151.8 224.8,162.1 223.9,168.9 C223.1,175.8 222.5,182.6 222.2,189.5 C221.9,196.3 221.9,203.2 222.2,210.0 C222.5,216.8 223.0,223.7 223.9,230.5 C224.7,237.4 225.8,244.2 227.2,251.1 C228.6,257.9 231.4,268.2 232.3,271.6" stroke="#0000ff" stroke-opacity="0.38" stroke-width="28" fill="none" stroke-linecap="butt"/><path d="M232.3,271.6 C232.7,273.2 234.1,277.9 235.1,281.1 C236.2,284.2 237.2,287.4 238.4,290.5 C239.5,293.7 240.7,296.8 242.0,300.0 C243.3,303.2 244.6,306.3 246.0,309.5 C247.3,312.6 248.8,315.8 250.3,318.9 C251.8,322.1 254.2,326.8 255.0,328.4" stroke="#0000ff" stroke-opacity="0.23" stroke-width="28" fill="none" stroke-linecap="butt"/><path d="M297.3,99.2 C296.8,100.7 295.0,105.0 293.9,108.0 C292.9,110.9 291.8,113.8 290.9,116.7 C289.9,119.7 289.0,122.6 288.1,125.5 C287.2,128.4 286.4,131.3 285.6,134.3 C284.9,137.2 284.2,140.1 283.5,143.0 C282.8,146.0 282.0,150.3 281.6,151.8" stroke="#ff0000" stroke-opacity="0.19" stroke-width="36" fill="none" stroke-linecap="butt"/><path d="M281.6,151.8 C281.2,154.8 279.6,163.6 278.9,169.5 C278.1,175.4 277.6,181.4 277.3,187.3 C277.0,193.2 276.9,199.1 277.1,205.0 C277.2,210.9 277.5,216.8 278.0,222.7 C278.6,228.6 279.3,234.6 280.3,240.5 C281.2,246.4 283.2,255.2 283.8,258.2" stroke="#ff0000" stroke-opacity="0.32" stroke-width="36" fill="none" stroke-linecap="butt"/><path d="M283.8,258.2 C284.1,259.7 285.2,264.0 286.0,267.0 C286.8,269.9 287.6,272.8 288.5,275.7 C289.4,278.7 290.3,281.6 291.3,284.5 C292.3,287.4 293.3,290.3 294.4,293.3 C295.5,296.2 296.6,299.1 297.8,302.0 C299.0,305.0 300.9,309.3 301.6,310.8" stroke="#ff0000" stroke-opacity="0.19" stroke-width="36" fill="none" stroke-linecap="butt"/><path d="M316.8,141.0 C316.6,141.9 316.1,144.7 315.8,146.5 C315.4,148.4 315.1,150.2 314.8,152.1 C314.5,153.9 314.3,155.8 314.0,157.6 C313.7,159.4 313.5,161.3 313.3,163.1 C313.0,165.0 312.8,166.8 312.6,168.7 C312.4,170.5 312.2,173.3 312.1,174.2" stroke="#0000ff" stroke-opacity="0.34" stroke-width="30" fill="none" stroke-linecap="butt"/><path d="M312.1,174.2 C312.0,175.9 311.6,181.0 311.4,184.5 C311.2,187.9 311.1,191.3 311.0,194.7 C311.0,198.2 311.0,201.6 311.0,205.0 C311.1,208.4 311.2,211.8 311.4,215.3 C311.6,218.7 311.8,222.1 312.1,225.5 C312.4,229.0 313.0,234.1 313.1,235.8" stroke="#0000ff" stroke-opacity="0.57" stroke-width="30" fill="none" stroke-linecap="butt"/><path d="M313.1,235.8 C313.3,236.7 313.6,239.5 313.8,241.3 C314.1,243.2 314.4,245.0 314.7,246.9 C314.9,248.7 315.3,250.6 315.6,252.4 C315.9,254.2 316.2,256.1 316.6,257.9 C316.9,259.8 317.3,261.6 317.7,263.5 C318.1,265.3 318.7,268.1 318.9,269.0" stroke="#0000ff" stroke-opacity="0.34" stroke-width="30" fill="none" stroke-linecap="butt"/><ellipse cx="266" cy="294" rx="24.3" ry="24.6" fill="#0000ff" fill-opacity="0.51"/><path d="M327.9,82.8 C327.7,83.4 326.9,85.3 326.4,86.6 C326.0,87.8 325.5,89.1 325.0,90.3 C324.6,91.6 324.1,92.8 323.7,94.1 C323.2,95.4 322.8,96.6 322.4,97.9 C322.0,99.1 321.5,100.4 321.1,101.6 C320.7,102.9 320.1,104.8 319.9,105.4" stroke="#0000ff" stroke-opacity="0.19" stroke-width="24" fill="none" stroke-linecap="butt"/><path d="M319.9,105.4 C319.6,106.5 318.6,109.8 317.9,111.9 C317.3,114.1 316.7,116.3 316.1,118.5 C315.5,120.6 314.9,122.8 314.4,125.0 C313.8,127.2 313.3,129.4 312.8,131.5 C312.3,133.7 311.8,135.9 311.4,138.1 C310.9,140.2 310.3,143.5 310.1,144.6" stroke="#0000ff" stroke-opacity="0.32" stroke-width="24" fill="none" stroke-linecap="butt"/><path d="M310.1,144.6 C310.0,145.2 309.7,147.1 309.4,148.4 C309.2,149.6 309.0,150.9 308.8,152.1 C308.6,153.4 308.4,154.6 308.2,155.9 C308.1,157.2 307.9,158.4 307.7,159.7 C307.5,160.9 307.4,162.2 307.2,163.4 C307.1,164.7 306.9,166.6 306.8,167.2" stroke="#0000ff" stroke-opacity="0.19" stroke-width="24" fill="none" stroke-linecap="butt"/><ellipse cx="319" cy="266" rx="16.2" ry="16.8" fill="#ff0000" fill-opacity="0.44"/><path d="M363.1,52.8 C362.7,53.7 361.4,56.3 360.6,58.0 C359.8,59.8 359.0,61.5 358.2,63.3 C357.4,65.0 356.6,66.8 355.8,68.5 C355.1,70.2 354.3,72.0 353.6,73.7 C352.8,75.5 352.1,77.2 351.4,79.0 C350.7,80.7 349.7,83.3 349.3,84.2" stroke="#ff0000" stroke-opacity="0.15" stroke-width="24" fill="none" stroke-linecap="butt"/><path d="M349.3,84.2 C348.7,85.9 346.8,91.0 345.6,94.5 C344.4,97.9 343.2,101.3 342.1,104.7 C341.0,108.2 340.0,111.6 339.0,115.0 C338.1,118.4 337.2,121.8 336.3,125.3 C335.5,128.7 334.7,132.1 333.9,135.5 C333.2,139.0 332.2,144.1 331.9,145.8" stroke="#ff0000" stroke-opacity="0.24" stroke-width="24" fill="none" stroke-linecap="butt"/><path d="M331.9,145.8 C331.7,146.7 331.3,149.3 331.0,151.0 C330.7,152.8 330.4,154.5 330.2,156.3 C329.9,158.0 329.7,159.8 329.5,161.5 C329.2,163.2 329.0,165.0 328.8,166.7 C328.7,168.5 328.5,170.2 328.3,172.0 C328.1,173.7 327.9,176.3 327.9,177.2" stroke="#ff0000" stroke-opacity="0.15" stroke-width="24" fill="none" stroke-linecap="butt"/><ellipse cx="266" cy="111" rx="13.5" ry="16.8" fill="#ff0000" fill-opacity="0.19"/><path d="M377.2,92.8 C376.8,93.9 375.7,97.0 375.0,99.1 C374.2,101.2 373.6,103.4 372.9,105.5 C372.2,107.6 371.6,109.7 371.0,111.8 C370.3,113.9 369.7,116.0 369.2,118.1 C368.6,120.2 368.0,122.4 367.5,124.5 C367.0,126.6 366.2,129.7 366.0,130.8" stroke="#0000ff" stroke-opacity="0.15" stroke-width="24" fill="none" stroke-linecap="butt"/><path d="M366.0,130.8 C365.5,133.0 364.1,139.5 363.3,143.9 C362.4,148.2 361.7,152.6 361.1,156.9 C360.5,161.3 359.9,165.6 359.5,170.0 C359.1,174.4 358.7,178.7 358.5,183.1 C358.2,187.4 358.1,191.8 358.0,196.1 C358.0,200.5 358.1,207.0 358.1,209.2" stroke="#0000ff" stroke-opacity="0.25" stroke-width="24" fill="none" stroke-linecap="butt"/><path d="M358.1,209.2 C358.2,210.3 358.3,213.4 358.4,215.5 C358.5,217.6 358.6,219.8 358.8,221.9 C359.0,224.0 359.1,226.1 359.3,228.2 C359.5,230.3 359.7,232.4 360.0,234.5 C360.2,236.6 360.5,238.8 360.8,240.9 C361.1,243.0 361.6,246.1 361.7,247.2" stroke="#0000ff" stroke-opacity="0.15" stroke-width="24" fill="none" stroke-linecap="butt"/><path d="M370.4,26.5 C371.3,28.7 374.1,35.3 375.9,39.8 C377.7,44.2 379.4,48.6 381.0,53.0 C382.6,57.4 384.2,61.8 385.6,66.2 C387.1,70.7 388.5,75.1 389.8,79.5 C391.2,83.9 392.4,88.3 393.6,92.8 C394.8,97.2 396.4,103.8 397.0,106.0" stroke="#ff0000" stroke-opacity="0.10" stroke-width="45" fill="none" stroke-linecap="butt"/><path d="M397.0,106.0 C397.9,110.7 401.0,124.7 402.6,134.0 C404.1,143.3 405.3,152.7 406.2,162.0 C407.1,171.3 407.6,180.7 407.9,190.0 C408.1,199.3 408.0,208.7 407.6,218.0 C407.2,227.3 406.4,236.7 405.4,246.0 C404.3,255.3 401.9,269.3 401.2,274.0" stroke="#ff0000" stroke-opacity="0.17" stroke-width="45" fill="none" stroke-linecap="butt"/><path d="M401.2,274.0 C400.7,276.2 399.4,282.8 398.5,287.2 C397.5,291.7 396.5,296.1 395.4,300.5 C394.3,304.9 393.1,309.3 391.8,313.8 C390.6,318.2 389.2,322.6 387.8,327.0 C386.4,331.4 385.0,335.8 383.4,340.2 C381.9,344.7 379.4,351.3 378.5,353.5" stroke="#ff0000" stroke-opacity="0.10" stroke-width="45" fill="none" stroke-linecap="butt"/><path d="M397.9,19.8 C399.1,22.0 403.0,28.5 405.4,32.9 C407.9,37.2 410.2,41.6 412.4,45.9 C414.7,50.3 416.8,54.6 418.9,59.0 C420.9,63.4 422.9,67.7 424.7,72.1 C426.6,76.4 428.3,80.8 430.0,85.1 C431.7,89.5 433.9,96.0 434.7,98.2" stroke="#0000ff" stroke-opacity="0.15" stroke-width="34" fill="none" stroke-linecap="butt"/><path d="M434.7,98.2 C436.1,103.0 440.8,117.5 443.2,127.1 C445.5,136.8 447.4,146.4 448.8,156.1 C450.2,165.7 451.1,175.4 451.6,185.0 C452.1,194.6 452.1,204.3 451.7,213.9 C451.2,223.6 450.3,233.2 448.9,242.9 C447.6,252.5 444.3,267.0 443.4,271.8" stroke="#0000ff" stroke-opacity="0.25" stroke-width="34" fill="none" stroke-linecap="butt"/><path d="M443.4,271.8 C442.8,274.0 441.2,280.5 440.0,284.9 C438.8,289.2 437.4,293.6 436.0,297.9 C434.6,302.3 433.1,306.6 431.5,311.0 C429.9,315.4 428.1,319.7 426.3,324.1 C424.5,328.4 422.6,332.8 420.7,337.1 C418.7,341.5 415.4,348.0 414.4,350.2" stroke="#0000ff" stroke-opacity="0.15" stroke-width="34" fill="none" stroke-linecap="butt"/><ellipse cx="125" cy="291" rx="44.6" ry="39.2" fill="#ff0000" fill-opacity="0.15"/><ellipse cx="28" cy="277" rx="27.0" ry="33.6" fill="#ff0000" fill-opacity="0.12"/><ellipse cx="375" cy="305" rx="20.2" ry="22.4" fill="#ff0000" fill-opacity="0.12"/></g><g filter="url(#bl1)"><path d="M139.0,125.0 C137.5,131.9 132.3,154.0 130.0,166.5 C127.7,179.0 125.3,188.4 125.0,200.0 C124.7,211.6 127.5,230.0 128.0,236.0" stroke="#3a3aff" stroke-opacity="0.78" stroke-width="2.5" fill="none" stroke-linecap="round"/><path d="M219.0,139.0 C218.2,144.5 215.8,160.5 214.0,172.0 C212.2,183.5 209.0,202.0 208.0,208.0" stroke="#3a3aff" stroke-opacity="0.72" stroke-width="2.5" fill="none" stroke-linecap="round"/><path d="M50.0,139.0 L42.0,180.0" stroke="#3a3aff" stroke-opacity="0.33" stroke-width="2" fill="none" stroke-linecap="round"/></g>
<use href="#statics"/>
</g>
<use href="#frame"/>
<text class="t" transform="translate(15.4,51.9) scale(1,1.03)">05-Aug-2011 06:00</text>
<text class="lb" x="15.0" y="376.2">(i)</text>
<circle cx="197.4" cy="139.6" r="4.7" fill="#00ff00"/><circle cx="197.4" cy="189.9" r="4.7" fill="#00ff00"/><circle cx="197.4" cy="238.3" r="4.7" fill="#00ff00"/><circle cx="259" cy="149.1" r="4.7" fill="#00ff00"/><circle cx="259" cy="193.2" r="4.7" fill="#00ff00"/><path d="M200.4,170.8 L131.4,170.8 M145.2,184.6 L131.4,170.8 L145.2,157.0" stroke="#0000ff" stroke-width="5.3" fill="none" stroke-linecap="round" stroke-linejoin="round"/><path d="M286.6,192.3 L218.2,176.5 M228.5,193.0 L218.2,176.5 L234.7,166.2" stroke="#000" stroke-width="5.3" fill="none" stroke-linecap="round" stroke-linejoin="round"/>
</g>
<g transform="translate(98.6,1385.1)">
<rect x="0" y="0" width="480.6" height="394.6" fill="#fff"/>
<g clip-path="url(#clipP)">
<g filter="url(#fld)"><path d="M55.4,142.2 C55.0,143.5 53.6,147.5 52.8,150.1 C51.9,152.7 51.1,155.4 50.4,158.0 C49.6,160.6 48.9,163.3 48.2,165.9 C47.5,168.5 46.9,171.2 46.3,173.8 C45.7,176.4 45.2,179.1 44.7,181.7 C44.2,184.3 43.5,188.3 43.3,189.6" stroke="#0000ff" stroke-opacity="0.09" stroke-width="26" fill="none" stroke-linecap="butt"/><path d="M43.3,189.6 C42.9,192.4 41.6,200.8 41.1,206.4 C40.6,212.0 40.2,217.6 40.1,223.2 C39.9,228.8 40.0,234.4 40.2,240.0 C40.4,245.6 40.8,251.2 41.4,256.8 C42.0,262.4 42.8,268.0 43.8,273.6 C44.8,279.2 46.7,287.6 47.3,290.4" stroke="#0000ff" stroke-opacity="0.15" stroke-width="26" fill="none" stroke-linecap="butt"/><path d="M47.3,290.4 C47.6,291.7 48.6,295.7 49.3,298.3 C50.0,300.9 50.8,303.6 51.6,306.2 C52.4,308.8 53.3,311.5 54.1,314.1 C55.0,316.7 56.0,319.4 56.9,322.0 C57.9,324.6 58.9,327.3 60.0,329.9 C61.0,332.5 62.7,336.5 63.2,337.8" stroke="#0000ff" stroke-opacity="0.09" stroke-width="26" fill="none" stroke-linecap="butt"/><path d="M162.3,43.2 C160.6,45.3 155.4,51.4 152.2,55.5 C148.9,59.6 145.8,63.8 142.7,67.9 C139.7,72.0 136.8,76.1 134.0,80.2 C131.2,84.3 128.5,88.4 125.9,92.5 C123.4,96.6 120.9,100.8 118.6,104.9 C116.2,109.0 113.0,115.1 111.9,117.2" stroke="#ff0000" stroke-opacity="0.12" stroke-width="56" fill="none" stroke-linecap="butt"/><path d="M111.9,117.2 C110.1,121.2 104.1,133.4 100.8,141.5 C97.6,149.6 94.7,157.6 92.4,165.7 C90.0,173.8 88.1,181.9 86.6,190.0 C85.2,198.1 84.1,206.2 83.6,214.3 C83.0,222.4 82.9,230.4 83.2,238.5 C83.5,246.6 85.1,258.8 85.4,262.8" stroke="#ff0000" stroke-opacity="0.19" stroke-width="56" fill="none" stroke-linecap="butt"/><path d="M85.4,262.8 C85.8,264.9 86.8,271.0 87.6,275.1 C88.5,279.2 89.4,283.4 90.5,287.5 C91.6,291.6 92.8,295.7 94.1,299.8 C95.4,303.9 96.8,308.0 98.3,312.1 C99.9,316.2 101.5,320.4 103.3,324.5 C105.0,328.6 108.0,334.7 108.9,336.8" stroke="#ff0000" stroke-opacity="0.12" stroke-width="56" fill="none" stroke-linecap="butt"/><path d="M175.2,72.8 C174.0,74.5 170.5,79.5 168.2,82.8 C166.0,86.1 163.9,89.5 161.8,92.8 C159.7,96.1 157.7,99.5 155.8,102.8 C153.8,106.1 152.0,109.5 150.2,112.8 C148.4,116.1 146.7,119.5 145.1,122.8 C143.5,126.1 141.2,131.1 140.5,132.8" stroke="#0000ff" stroke-opacity="0.17" stroke-width="24" fill="none" stroke-linecap="butt"/><path d="M140.5,132.8 C139.0,136.5 134.3,147.7 131.7,155.2 C129.2,162.7 127.0,170.1 125.2,177.6 C123.5,185.1 122.1,192.5 121.0,200.0 C120.0,207.5 119.4,214.9 119.1,222.4 C118.9,229.9 119.0,237.3 119.5,244.8 C120.0,252.3 121.7,263.5 122.1,267.2" stroke="#0000ff" stroke-opacity="0.28" stroke-width="24" fill="none" stroke-linecap="butt"/><path d="M122.1,267.2 C122.5,268.9 123.3,273.9 124.1,277.2 C124.8,280.5 125.6,283.9 126.4,287.2 C127.3,290.5 128.2,293.9 129.3,297.2 C130.3,300.5 131.4,303.9 132.5,307.2 C133.7,310.5 135.0,313.9 136.3,317.2 C137.6,320.5 139.8,325.5 140.5,327.2" stroke="#0000ff" stroke-opacity="0.17" stroke-width="24" fill="none" stroke-linecap="butt"/><path d="M213.3,73.2 C212.0,75.1 207.8,80.7 205.3,84.4 C202.7,88.2 200.3,91.9 198.0,95.7 C195.7,99.4 193.5,103.2 191.5,106.9 C189.4,110.6 187.5,114.4 185.7,118.1 C183.9,121.9 182.2,125.6 180.7,129.4 C179.1,133.1 177.1,138.7 176.4,140.6" stroke="#ff0000" stroke-opacity="0.15" stroke-width="56" fill="none" stroke-linecap="butt"/><path d="M176.4,140.6 C175.4,144.2 171.8,154.9 170.2,162.1 C168.6,169.2 167.5,176.4 166.8,183.5 C166.1,190.7 165.9,197.8 166.1,205.0 C166.3,212.2 166.9,219.3 168.1,226.5 C169.2,233.6 170.7,240.8 172.8,247.9 C174.8,255.1 178.9,265.8 180.2,269.4" stroke="#ff0000" stroke-opacity="0.24" stroke-width="56" fill="none" stroke-linecap="butt"/><path d="M180.2,269.4 C181.0,271.3 183.3,276.9 185.1,280.6 C186.9,284.4 188.8,288.1 190.8,291.9 C192.8,295.6 195.0,299.4 197.3,303.1 C199.5,306.8 201.9,310.6 204.4,314.3 C207.0,318.1 209.6,321.8 212.4,325.6 C215.1,329.3 219.6,334.9 221.0,336.8" stroke="#ff0000" stroke-opacity="0.15" stroke-width="56" fill="none" stroke-linecap="butt"/><path d="M239.0,81.6 C238.3,83.2 236.0,88.2 234.6,91.4 C233.2,94.7 231.8,98.0 230.5,101.3 C229.2,104.5 228.0,107.8 226.8,111.1 C225.6,114.4 224.5,117.7 223.5,120.9 C222.5,124.2 221.5,127.5 220.6,130.8 C219.7,134.0 218.5,139.0 218.1,140.6" stroke="#0000ff" stroke-opacity="0.23" stroke-width="28" fill="none" stroke-linecap="butt"/><path d="M218.1,140.6 C217.4,144.2 215.0,154.9 213.9,162.1 C212.8,169.2 212.0,176.4 211.5,183.5 C211.1,190.7 210.9,197.8 211.1,205.0 C211.2,212.2 211.6,219.3 212.4,226.5 C213.2,233.6 214.2,240.8 215.6,247.9 C217.0,255.1 219.8,265.8 220.6,269.4" stroke="#0000ff" stroke-opacity="0.38" stroke-width="28" fill="none" stroke-linecap="butt"/><path d="M220.6,269.4 C221.1,271.0 222.5,276.0 223.6,279.2 C224.6,282.5 225.7,285.8 226.9,289.1 C228.0,292.3 229.3,295.6 230.6,298.9 C231.9,302.2 233.2,305.5 234.6,308.7 C236.1,312.0 237.6,315.3 239.1,318.6 C240.7,321.8 243.2,326.8 244.0,328.4" stroke="#0000ff" stroke-opacity="0.23" stroke-width="28" fill="none" stroke-linecap="butt"/><ellipse cx="258" cy="300" rx="27.0" ry="24.6" fill="#0000ff" fill-opacity="0.51"/><path d="M292.2,56.8 C291.3,58.8 288.5,64.6 286.8,68.5 C285.1,72.4 283.5,76.4 281.9,80.3 C280.3,84.2 278.8,88.1 277.4,92.0 C276.0,95.9 274.7,99.8 273.4,103.7 C272.2,107.6 271.0,111.6 269.9,115.5 C268.8,119.4 267.3,125.2 266.8,127.2" stroke="#ff0000" stroke-opacity="0.17" stroke-width="44" fill="none" stroke-linecap="butt"/><path d="M266.8,127.2 C266.0,131.2 263.2,143.4 261.9,151.5 C260.6,159.6 259.6,167.6 259.0,175.7 C258.3,183.8 258.0,191.9 258.0,200.0 C258.0,208.1 258.3,216.2 259.0,224.3 C259.6,232.4 260.6,240.4 261.9,248.5 C263.2,256.6 266.0,268.8 266.8,272.8" stroke="#ff0000" stroke-opacity="0.29" stroke-width="44" fill="none" stroke-linecap="butt"/><path d="M266.8,272.8 C267.3,274.8 268.8,280.6 269.9,284.5 C271.0,288.4 272.2,292.4 273.4,296.3 C274.7,300.2 276.0,304.1 277.4,308.0 C278.8,311.9 280.3,315.8 281.9,319.7 C283.5,323.6 285.1,327.6 286.8,331.5 C288.5,335.4 291.3,341.2 292.2,343.2" stroke="#ff0000" stroke-opacity="0.17" stroke-width="44" fill="none" stroke-linecap="butt"/><path d="M342.0,51.0 C341.2,52.7 338.8,57.6 337.2,60.9 C335.7,64.2 334.2,67.6 332.8,70.9 C331.4,74.2 330.0,77.5 328.7,80.8 C327.4,84.1 326.1,87.4 324.9,90.7 C323.7,94.0 322.5,97.4 321.4,100.7 C320.3,104.0 318.8,108.9 318.3,110.6" stroke="#0000ff" stroke-opacity="0.27" stroke-width="30" fill="none" stroke-linecap="butt"/><path d="M318.3,110.6 C317.4,114.2 314.3,124.9 312.7,132.1 C311.1,139.2 309.7,146.4 308.6,153.5 C307.5,160.7 306.6,167.8 306.0,175.0 C305.4,182.2 305.1,189.3 305.0,196.5 C304.9,203.6 305.1,210.8 305.5,217.9 C306.0,225.1 307.2,235.8 307.6,239.4" stroke="#0000ff" stroke-opacity="0.44" stroke-width="30" fill="none" stroke-linecap="butt"/><path d="M307.6,239.4 C307.8,241.1 308.5,246.0 309.1,249.3 C309.6,252.6 310.2,256.0 310.9,259.3 C311.5,262.6 312.2,265.9 313.0,269.2 C313.7,272.5 314.6,275.8 315.4,279.1 C316.3,282.4 317.2,285.8 318.2,289.1 C319.2,292.4 320.8,297.3 321.3,299.0" stroke="#0000ff" stroke-opacity="0.27" stroke-width="30" fill="none" stroke-linecap="butt"/><path d="M376.1,39.8 C375.4,41.6 373.2,47.0 371.9,50.7 C370.5,54.3 369.2,57.9 368.0,61.5 C366.7,65.2 365.5,68.8 364.4,72.4 C363.2,76.0 362.1,79.6 361.0,83.3 C360.0,86.9 359.0,90.5 358.0,94.1 C357.1,97.8 355.7,103.2 355.3,105.0" stroke="#ff0000" stroke-opacity="0.20" stroke-width="34" fill="none" stroke-linecap="butt"/><path d="M355.3,105.0 C354.5,108.9 351.8,120.6 350.4,128.3 C349.0,136.1 347.9,143.9 346.9,151.7 C346.0,159.4 345.3,167.2 344.8,175.0 C344.3,182.8 344.0,190.6 344.0,198.3 C344.0,206.1 344.2,213.9 344.6,221.7 C345.0,229.4 346.2,241.1 346.5,245.0" stroke="#ff0000" stroke-opacity="0.34" stroke-width="34" fill="none" stroke-linecap="butt"/><path d="M346.5,245.0 C346.8,246.8 347.4,252.2 347.9,255.9 C348.4,259.5 349.0,263.1 349.6,266.7 C350.2,270.4 350.8,274.0 351.5,277.6 C352.2,281.2 353.0,284.8 353.8,288.5 C354.6,292.1 355.4,295.7 356.3,299.3 C357.2,303.0 358.7,308.4 359.2,310.2" stroke="#ff0000" stroke-opacity="0.20" stroke-width="34" fill="none" stroke-linecap="butt"/><ellipse cx="319" cy="266" rx="18.9" ry="22.4" fill="#ff0000" fill-opacity="0.29"/><ellipse cx="291" cy="319" rx="18.9" ry="28.0" fill="#ff0000" fill-opacity="0.29"/><path d="M347.5,51.6 C348.0,53.0 349.5,57.2 350.5,60.0 C351.5,62.8 352.4,65.5 353.3,68.3 C354.2,71.1 355.1,73.9 356.0,76.7 C356.9,79.5 357.7,82.3 358.5,85.1 C359.3,87.9 360.1,90.6 360.8,93.4 C361.5,96.2 362.6,100.4 362.9,101.8" stroke="#0000ff" stroke-opacity="0.15" stroke-width="28" fill="none" stroke-linecap="butt"/><path d="M362.9,101.8 C363.6,104.8 365.7,113.6 366.9,119.5 C368.1,125.4 369.2,131.4 370.1,137.3 C371.0,143.2 371.8,149.1 372.5,155.0 C373.1,160.9 373.7,166.8 374.1,172.7 C374.5,178.6 374.7,184.6 374.9,190.5 C375.0,196.4 374.9,205.2 374.9,208.2" stroke="#0000ff" stroke-opacity="0.25" stroke-width="28" fill="none" stroke-linecap="butt"/><path d="M374.9,208.2 C374.9,209.6 374.8,213.8 374.7,216.6 C374.5,219.4 374.4,222.1 374.2,224.9 C374.0,227.7 373.8,230.5 373.6,233.3 C373.4,236.1 373.1,238.9 372.8,241.7 C372.5,244.5 372.2,247.2 371.9,250.0 C371.5,252.8 370.9,257.0 370.7,258.4" stroke="#0000ff" stroke-opacity="0.15" stroke-width="28" fill="none" stroke-linecap="butt"/><path d="M371.0,25.0 C372.2,27.2 376.1,34.0 378.5,38.5 C381.0,43.0 383.3,47.5 385.5,52.0 C387.7,56.5 389.8,61.0 391.8,65.5 C393.9,70.0 395.8,74.5 397.6,79.0 C399.4,83.5 401.1,88.0 402.7,92.5 C404.4,97.0 406.5,103.8 407.3,106.0" stroke="#ff0000" stroke-opacity="0.10" stroke-width="50" fill="none" stroke-linecap="butt"/><path d="M407.3,106.0 C408.5,110.7 412.7,124.7 414.7,134.0 C416.8,143.3 418.4,152.7 419.6,162.0 C420.8,171.3 421.5,180.7 421.8,190.0 C422.1,199.3 422.0,208.7 421.5,218.0 C420.9,227.3 419.9,236.7 418.5,246.0 C417.0,255.3 413.8,269.3 412.9,274.0" stroke="#ff0000" stroke-opacity="0.17" stroke-width="50" fill="none" stroke-linecap="butt"/><path d="M412.9,274.0 C412.3,276.2 410.6,283.0 409.2,287.5 C407.9,292.0 406.5,296.5 405.0,301.0 C403.5,305.5 401.9,310.0 400.1,314.5 C398.4,319.0 396.6,323.5 394.7,328.0 C392.8,332.5 390.8,337.0 388.6,341.5 C386.5,346.0 383.1,352.8 382.0,355.0" stroke="#ff0000" stroke-opacity="0.10" stroke-width="50" fill="none" stroke-linecap="butt"/><path d="M414.0,23.4 C415.2,25.5 418.8,31.7 421.1,35.9 C423.4,40.0 425.6,44.2 427.7,48.3 C429.8,52.5 431.8,56.6 433.7,60.8 C435.6,65.0 437.5,69.1 439.2,73.3 C441.0,77.4 442.7,81.6 444.2,85.7 C445.8,89.9 448.0,96.1 448.7,98.2" stroke="#0000ff" stroke-opacity="0.14" stroke-width="22" fill="none" stroke-linecap="butt"/><path d="M448.7,98.2 C450.1,103.0 454.8,117.5 457.2,127.1 C459.5,136.8 461.4,146.4 462.8,156.1 C464.2,165.7 465.1,175.4 465.6,185.0 C466.1,194.6 466.1,204.3 465.7,213.9 C465.2,223.6 464.3,233.2 462.9,242.9 C461.6,252.5 458.3,267.0 457.4,271.8" stroke="#0000ff" stroke-opacity="0.23" stroke-width="22" fill="none" stroke-linecap="butt"/><path d="M457.4,271.8 C456.9,273.9 455.3,280.1 454.2,284.3 C453.0,288.4 451.7,292.6 450.4,296.7 C449.1,300.9 447.6,305.0 446.1,309.2 C444.6,313.4 443.0,317.5 441.3,321.7 C439.6,325.8 437.9,330.0 436.0,334.1 C434.2,338.3 431.2,344.5 430.2,346.6" stroke="#0000ff" stroke-opacity="0.14" stroke-width="22" fill="none" stroke-linecap="butt"/><ellipse cx="30" cy="236" rx="27.0" ry="44.8" fill="#ff0000" fill-opacity="0.12"/><ellipse cx="65" cy="330" rx="27.0" ry="33.6" fill="#0000ff" fill-opacity="0.19"/></g><g filter="url(#bl1)"><path d="M125.0,125.0 C123.6,131.0 118.8,149.5 116.5,161.0 C114.2,172.5 111.4,181.5 111.0,194.0 C110.6,206.5 113.5,229.0 114.0,236.0" stroke="#3a3aff" stroke-opacity="0.78" stroke-width="2.5" fill="none" stroke-linecap="round"/><path d="M205.0,139.0 C204.3,144.5 202.8,160.0 201.0,172.0 C199.2,184.0 195.2,204.5 194.0,211.0" stroke="#3a3aff" stroke-opacity="0.65" stroke-width="2.5" fill="none" stroke-linecap="round"/></g>
<use href="#statics"/>
</g>
<use href="#frame"/>
<text class="t" transform="translate(15.4,51.9) scale(1,1.03)">05-Aug-2011 08:00</text>
<text class="lb" x="15.0" y="376.2">(j)</text>
<circle cx="197.4" cy="139.6" r="4.7" fill="#00ff00"/><circle cx="197.4" cy="189.9" r="4.7" fill="#00ff00"/><circle cx="197.4" cy="238.3" r="4.7" fill="#00ff00"/><circle cx="259" cy="149.1" r="4.7" fill="#00ff00"/><circle cx="259" cy="193.2" r="4.7" fill="#00ff00"/><path d="M185.1,171.8 L115.5,171.8 M129.3,185.6 L115.5,171.8 L129.3,158.0" stroke="#0000ff" stroke-width="5.3" fill="none" stroke-linecap="round" stroke-linejoin="round"/><path d="M271.3,191.5 L203.5,175.6 M213.8,192.2 L203.5,175.6 L220.1,165.3" stroke="#000" stroke-width="5.3" fill="none" stroke-linecap="round" stroke-linejoin="round"/>
</g>
<g transform="translate(666.4,1385.1)">
<rect x="0" y="0" width="480.6" height="394.6" fill="#fff"/>
<g clip-path="url(#clipP)">
<g filter="url(#fld)"><path d="M156.8,43.8 C155.2,45.7 150.4,51.5 147.4,55.3 C144.3,59.1 141.4,63.0 138.5,66.8 C135.7,70.6 132.9,74.5 130.3,78.3 C127.7,82.1 125.1,86.0 122.7,89.8 C120.2,93.6 117.9,97.5 115.6,101.3 C113.4,105.1 110.3,110.9 109.2,112.8" stroke="#ff0000" stroke-opacity="0.12" stroke-width="54" fill="none" stroke-linecap="butt"/><path d="M109.2,112.8 C107.4,116.5 101.6,127.7 98.4,135.2 C95.2,142.7 92.4,150.1 89.9,157.6 C87.5,165.1 85.4,172.5 83.7,180.0 C82.0,187.5 80.7,194.9 79.7,202.4 C78.8,209.9 78.2,217.3 78.1,224.8 C77.9,232.3 78.6,243.5 78.7,247.2" stroke="#ff0000" stroke-opacity="0.19" stroke-width="54" fill="none" stroke-linecap="butt"/><path d="M78.7,247.2 C78.9,249.1 79.4,254.9 79.9,258.7 C80.4,262.5 81.0,266.4 81.7,270.2 C82.4,274.0 83.2,277.9 84.1,281.7 C85.0,285.5 86.0,289.4 87.1,293.2 C88.2,297.0 89.4,300.9 90.7,304.7 C92.0,308.5 94.2,314.3 94.9,316.2" stroke="#ff0000" stroke-opacity="0.12" stroke-width="54" fill="none" stroke-linecap="butt"/><path d="M161.6,72.2 C160.4,73.9 156.8,78.9 154.6,82.3 C152.3,85.7 150.1,89.0 148.0,92.4 C145.9,95.8 143.9,99.1 141.9,102.5 C140.0,105.9 138.1,109.2 136.3,112.6 C134.5,116.0 132.8,119.3 131.2,122.7 C129.5,126.1 127.3,131.1 126.5,132.8" stroke="#0000ff" stroke-opacity="0.17" stroke-width="26" fill="none" stroke-linecap="butt"/><path d="M126.5,132.8 C125.0,136.5 120.3,147.7 117.7,155.2 C115.2,162.7 113.0,170.1 111.2,177.6 C109.5,185.1 108.1,192.5 107.0,200.0 C106.0,207.5 105.4,214.9 105.1,222.4 C104.9,229.9 105.0,237.3 105.5,244.8 C106.0,252.3 107.7,263.5 108.1,267.2" stroke="#0000ff" stroke-opacity="0.28" stroke-width="26" fill="none" stroke-linecap="butt"/><path d="M108.1,267.2 C108.5,268.9 109.4,273.9 110.1,277.3 C110.8,280.7 111.6,284.0 112.5,287.4 C113.4,290.8 114.3,294.1 115.4,297.5 C116.4,300.9 117.5,304.2 118.7,307.6 C119.9,311.0 121.1,314.3 122.5,317.7 C123.8,321.1 126.0,326.1 126.7,327.8" stroke="#0000ff" stroke-opacity="0.17" stroke-width="26" fill="none" stroke-linecap="butt"/><path d="M210.0,63.2 C208.6,65.1 204.0,70.9 201.1,74.8 C198.3,78.7 195.5,82.5 193.0,86.4 C190.4,90.3 187.9,94.1 185.6,98.0 C183.3,101.9 181.1,105.7 179.0,109.6 C177.0,113.5 175.1,117.3 173.3,121.2 C171.5,125.1 169.1,130.9 168.3,132.8" stroke="#ff0000" stroke-opacity="0.12" stroke-width="56" fill="none" stroke-linecap="butt"/><path d="M168.3,132.8 C167.1,136.5 162.9,147.7 160.9,155.2 C158.9,162.7 157.5,170.1 156.5,177.6 C155.5,185.1 155.0,192.5 155.0,200.0 C155.0,207.5 155.5,214.9 156.5,222.4 C157.5,229.9 158.9,237.3 160.9,244.8 C162.9,252.3 167.1,263.5 168.3,267.2" stroke="#ff0000" stroke-opacity="0.19" stroke-width="56" fill="none" stroke-linecap="butt"/><path d="M168.3,267.2 C169.1,269.1 171.5,274.9 173.3,278.8 C175.1,282.7 177.0,286.5 179.0,290.4 C181.1,294.3 183.3,298.1 185.6,302.0 C187.9,305.9 190.4,309.7 193.0,313.6 C195.5,317.5 198.3,321.3 201.1,325.2 C204.0,329.1 208.6,334.9 210.0,336.8" stroke="#ff0000" stroke-opacity="0.12" stroke-width="56" fill="none" stroke-linecap="butt"/><path d="M228.0,81.6 C227.3,83.2 225.0,88.2 223.6,91.4 C222.2,94.7 220.8,98.0 219.5,101.3 C218.2,104.5 217.0,107.8 215.8,111.1 C214.6,114.4 213.5,117.7 212.5,120.9 C211.5,124.2 210.5,127.5 209.6,130.8 C208.7,134.0 207.5,139.0 207.1,140.6" stroke="#0000ff" stroke-opacity="0.23" stroke-width="28" fill="none" stroke-linecap="butt"/><path d="M207.1,140.6 C206.4,144.2 204.0,154.9 202.9,162.1 C201.8,169.2 201.0,176.4 200.5,183.5 C200.1,190.7 199.9,197.8 200.1,205.0 C200.2,212.2 200.6,219.3 201.4,226.5 C202.2,233.6 203.2,240.8 204.6,247.9 C206.0,255.1 208.8,265.8 209.6,269.4" stroke="#0000ff" stroke-opacity="0.38" stroke-width="28" fill="none" stroke-linecap="butt"/><path d="M209.6,269.4 C210.1,271.0 211.5,276.0 212.6,279.2 C213.6,282.5 214.7,285.8 215.9,289.1 C217.0,292.3 218.3,295.6 219.6,298.9 C220.9,302.2 222.2,305.5 223.6,308.7 C225.1,312.0 226.6,315.3 228.1,318.6 C229.7,321.8 232.2,326.8 233.0,328.4" stroke="#0000ff" stroke-opacity="0.23" stroke-width="28" fill="none" stroke-linecap="butt"/><path d="M274.8,78.0 C274.1,79.8 271.9,85.2 270.6,88.8 C269.3,92.4 268.0,96.0 266.8,99.6 C265.6,103.2 264.5,106.8 263.4,110.4 C262.3,114.0 261.3,117.6 260.3,121.2 C259.4,124.8 258.5,128.4 257.7,132.0 C256.9,135.6 255.8,141.0 255.5,142.8" stroke="#ff0000" stroke-opacity="0.17" stroke-width="40" fill="none" stroke-linecap="butt"/><path d="M255.5,142.8 C254.9,146.5 252.9,157.7 252.0,165.2 C251.2,172.7 250.6,180.1 250.3,187.6 C249.9,195.1 249.9,202.5 250.2,210.0 C250.4,217.5 250.9,224.9 251.7,232.4 C252.6,239.9 253.6,247.3 255.0,254.8 C256.4,262.3 259.1,273.5 259.9,277.2" stroke="#ff0000" stroke-opacity="0.29" stroke-width="40" fill="none" stroke-linecap="butt"/><path d="M259.9,277.2 C260.4,279.0 261.9,284.4 262.9,288.0 C264.0,291.6 265.1,295.2 266.3,298.8 C267.5,302.4 268.7,306.0 270.0,309.6 C271.3,313.2 272.7,316.8 274.2,320.4 C275.6,324.0 277.1,327.6 278.7,331.2 C280.3,334.8 282.8,340.2 283.6,342.0" stroke="#ff0000" stroke-opacity="0.17" stroke-width="40" fill="none" stroke-linecap="butt"/><path d="M294.9,140.4 C294.8,141.2 294.3,143.7 294.0,145.3 C293.7,146.9 293.4,148.6 293.1,150.2 C292.9,151.8 292.6,153.5 292.4,155.1 C292.1,156.7 291.9,158.4 291.7,160.0 C291.4,161.6 291.2,163.3 291.1,164.9 C290.9,166.5 290.6,169.0 290.5,169.8" stroke="#0000ff" stroke-opacity="0.38" stroke-width="32" fill="none" stroke-linecap="butt"/><path d="M290.5,169.8 C290.4,171.2 290.0,175.4 289.8,178.2 C289.6,181.0 289.4,183.8 289.3,186.6 C289.2,189.4 289.1,192.2 289.0,195.0 C289.0,197.8 289.0,200.6 289.0,203.4 C289.1,206.2 289.1,209.0 289.2,211.8 C289.3,214.6 289.6,218.8 289.7,220.2" stroke="#0000ff" stroke-opacity="0.63" stroke-width="32" fill="none" stroke-linecap="butt"/><path d="M289.7,220.2 C289.7,221.0 289.9,223.5 290.1,225.1 C290.2,226.7 290.3,228.4 290.5,230.0 C290.7,231.6 290.8,233.3 291.0,234.9 C291.2,236.5 291.4,238.2 291.6,239.8 C291.9,241.4 292.1,243.1 292.3,244.7 C292.6,246.3 293.0,248.8 293.1,249.6" stroke="#0000ff" stroke-opacity="0.38" stroke-width="32" fill="none" stroke-linecap="butt"/><ellipse cx="239" cy="305" rx="27.0" ry="31.4" fill="#0000ff" fill-opacity="0.38"/><path d="M375.0,50.4 C374.3,52.1 372.4,57.3 371.2,60.8 C370.0,64.3 368.9,67.7 367.7,71.2 C366.6,74.7 365.5,78.1 364.5,81.6 C363.5,85.1 362.5,88.5 361.6,92.0 C360.6,95.5 359.8,98.9 358.9,102.4 C358.1,105.9 356.9,111.1 356.5,112.8" stroke="#ff0000" stroke-opacity="0.17" stroke-width="32" fill="none" stroke-linecap="butt"/><path d="M356.5,112.8 C355.8,116.5 353.5,127.7 352.2,135.2 C351.0,142.7 350.0,150.1 349.2,157.6 C348.5,165.1 347.9,172.5 347.5,180.0 C347.1,187.5 347.0,194.9 347.0,202.4 C347.1,209.9 347.3,217.3 347.8,224.8 C348.2,232.3 349.4,243.5 349.8,247.2" stroke="#ff0000" stroke-opacity="0.29" stroke-width="32" fill="none" stroke-linecap="butt"/><path d="M349.8,247.2 C350.0,248.9 350.6,254.1 351.1,257.6 C351.6,261.1 352.2,264.5 352.8,268.0 C353.4,271.5 354.0,274.9 354.7,278.4 C355.4,281.9 356.1,285.3 356.9,288.8 C357.6,292.3 358.4,295.7 359.3,299.2 C360.2,302.7 361.6,307.9 362.0,309.6" stroke="#ff0000" stroke-opacity="0.17" stroke-width="32" fill="none" stroke-linecap="butt"/><ellipse cx="291" cy="319" rx="18.9" ry="22.4" fill="#ff0000" fill-opacity="0.24"/><ellipse cx="291" cy="250" rx="20.2" ry="16.8" fill="#ff0000" fill-opacity="0.15"/><path d="M355.2,51.0 C355.9,52.7 357.8,57.9 359.0,61.3 C360.1,64.7 361.3,68.2 362.4,71.6 C363.5,75.0 364.6,78.5 365.6,81.9 C366.6,85.3 367.5,88.8 368.5,92.2 C369.4,95.6 370.3,99.1 371.1,102.5 C372.0,105.9 373.1,111.1 373.5,112.8" stroke="#0000ff" stroke-opacity="0.15" stroke-width="30" fill="none" stroke-linecap="butt"/><path d="M373.5,112.8 C374.2,116.5 376.5,127.7 377.8,135.2 C379.0,142.7 380.0,150.1 380.8,157.6 C381.5,165.1 382.1,172.5 382.5,180.0 C382.9,187.5 383.0,194.9 383.0,202.4 C382.9,209.9 382.7,217.3 382.2,224.8 C381.8,232.3 380.6,243.5 380.2,247.2" stroke="#0000ff" stroke-opacity="0.25" stroke-width="30" fill="none" stroke-linecap="butt"/><path d="M380.2,247.2 C380.0,248.9 379.4,254.1 378.9,257.5 C378.4,260.9 377.8,264.4 377.3,267.8 C376.7,271.2 376.0,274.7 375.4,278.1 C374.7,281.5 374.0,285.0 373.2,288.4 C372.5,291.8 371.7,295.3 370.8,298.7 C370.0,302.1 368.6,307.3 368.1,309.0" stroke="#0000ff" stroke-opacity="0.15" stroke-width="30" fill="none" stroke-linecap="butt"/><path d="M373.3,25.6 C374.6,27.8 378.4,34.5 380.8,39.0 C383.2,43.5 385.5,47.9 387.7,52.4 C389.9,56.9 392.0,61.3 394.0,65.8 C396.0,70.3 397.9,74.7 399.7,79.2 C401.5,83.7 403.2,88.1 404.8,92.6 C406.4,97.1 408.5,103.8 409.3,106.0" stroke="#ff0000" stroke-opacity="0.10" stroke-width="48" fill="none" stroke-linecap="butt"/><path d="M409.3,106.0 C410.5,110.7 414.7,124.7 416.7,134.0 C418.8,143.3 420.4,152.7 421.6,162.0 C422.8,171.3 423.5,180.7 423.8,190.0 C424.1,199.3 424.0,208.7 423.5,218.0 C422.9,227.3 421.9,236.7 420.5,246.0 C419.0,255.3 415.8,269.3 414.9,274.0" stroke="#ff0000" stroke-opacity="0.17" stroke-width="48" fill="none" stroke-linecap="butt"/><path d="M414.9,274.0 C414.3,276.2 412.6,282.9 411.3,287.4 C410.0,291.9 408.6,296.3 407.1,300.8 C405.6,305.3 404.0,309.7 402.3,314.2 C400.6,318.7 398.8,323.1 396.9,327.6 C395.0,332.1 393.0,336.5 390.9,341.0 C388.8,345.5 385.4,352.2 384.3,354.4" stroke="#ff0000" stroke-opacity="0.10" stroke-width="48" fill="none" stroke-linecap="butt"/><path d="M414.0,23.4 C415.2,25.5 418.8,31.7 421.1,35.9 C423.4,40.0 425.6,44.2 427.7,48.3 C429.8,52.5 431.8,56.6 433.7,60.8 C435.6,65.0 437.5,69.1 439.2,73.3 C441.0,77.4 442.7,81.6 444.2,85.7 C445.8,89.9 448.0,96.1 448.7,98.2" stroke="#0000ff" stroke-opacity="0.14" stroke-width="22" fill="none" stroke-linecap="butt"/><path d="M448.7,98.2 C450.1,103.0 454.8,117.5 457.2,127.1 C459.5,136.8 461.4,146.4 462.8,156.1 C464.2,165.7 465.1,175.4 465.6,185.0 C466.1,194.6 466.1,204.3 465.7,213.9 C465.2,223.6 464.3,233.2 462.9,242.9 C461.6,252.5 458.3,267.0 457.4,271.8" stroke="#0000ff" stroke-opacity="0.23" stroke-width="22" fill="none" stroke-linecap="butt"/><path d="M457.4,271.8 C456.9,273.9 455.3,280.1 454.2,284.3 C453.0,288.4 451.7,292.6 450.4,296.7 C449.1,300.9 447.6,305.0 446.1,309.2 C444.6,313.4 443.0,317.5 441.3,321.7 C439.6,325.8 437.9,330.0 436.0,334.1 C434.2,338.3 431.2,344.5 430.2,346.6" stroke="#0000ff" stroke-opacity="0.14" stroke-width="22" fill="none" stroke-linecap="butt"/><ellipse cx="92" cy="311" rx="40.5" ry="39.2" fill="#ff0000" fill-opacity="0.17"/><ellipse cx="216" cy="78" rx="27.0" ry="13.4" fill="#ff0000" fill-opacity="0.15"/><ellipse cx="322" cy="266" rx="13.5" ry="11.2" fill="#0000ff" fill-opacity="0.32"/></g><g filter="url(#bl1)"><path d="M111.0,116.5 C109.6,122.9 105.2,142.1 102.7,155.0 C100.2,167.9 96.2,180.5 95.7,194.0 C95.2,207.5 99.3,229.0 100.0,236.0" stroke="#3a3aff" stroke-opacity="0.78" stroke-width="2.5" fill="none" stroke-linecap="round"/><path d="M197.0,127.6 C196.1,134.1 193.3,153.1 191.5,166.5 C189.7,179.9 186.9,201.1 186.0,208.0" stroke="#3a3aff" stroke-opacity="0.72" stroke-width="2.5" fill="none" stroke-linecap="round"/><path d="M111.0,236.0 C113.3,242.9 120.3,263.7 125.0,277.5 C129.7,291.3 136.7,312.1 139.0,319.0" stroke="#3a3aff" stroke-opacity="0.39" stroke-width="2" fill="none" stroke-linecap="round"/></g>
<use href="#statics"/>
</g>
<use href="#frame"/>
<text class="t" transform="translate(15.4,51.9) scale(1,1.03)">05-Aug-2011 10:00</text>
<text class="lb" x="15.0" y="376.2">(k)</text>
<circle cx="197.4" cy="139.6" r="4.7" fill="#00ff00"/><circle cx="197.4" cy="189.9" r="4.7" fill="#00ff00"/><circle cx="197.4" cy="238.3" r="4.7" fill="#00ff00"/><circle cx="259" cy="149.1" r="4.7" fill="#00ff00"/><circle cx="259" cy="193.2" r="4.7" fill="#00ff00"/><path d="M172.3,170.6 L101.4,170.6 M115.2,184.4 L101.4,170.6 L115.2,156.8" stroke="#0000ff" stroke-width="5.3" fill="none" stroke-linecap="round" stroke-linejoin="round"/><path d="M255.9,192.7 L186.3,176.3 M196.6,192.9 L186.3,176.3 L202.9,166.0" stroke="#000" stroke-width="5.3" fill="none" stroke-linecap="round" stroke-linejoin="round"/>
</g>
<g transform="translate(1233.3,1385.1)">
<rect x="0" y="0" width="480.6" height="394.6" fill="#fff"/>
<g clip-path="url(#clipP)">
<g filter="url(#fld)"><path d="M117.8,63.8 C116.3,65.8 111.9,71.7 109.1,75.7 C106.4,79.6 103.7,83.6 101.1,87.5 C98.6,91.5 96.1,95.4 93.8,99.4 C91.4,103.4 89.2,107.3 87.0,111.3 C84.9,115.2 82.9,119.2 81.0,123.1 C79.0,127.1 76.4,133.0 75.5,135.0" stroke="#ff0000" stroke-opacity="0.12" stroke-width="54" fill="none" stroke-linecap="butt"/><path d="M75.5,135.0 C74.0,138.9 69.2,150.6 66.7,158.3 C64.1,166.1 62.0,173.9 60.3,181.7 C58.6,189.4 57.3,197.2 56.4,205.0 C55.5,212.8 55.1,220.6 55.0,228.3 C54.9,236.1 55.3,243.9 56.1,251.7 C56.8,259.4 59.0,271.1 59.6,275.0" stroke="#ff0000" stroke-opacity="0.19" stroke-width="54" fill="none" stroke-linecap="butt"/><path d="M59.6,275.0 C60.1,277.0 61.3,282.9 62.3,286.9 C63.4,290.8 64.5,294.8 65.7,298.7 C67.0,302.7 68.3,306.6 69.8,310.6 C71.2,314.6 72.8,318.5 74.4,322.5 C76.1,326.4 77.9,330.4 79.7,334.3 C81.6,338.3 84.7,344.2 85.7,346.2" stroke="#ff0000" stroke-opacity="0.12" stroke-width="54" fill="none" stroke-linecap="butt"/><path d="M156.9,61.0 C155.5,62.8 151.4,68.4 148.7,72.0 C146.1,75.7 143.5,79.4 141.1,83.1 C138.6,86.7 136.2,90.4 134.0,94.1 C131.7,97.8 129.5,101.5 127.4,105.1 C125.3,108.8 123.4,112.5 121.5,116.2 C119.5,119.8 116.9,125.4 116.0,127.2" stroke="#0000ff" stroke-opacity="0.19" stroke-width="30" fill="none" stroke-linecap="butt"/><path d="M116.0,127.2 C114.4,131.2 108.9,143.4 106.0,151.5 C103.1,159.6 100.7,167.6 98.7,175.7 C96.7,183.8 95.1,191.9 94.0,200.0 C92.9,208.1 92.3,216.2 92.1,224.3 C91.9,232.4 92.1,240.4 92.8,248.5 C93.5,256.6 95.6,268.8 96.2,272.8" stroke="#0000ff" stroke-opacity="0.32" stroke-width="30" fill="none" stroke-linecap="butt"/><path d="M96.2,272.8 C96.6,274.6 97.7,280.2 98.6,283.8 C99.5,287.5 100.5,291.2 101.6,294.9 C102.6,298.5 103.8,302.2 105.1,305.9 C106.4,309.6 107.7,313.3 109.2,316.9 C110.6,320.6 112.2,324.3 113.8,328.0 C115.5,331.6 118.1,337.2 119.0,339.0" stroke="#0000ff" stroke-opacity="0.19" stroke-width="30" fill="none" stroke-linecap="butt"/><path d="M207.4,53.2 C205.7,55.2 200.6,61.2 197.5,65.2 C194.3,69.2 191.3,73.1 188.4,77.1 C185.5,81.1 182.8,85.1 180.2,89.1 C177.6,93.1 175.1,97.1 172.8,101.1 C170.5,105.1 168.3,109.0 166.2,113.0 C164.2,117.0 161.5,123.0 160.5,125.0" stroke="#ff0000" stroke-opacity="0.12" stroke-width="56" fill="none" stroke-linecap="butt"/><path d="M160.5,125.0 C159.1,128.9 154.2,140.6 151.9,148.3 C149.5,156.1 147.7,163.9 146.4,171.7 C145.1,179.4 144.3,187.2 144.1,195.0 C143.8,202.8 144.1,210.6 145.0,218.3 C145.8,226.1 147.2,233.9 149.1,241.7 C151.0,249.4 155.2,261.1 156.4,265.0" stroke="#ff0000" stroke-opacity="0.19" stroke-width="56" fill="none" stroke-linecap="butt"/><path d="M156.4,265.0 C157.3,267.0 159.6,273.0 161.4,277.0 C163.2,281.0 165.2,284.9 167.3,288.9 C169.3,292.9 171.6,296.9 173.9,300.9 C176.3,304.9 178.8,308.9 181.5,312.9 C184.1,316.9 186.9,320.8 189.8,324.8 C192.8,328.8 197.5,334.8 199.0,336.8" stroke="#ff0000" stroke-opacity="0.12" stroke-width="56" fill="none" stroke-linecap="butt"/><path d="M208.0,81.6 C207.3,83.2 205.0,88.2 203.6,91.4 C202.2,94.7 200.8,98.0 199.5,101.3 C198.2,104.5 197.0,107.8 195.8,111.1 C194.6,114.4 193.5,117.7 192.5,120.9 C191.5,124.2 190.5,127.5 189.6,130.8 C188.7,134.0 187.5,139.0 187.1,140.6" stroke="#0000ff" stroke-opacity="0.23" stroke-width="28" fill="none" stroke-linecap="butt"/><path d="M187.1,140.6 C186.4,144.2 184.0,154.9 182.9,162.1 C181.8,169.2 181.0,176.4 180.5,183.5 C180.1,190.7 179.9,197.8 180.1,205.0 C180.2,212.2 180.6,219.3 181.4,226.5 C182.2,233.6 183.2,240.8 184.6,247.9 C186.0,255.1 188.8,265.8 189.6,269.4" stroke="#0000ff" stroke-opacity="0.38" stroke-width="28" fill="none" stroke-linecap="butt"/><path d="M189.6,269.4 C190.1,271.0 191.5,276.0 192.6,279.2 C193.6,282.5 194.7,285.8 195.9,289.1 C197.0,292.3 198.3,295.6 199.6,298.9 C200.9,302.2 202.2,305.5 203.6,308.7 C205.1,312.0 206.6,315.3 208.1,318.6 C209.7,321.8 212.2,326.8 213.0,328.4" stroke="#0000ff" stroke-opacity="0.23" stroke-width="28" fill="none" stroke-linecap="butt"/><path d="M250.3,84.4 C249.6,86.2 247.5,91.8 246.2,95.4 C244.9,99.1 243.7,102.8 242.6,106.5 C241.4,110.1 240.4,113.8 239.3,117.5 C238.3,121.2 237.4,124.9 236.5,128.5 C235.6,132.2 234.8,135.9 234.1,139.6 C233.3,143.2 232.4,148.8 232.1,150.6" stroke="#ff0000" stroke-opacity="0.16" stroke-width="52" fill="none" stroke-linecap="butt"/><path d="M232.1,150.6 C231.6,154.2 230.0,164.9 229.3,172.1 C228.6,179.2 228.2,186.4 228.1,193.5 C227.9,200.7 228.0,207.8 228.4,215.0 C228.7,222.2 229.3,229.3 230.2,236.5 C231.1,243.6 232.2,250.8 233.6,257.9 C235.0,265.1 237.7,275.8 238.5,279.4" stroke="#ff0000" stroke-opacity="0.27" stroke-width="52" fill="none" stroke-linecap="butt"/><path d="M238.5,279.4 C239.0,281.2 240.5,286.8 241.6,290.4 C242.7,294.1 243.9,297.8 245.2,301.5 C246.4,305.1 247.7,308.8 249.1,312.5 C250.5,316.2 251.9,319.9 253.4,323.5 C254.9,327.2 256.5,330.9 258.2,334.6 C259.8,338.2 262.5,343.8 263.3,345.6" stroke="#ff0000" stroke-opacity="0.16" stroke-width="52" fill="none" stroke-linecap="butt"/><path d="M291.3,101.0 C290.9,102.3 289.6,106.4 288.8,109.1 C288.0,111.8 287.2,114.5 286.4,117.2 C285.7,119.9 285.0,122.6 284.3,125.3 C283.6,128.0 283.0,130.7 282.4,133.4 C281.8,136.1 281.2,138.8 280.7,141.5 C280.2,144.2 279.5,148.2 279.2,149.6" stroke="#0000ff" stroke-opacity="0.27" stroke-width="30" fill="none" stroke-linecap="butt"/><path d="M279.2,149.6 C278.8,152.4 277.5,160.8 276.9,166.4 C276.3,172.0 275.8,177.6 275.5,183.2 C275.2,188.8 275.0,194.4 275.0,200.0 C275.0,205.6 275.2,211.2 275.5,216.8 C275.8,222.4 276.3,228.0 276.9,233.6 C277.5,239.2 278.8,247.6 279.2,250.4" stroke="#0000ff" stroke-opacity="0.44" stroke-width="30" fill="none" stroke-linecap="butt"/><path d="M279.2,250.4 C279.5,251.8 280.2,255.8 280.7,258.5 C281.2,261.2 281.8,263.9 282.4,266.6 C283.0,269.3 283.6,272.0 284.3,274.7 C285.0,277.4 285.7,280.1 286.4,282.8 C287.2,285.5 288.0,288.2 288.8,290.9 C289.6,293.6 290.9,297.6 291.3,299.0" stroke="#0000ff" stroke-opacity="0.27" stroke-width="30" fill="none" stroke-linecap="butt"/><path d="M317.6,168.6 C317.6,169.4 317.3,171.9 317.2,173.6 C317.0,175.3 316.9,177.0 316.8,178.6 C316.6,180.3 316.5,182.0 316.4,183.6 C316.4,185.3 316.3,187.0 316.2,188.7 C316.2,190.3 316.1,192.0 316.1,193.7 C316.0,195.4 316.0,197.9 316.0,198.7" stroke="#ff0000" stroke-opacity="0.23" stroke-width="38" fill="none" stroke-linecap="butt"/><path d="M316.0,198.7 C316.0,200.0 316.0,204.0 316.1,206.6 C316.1,209.3 316.2,211.9 316.4,214.6 C316.5,217.2 316.6,219.9 316.8,222.5 C317.0,225.1 317.3,227.8 317.5,230.4 C317.8,233.1 318.1,235.7 318.5,238.4 C318.8,241.0 319.4,245.0 319.6,246.3" stroke="#ff0000" stroke-opacity="0.39" stroke-width="38" fill="none" stroke-linecap="butt"/><path d="M319.6,246.3 C319.7,247.1 320.1,249.6 320.4,251.3 C320.7,253.0 321.0,254.7 321.3,256.3 C321.6,258.0 321.9,259.7 322.3,261.4 C322.6,263.0 323.0,264.7 323.3,266.4 C323.7,268.0 324.1,269.7 324.5,271.4 C324.9,273.1 325.5,275.6 325.7,276.4" stroke="#ff0000" stroke-opacity="0.23" stroke-width="38" fill="none" stroke-linecap="butt"/><path d="M327.9,82.8 C327.6,83.5 326.8,85.6 326.3,86.9 C325.8,88.3 325.3,89.7 324.8,91.1 C324.3,92.4 323.8,93.8 323.3,95.2 C322.8,96.6 322.4,98.0 321.9,99.3 C321.4,100.7 321.0,102.1 320.5,103.5 C320.1,104.8 319.4,106.9 319.2,107.6" stroke="#ff0000" stroke-opacity="0.13" stroke-width="24" fill="none" stroke-linecap="butt"/><path d="M319.2,107.6 C318.9,108.8 317.7,112.6 317.0,115.1 C316.3,117.6 315.6,120.0 315.0,122.5 C314.4,125.0 313.7,127.5 313.2,130.0 C312.6,132.5 312.0,135.0 311.5,137.5 C311.0,140.0 310.5,142.4 310.1,144.9 C309.6,147.4 309.0,151.2 308.8,152.4" stroke="#ff0000" stroke-opacity="0.21" stroke-width="24" fill="none" stroke-linecap="butt"/><path d="M308.8,152.4 C308.7,153.1 308.3,155.2 308.1,156.5 C307.9,157.9 307.8,159.3 307.6,160.7 C307.4,162.0 307.2,163.4 307.1,164.8 C306.9,166.2 306.8,167.6 306.6,168.9 C306.5,170.3 306.3,171.7 306.2,173.1 C306.1,174.4 305.9,176.5 305.9,177.2" stroke="#ff0000" stroke-opacity="0.13" stroke-width="24" fill="none" stroke-linecap="butt"/><ellipse cx="319" cy="266" rx="16.2" ry="20.2" fill="#0000ff" fill-opacity="0.57"/><path d="M360.8,64.0 C360.6,64.6 359.8,66.4 359.2,67.6 C358.7,68.8 358.2,69.9 357.7,71.1 C357.2,72.3 356.7,73.5 356.2,74.7 C355.7,75.9 355.2,77.1 354.7,78.3 C354.2,79.5 353.7,80.6 353.3,81.8 C352.8,83.0 352.1,84.8 351.9,85.4" stroke="#0000ff" stroke-opacity="0.27" stroke-width="20" fill="none" stroke-linecap="butt"/><path d="M351.9,85.4 C351.5,86.5 350.2,89.8 349.5,91.9 C348.7,94.1 347.9,96.3 347.2,98.5 C346.4,100.6 345.7,102.8 345.0,105.0 C344.4,107.2 343.7,109.4 343.0,111.5 C342.4,113.7 341.8,115.9 341.2,118.1 C340.6,120.2 339.8,123.5 339.5,124.6" stroke="#0000ff" stroke-opacity="0.44" stroke-width="20" fill="none" stroke-linecap="butt"/><path d="M339.5,124.6 C339.3,125.2 338.9,127.0 338.6,128.2 C338.3,129.4 338.0,130.5 337.8,131.7 C337.5,132.9 337.2,134.1 337.0,135.3 C336.7,136.5 336.5,137.7 336.2,138.9 C336.0,140.1 335.8,141.2 335.5,142.4 C335.3,143.6 335.0,145.4 334.9,146.0" stroke="#0000ff" stroke-opacity="0.27" stroke-width="20" fill="none" stroke-linecap="butt"/><path d="M387.7,73.4 C387.4,74.1 386.5,76.3 385.9,77.8 C385.3,79.3 384.7,80.7 384.1,82.2 C383.6,83.7 383.0,85.1 382.4,86.6 C381.9,88.1 381.3,89.5 380.8,91.0 C380.3,92.5 379.7,93.9 379.2,95.4 C378.7,96.9 378.0,99.1 377.7,99.8" stroke="#ff0000" stroke-opacity="0.09" stroke-width="22" fill="none" stroke-linecap="butt"/><path d="M377.7,99.8 C377.3,101.2 375.9,105.4 375.0,108.2 C374.2,111.0 373.4,113.8 372.6,116.6 C371.8,119.4 371.1,122.2 370.4,125.0 C369.7,127.8 369.0,130.6 368.4,133.4 C367.8,136.2 367.2,139.0 366.6,141.8 C366.1,144.6 365.4,148.8 365.1,150.2" stroke="#ff0000" stroke-opacity="0.15" stroke-width="22" fill="none" stroke-linecap="butt"/><path d="M365.1,150.2 C365.0,150.9 364.7,153.1 364.4,154.6 C364.2,156.1 364.0,157.5 363.8,159.0 C363.6,160.5 363.4,161.9 363.2,163.4 C363.1,164.9 362.9,166.3 362.7,167.8 C362.6,169.3 362.4,170.7 362.3,172.2 C362.2,173.7 362.0,175.9 361.9,176.6" stroke="#ff0000" stroke-opacity="0.09" stroke-width="22" fill="none" stroke-linecap="butt"/><path d="M365.3,48.6 C366.0,50.4 368.0,55.7 369.3,59.3 C370.5,62.9 371.7,66.4 372.9,70.0 C374.0,73.6 375.1,77.1 376.2,80.7 C377.3,84.3 378.3,87.8 379.3,91.4 C380.2,95.0 381.1,98.5 382.0,102.1 C382.9,105.7 384.1,111.0 384.5,112.8" stroke="#0000ff" stroke-opacity="0.17" stroke-width="38" fill="none" stroke-linecap="butt"/><path d="M384.5,112.8 C385.2,116.5 387.5,127.7 388.8,135.2 C390.0,142.7 391.0,150.1 391.8,157.6 C392.5,165.1 393.1,172.5 393.5,180.0 C393.9,187.5 394.0,194.9 394.0,202.4 C393.9,209.9 393.7,217.3 393.2,224.8 C392.8,232.3 391.6,243.5 391.2,247.2" stroke="#0000ff" stroke-opacity="0.28" stroke-width="38" fill="none" stroke-linecap="butt"/><path d="M391.2,247.2 C391.0,249.0 390.3,254.3 389.8,257.9 C389.3,261.5 388.7,265.0 388.1,268.6 C387.5,272.2 386.8,275.7 386.1,279.3 C385.4,282.9 384.7,286.4 383.9,290.0 C383.1,293.6 382.2,297.1 381.3,300.7 C380.4,304.3 379.0,309.6 378.5,311.4" stroke="#0000ff" stroke-opacity="0.17" stroke-width="38" fill="none" stroke-linecap="butt"/><path d="M381.3,15.6 C382.7,17.9 386.9,24.8 389.5,29.4 C392.1,34.0 394.6,38.5 397.0,43.1 C399.4,47.7 401.7,52.3 403.9,56.9 C406.1,61.5 408.1,66.1 410.1,70.7 C412.1,75.3 414.0,79.8 415.7,84.4 C417.5,89.0 419.9,95.9 420.7,98.2" stroke="#ff0000" stroke-opacity="0.12" stroke-width="48" fill="none" stroke-linecap="butt"/><path d="M420.7,98.2 C422.1,103.0 426.8,117.5 429.2,127.1 C431.5,136.8 433.4,146.4 434.8,156.1 C436.2,165.7 437.1,175.4 437.6,185.0 C438.1,194.6 438.1,204.3 437.7,213.9 C437.2,223.6 436.3,233.2 434.9,242.9 C433.6,252.5 430.3,267.0 429.4,271.8" stroke="#ff0000" stroke-opacity="0.19" stroke-width="48" fill="none" stroke-linecap="butt"/><path d="M429.4,271.8 C428.8,274.1 427.1,281.0 425.8,285.6 C424.5,290.2 423.1,294.7 421.6,299.3 C420.0,303.9 418.4,308.5 416.7,313.1 C415.0,317.7 413.1,322.3 411.2,326.9 C409.2,331.5 407.2,336.0 405.0,340.6 C402.9,345.2 399.4,352.1 398.3,354.4" stroke="#ff0000" stroke-opacity="0.12" stroke-width="48" fill="none" stroke-linecap="butt"/><path d="M414.7,14.6 C416.0,16.7 419.8,23.0 422.3,27.2 C424.7,31.4 427.0,35.7 429.3,39.9 C431.5,44.1 433.7,48.3 435.7,52.5 C437.8,56.7 439.8,60.9 441.7,65.1 C443.6,69.3 445.4,73.6 447.1,77.8 C448.8,82.0 451.2,88.3 452.0,90.4" stroke="#0000ff" stroke-opacity="0.11" stroke-width="18" fill="none" stroke-linecap="butt"/><path d="M452.0,90.4 C453.6,95.4 458.8,110.3 461.4,120.3 C464.1,130.2 466.2,140.2 467.9,150.1 C469.5,160.1 470.7,170.0 471.3,180.0 C472.0,190.0 472.2,199.9 471.8,209.9 C471.5,219.8 470.7,229.8 469.4,239.7 C468.1,249.7 464.8,264.6 463.9,269.6" stroke="#0000ff" stroke-opacity="0.19" stroke-width="18" fill="none" stroke-linecap="butt"/><path d="M463.9,269.6 C463.4,271.7 461.9,278.0 460.7,282.2 C459.6,286.4 458.3,290.7 457.0,294.9 C455.7,299.1 454.2,303.3 452.7,307.5 C451.2,311.7 449.6,315.9 447.9,320.1 C446.3,324.3 444.5,328.6 442.6,332.8 C440.8,337.0 437.7,343.3 436.8,345.4" stroke="#0000ff" stroke-opacity="0.11" stroke-width="18" fill="none" stroke-linecap="butt"/><ellipse cx="75" cy="291" rx="47.2" ry="44.8" fill="#ff0000" fill-opacity="0.15"/><ellipse cx="208" cy="83" rx="27.0" ry="13.4" fill="#ff0000" fill-opacity="0.15"/></g><g filter="url(#bl1)"><path d="M105.0,105.0 C103.2,110.7 97.2,127.8 94.0,139.0 C90.8,150.2 88.2,162.8 86.0,172.0 C83.8,181.2 81.4,190.3 80.5,194.0" stroke="#3a3aff" stroke-opacity="0.78" stroke-width="2.5" fill="none" stroke-linecap="round"/><path d="M116.5,105.0 C114.6,110.7 108.2,127.8 105.0,139.0 C101.8,150.2 98.3,166.5 97.0,172.0" stroke="#3a3aff" stroke-opacity="0.45" stroke-width="1.5" fill="none" stroke-linecap="round"/><path d="M189.0,125.0 C187.5,130.0 182.8,145.8 180.0,155.0 C177.2,164.2 174.2,170.7 172.0,180.0 C169.8,189.3 167.4,205.8 166.5,211.0" stroke="#3a3aff" stroke-opacity="0.72" stroke-width="2.5" fill="none" stroke-linecap="round"/><path d="M83.0,208.0 C85.3,215.0 91.4,233.8 97.0,250.0 C102.6,266.2 113.2,295.8 116.5,305.0" stroke="#3a3aff" stroke-opacity="0.39" stroke-width="2" fill="none" stroke-linecap="round"/></g>
<use href="#statics"/>
</g>
<use href="#frame"/>
<text class="t" transform="translate(15.4,51.9) scale(1,1.03)">05-Aug-2011 12:00</text>
<text class="lb" x="15.0" y="376.2">(l)</text>
<circle cx="197.4" cy="139.6" r="4.7" fill="#00ff00"/><circle cx="197.4" cy="189.9" r="4.7" fill="#00ff00"/><circle cx="197.4" cy="238.3" r="4.7" fill="#00ff00"/><circle cx="259" cy="149.1" r="4.7" fill="#00ff00"/><circle cx="259" cy="193.2" r="4.7" fill="#00ff00"/><path d="M156.0,168.7 L84.4,168.7 M98.2,182.5 L84.4,168.7 L98.2,154.9" stroke="#0000ff" stroke-width="5.3" fill="none" stroke-linecap="round" stroke-linejoin="round"/><path d="M239.6,192.1 L171.2,175.6 M181.4,192.2 L171.2,175.6 L187.8,165.4" stroke="#000" stroke-width="5.3" fill="none" stroke-linecap="round" stroke-linejoin="round"/>
</g>
<text class="ax" x="84.2" y="31.0" text-anchor="end">23°N</text>
<text class="ax" x="84.2" y="190.0" text-anchor="end">21°N</text>
<text class="ax" x="84.2" y="347.6" text-anchor="end">19°N</text>
<text class="ax" x="84.2" y="487.3" text-anchor="end">23°N</text>
<text class="ax" x="84.2" y="646.3" text-anchor="end">21°N</text>
<text class="ax" x="84.2" y="803.9" text-anchor="end">19°N</text>
<text class="ax" x="84.2" y="942.9" text-anchor="end">23°N</text>
<text class="ax" x="84.2" y="1101.9" text-anchor="end">21°N</text>
<text class="ax" x="84.2" y="1259.5" text-anchor="end">19°N</text>
<text class="ax" x="84.2" y="1399.1" text-anchor="end">23°N</text>
<text class="ax" x="84.2" y="1558.1" text-anchor="end">21°N</text>
<text class="ax" x="84.2" y="1715.7" text-anchor="end">19°N</text>
<text class="ax" x="98.6" y="1824.5" text-anchor="middle">116°E</text>
<text class="ax" x="246.6" y="1824.5" text-anchor="middle">118°E</text>
<text class="ax" x="394.5" y="1824.5" text-anchor="middle">120°E</text>
<text class="ax" x="542.5" y="1824.5" text-anchor="middle">122°E</text>
<text class="ax" x="666.4" y="1824.5" text-anchor="middle">116°E</text>
<text class="ax" x="814.4" y="1824.5" text-anchor="middle">118°E</text>
<text class="ax" x="962.3" y="1824.5" text-anchor="middle">120°E</text>
<text class="ax" x="1110.3" y="1824.5" text-anchor="middle">122°E</text>
<rect x="1217.3" y="1792.5" width="509.6" height="38.2" fill="url(#cb)" stroke="#262626" stroke-width="1.6"/>
<text class="cbl" x="1241.2" y="1885.5" text-anchor="middle">-100</text>
<text class="cbl" x="1357.1" y="1885.5" text-anchor="middle">-50</text>
<text class="cbl" x="1473.0" y="1885.5" text-anchor="middle">0</text>
<text class="cbl" x="1588.9" y="1885.5" text-anchor="middle">50</text>
<text class="cbl" x="1704.8" y="1885.5" text-anchor="middle">100</text>
<path d="M1240.4,1830.7 v-4.5 M1356.3,1830.7 v-4.5 M1472.2,1830.7 v-4.5 M1588.1,1830.7 v-4.5 M1704.0,1830.7 v-4.5 " stroke="#262626" stroke-width="1.6" fill="none"/>
</svg></body></html>
